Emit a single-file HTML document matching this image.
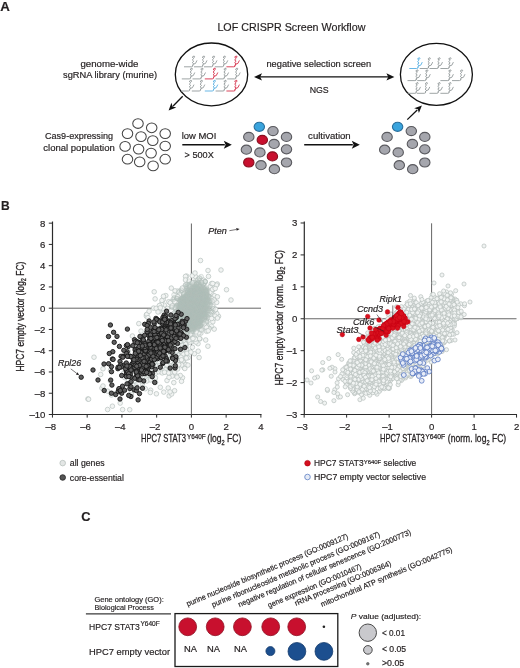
<!DOCTYPE html>
<html><head><meta charset="utf-8"><style>
html,body{margin:0;padding:0;background:#fff;}
svg{display:block;}
text{font-family:"Liberation Sans", Arial, sans-serif;fill:#231f20;stroke:#231f20;stroke-width:0.18px;}
</style></head><body>
<svg width="520" height="668" viewBox="0 0 520 668">
<rect width="520" height="668" fill="#fff"/>
<text x="0.3" y="10.9" font-size="12.4" font-weight="bold" fill="#000" textLength="9.6" lengthAdjust="spacingAndGlyphs" >A</text>
<text x="217.4" y="30.7" font-size="10.8" textLength="148" lengthAdjust="spacingAndGlyphs" >LOF CRISPR Screen Workflow</text>
<text x="109.4" y="66.5" font-size="9.3" text-anchor="middle" textLength="58" lengthAdjust="spacingAndGlyphs" >genome-wide</text>
<text x="110" y="78" font-size="9.3" text-anchor="middle" textLength="94" lengthAdjust="spacingAndGlyphs" >sgRNA library (murine)</text>
<text x="79" y="139.2" font-size="9.3" text-anchor="middle" textLength="68" lengthAdjust="spacingAndGlyphs" >Cas9-expressing</text>
<text x="79" y="150.5" font-size="9.3" text-anchor="middle" textLength="71.5" lengthAdjust="spacingAndGlyphs" >clonal population</text>
<text x="199" y="138.8" font-size="9.3" text-anchor="middle" textLength="34.7" lengthAdjust="spacingAndGlyphs" >low MOI</text>
<text x="199.2" y="157.7" font-size="9.3" text-anchor="middle" textLength="29.2" lengthAdjust="spacingAndGlyphs" >&gt; 500X</text>
<text x="329.4" y="138.8" font-size="9.3" text-anchor="middle" textLength="42.6" lengthAdjust="spacingAndGlyphs" >cultivation</text>
<text x="318.8" y="67" font-size="9.3" text-anchor="middle" textLength="104.7" lengthAdjust="spacingAndGlyphs" >negative selection screen</text>
<text x="319.2" y="92.8" font-size="9.3" text-anchor="middle" textLength="19.1" lengthAdjust="spacingAndGlyphs" >NGS</text>
<ellipse cx="211.5" cy="74.4" rx="36.2" ry="31.4" fill="none" stroke="#111" stroke-width="1.3"/>
<ellipse cx="436.4" cy="74.4" rx="36.0" ry="31.0" fill="none" stroke="#111" stroke-width="1.3"/>
<line x1="182.70" y1="96.20" x2="173.15" y2="105.96" stroke="#111" stroke-width="1.3"/>
<path d="M168.60,110.60 L171.42,102.86 L172.59,106.53 L176.28,107.62 Z" fill="#111"/>
<line x1="407.30" y1="119.60" x2="417.24" y2="109.93" stroke="#111" stroke-width="1.3"/>
<path d="M421.90,105.40 L418.89,113.07 L417.81,109.37 L414.15,108.19 Z" fill="#111"/>
<line x1="182.30" y1="144.80" x2="224.80" y2="144.80" stroke="#111" stroke-width="1.45"/>
<path d="M231.80,144.80 L223.80,148.80 L225.60,144.80 L223.80,140.80 Z" fill="#111"/>
<line x1="304.20" y1="144.80" x2="352.80" y2="144.80" stroke="#111" stroke-width="1.45"/>
<path d="M359.80,144.80 L351.80,148.80 L353.60,144.80 L351.80,140.80 Z" fill="#111"/>
<line x1="260" y1="76.9" x2="388" y2="76.9" stroke="#111" stroke-width="1.3"/>
<path d="M394.40,76.90 L386.40,80.50 L388.20,76.90 L386.40,73.30 Z" fill="#111"/>
<path d="M254.00,76.90 L262.00,73.30 L260.20,76.90 L262.00,80.50 Z" fill="#111"/>
<ellipse cx="138.0" cy="123.5" rx="5.25" ry="4.85" fill="#fff" stroke="#454545" stroke-width="1.05"/>
<ellipse cx="151.7" cy="127.8" rx="5.25" ry="4.85" fill="#fff" stroke="#454545" stroke-width="1.05"/>
<ellipse cx="127.5" cy="133.6" rx="5.25" ry="4.85" fill="#fff" stroke="#454545" stroke-width="1.05"/>
<ellipse cx="141.0" cy="136.6" rx="5.25" ry="4.85" fill="#fff" stroke="#454545" stroke-width="1.05"/>
<ellipse cx="152.8" cy="140.6" rx="5.25" ry="4.85" fill="#fff" stroke="#454545" stroke-width="1.05"/>
<ellipse cx="165.2" cy="133.6" rx="5.25" ry="4.85" fill="#fff" stroke="#454545" stroke-width="1.05"/>
<ellipse cx="125.1" cy="146.4" rx="5.25" ry="4.85" fill="#fff" stroke="#454545" stroke-width="1.05"/>
<ellipse cx="138.6" cy="149.1" rx="5.25" ry="4.85" fill="#fff" stroke="#454545" stroke-width="1.05"/>
<ellipse cx="151.1" cy="153.1" rx="5.25" ry="4.85" fill="#fff" stroke="#454545" stroke-width="1.05"/>
<ellipse cx="165.2" cy="146.0" rx="5.25" ry="4.85" fill="#fff" stroke="#454545" stroke-width="1.05"/>
<ellipse cx="127.5" cy="159.2" rx="5.25" ry="4.85" fill="#fff" stroke="#454545" stroke-width="1.05"/>
<ellipse cx="139.7" cy="161.9" rx="5.25" ry="4.85" fill="#fff" stroke="#454545" stroke-width="1.05"/>
<ellipse cx="153.1" cy="165.9" rx="5.25" ry="4.85" fill="#fff" stroke="#454545" stroke-width="1.05"/>
<ellipse cx="165.2" cy="159.2" rx="5.25" ry="4.85" fill="#fff" stroke="#454545" stroke-width="1.05"/>
<ellipse cx="259.3" cy="126.8" rx="5.2" ry="4.55" fill="#3aa4dd" stroke="#2a6f9c" stroke-width="1.1"/>
<ellipse cx="273.0" cy="131.1" rx="5.2" ry="4.55" fill="#a5a6ad" stroke="#59595e" stroke-width="1.1"/>
<ellipse cx="248.8" cy="136.9" rx="5.2" ry="4.55" fill="#a5a6ad" stroke="#59595e" stroke-width="1.1"/>
<ellipse cx="262.3" cy="139.9" rx="5.2" ry="4.55" fill="#c8102e" stroke="#8a0f1f" stroke-width="1.1"/>
<ellipse cx="274.1" cy="143.9" rx="5.2" ry="4.55" fill="#a5a6ad" stroke="#59595e" stroke-width="1.1"/>
<ellipse cx="286.5" cy="136.9" rx="5.2" ry="4.55" fill="#a5a6ad" stroke="#59595e" stroke-width="1.1"/>
<ellipse cx="246.4" cy="149.7" rx="5.2" ry="4.55" fill="#a5a6ad" stroke="#59595e" stroke-width="1.1"/>
<ellipse cx="259.9" cy="152.4" rx="5.2" ry="4.55" fill="#a5a6ad" stroke="#59595e" stroke-width="1.1"/>
<ellipse cx="272.4" cy="156.4" rx="5.2" ry="4.55" fill="#c8102e" stroke="#8a0f1f" stroke-width="1.1"/>
<ellipse cx="286.5" cy="149.3" rx="5.2" ry="4.55" fill="#a5a6ad" stroke="#59595e" stroke-width="1.1"/>
<ellipse cx="248.8" cy="162.5" rx="5.2" ry="4.55" fill="#c8102e" stroke="#8a0f1f" stroke-width="1.1"/>
<ellipse cx="261.0" cy="165.2" rx="5.2" ry="4.55" fill="#a5a6ad" stroke="#59595e" stroke-width="1.1"/>
<ellipse cx="274.4" cy="169.2" rx="5.2" ry="4.55" fill="#a5a6ad" stroke="#59595e" stroke-width="1.1"/>
<ellipse cx="286.5" cy="162.5" rx="5.2" ry="4.55" fill="#a5a6ad" stroke="#59595e" stroke-width="1.1"/>
<ellipse cx="397.6" cy="126.8" rx="5.2" ry="4.55" fill="#3aa4dd" stroke="#2a6f9c" stroke-width="1.1"/>
<ellipse cx="411.3" cy="131.1" rx="5.2" ry="4.55" fill="#a5a6ad" stroke="#59595e" stroke-width="1.1"/>
<ellipse cx="387.1" cy="136.9" rx="5.2" ry="4.55" fill="#a5a6ad" stroke="#59595e" stroke-width="1.1"/>
<ellipse cx="412.4" cy="143.9" rx="5.2" ry="4.55" fill="#a5a6ad" stroke="#59595e" stroke-width="1.1"/>
<ellipse cx="424.8" cy="136.9" rx="5.2" ry="4.55" fill="#a5a6ad" stroke="#59595e" stroke-width="1.1"/>
<ellipse cx="384.7" cy="149.7" rx="5.2" ry="4.55" fill="#a5a6ad" stroke="#59595e" stroke-width="1.1"/>
<ellipse cx="398.2" cy="152.4" rx="5.2" ry="4.55" fill="#a5a6ad" stroke="#59595e" stroke-width="1.1"/>
<ellipse cx="424.8" cy="149.3" rx="5.2" ry="4.55" fill="#a5a6ad" stroke="#59595e" stroke-width="1.1"/>
<ellipse cx="399.3" cy="165.2" rx="5.2" ry="4.55" fill="#a5a6ad" stroke="#59595e" stroke-width="1.1"/>
<ellipse cx="412.7" cy="169.2" rx="5.2" ry="4.55" fill="#a5a6ad" stroke="#59595e" stroke-width="1.1"/>
<ellipse cx="424.8" cy="162.5" rx="5.2" ry="4.55" fill="#a5a6ad" stroke="#59595e" stroke-width="1.1"/>
<g stroke="#8d9395" fill="none" stroke-width="0.85"><path d="M184.0,66.8 H191.4 Q193.0,66.8 193.0,65.2 L192.25,65.30 L193.75,63.95 L192.25,62.60 L193.75,61.25 L192.25,59.90 L193.75,58.55 L192.25,57.20 L193.00,57.10 q0.2,-1.6 1.4,-0.9 q0.6,0.6 -0.4,1.6"/><path d="M193.3,64.2 Q195.8,64.6 197.0,60.4"/></g>
<g stroke="#8d9395" fill="none" stroke-width="0.85"><path d="M194.0,66.8 H201.4 Q203.0,66.8 203.0,65.2 L202.25,65.30 L203.75,63.95 L202.25,62.60 L203.75,61.25 L202.25,59.90 L203.75,58.55 L202.25,57.20 L203.00,57.10 q0.2,-1.6 1.4,-0.9 q0.6,0.6 -0.4,1.6"/><path d="M203.3,64.2 Q205.8,64.6 207.0,60.4"/></g>
<g stroke="#8d9395" fill="none" stroke-width="0.85"><path d="M204.0,66.8 H211.4 Q213.0,66.8 213.0,65.2 L212.25,65.30 L213.75,63.95 L212.25,62.60 L213.75,61.25 L212.25,59.90 L213.75,58.55 L212.25,57.20 L213.00,57.10 q0.2,-1.6 1.4,-0.9 q0.6,0.6 -0.4,1.6"/><path d="M213.3,64.2 Q215.8,64.6 217.0,60.4"/></g>
<g stroke="#8d9395" fill="none" stroke-width="0.85"><path d="M214.8,66.8 H222.2 Q223.8,66.8 223.8,65.2 L223.05,65.30 L224.55,63.95 L223.05,62.60 L224.55,61.25 L223.05,59.90 L224.55,58.55 L223.05,57.20 L223.80,57.10 q0.2,-1.6 1.4,-0.9 q0.6,0.6 -0.4,1.6"/><path d="M224.1,64.2 Q226.6,64.6 227.8,60.4"/></g>
<g stroke="#d2233f" fill="none" stroke-width="0.85"><path d="M226.4,66.8 H233.8 Q235.4,66.8 235.4,65.2 L234.65,65.30 L236.15,63.95 L234.65,62.60 L236.15,61.25 L234.65,59.90 L236.15,58.55 L234.65,57.20 L235.40,57.10 q0.2,-1.6 1.4,-0.9 q0.6,0.6 -0.4,1.6"/><path d="M235.7,64.2 Q238.2,64.6 239.4,60.4"/></g>
<g stroke="#8d9395" fill="none" stroke-width="0.85"><path d="M181.8,78.9 H189.2 Q190.8,78.9 190.8,77.3 L190.05,77.40 L191.55,76.05 L190.05,74.70 L191.55,73.35 L190.05,72.00 L191.55,70.65 L190.05,69.30 L190.80,69.20 q0.2,-1.6 1.4,-0.9 q0.6,0.6 -0.4,1.6"/><path d="M191.1,76.3 Q193.6,76.7 194.8,72.5"/></g>
<g stroke="#8d9395" fill="none" stroke-width="0.85"><path d="M192.5,78.9 H199.9 Q201.5,78.9 201.5,77.3 L200.75,77.40 L202.25,76.05 L200.75,74.70 L202.25,73.35 L200.75,72.00 L202.25,70.65 L200.75,69.30 L201.50,69.20 q0.2,-1.6 1.4,-0.9 q0.6,0.6 -0.4,1.6"/><path d="M201.8,76.3 Q204.3,76.7 205.5,72.5"/></g>
<g stroke="#d2233f" fill="none" stroke-width="0.85"><path d="M204.8,78.9 H212.2 Q213.8,78.9 213.8,77.3 L213.05,77.40 L214.55,76.05 L213.05,74.70 L214.55,73.35 L213.05,72.00 L214.55,70.65 L213.05,69.30 L213.80,69.20 q0.2,-1.6 1.4,-0.9 q0.6,0.6 -0.4,1.6"/><path d="M214.1,76.3 Q216.6,76.7 217.8,72.5"/></g>
<g stroke="#8d9395" fill="none" stroke-width="0.85"><path d="M215.6,78.9 H223.0 Q224.6,78.9 224.6,77.3 L223.85,77.40 L225.35,76.05 L223.85,74.70 L225.35,73.35 L223.85,72.00 L225.35,70.65 L223.85,69.30 L224.60,69.20 q0.2,-1.6 1.4,-0.9 q0.6,0.6 -0.4,1.6"/><path d="M224.9,76.3 Q227.4,76.7 228.6,72.5"/></g>
<g stroke="#8d9395" fill="none" stroke-width="0.85"><path d="M227.2,78.9 H234.6 Q236.2,78.9 236.2,77.3 L235.45,77.40 L236.95,76.05 L235.45,74.70 L236.95,73.35 L235.45,72.00 L236.95,70.65 L235.45,69.30 L236.20,69.20 q0.2,-1.6 1.4,-0.9 q0.6,0.6 -0.4,1.6"/><path d="M236.5,76.3 Q239.0,76.7 240.2,72.5"/></g>
<g stroke="#8d9395" fill="none" stroke-width="0.85"><path d="M181.0,91.0 H188.4 Q190.0,91.0 190.0,89.4 L189.25,89.50 L190.75,88.15 L189.25,86.80 L190.75,85.45 L189.25,84.10 L190.75,82.75 L189.25,81.40 L190.00,81.30 q0.2,-1.6 1.4,-0.9 q0.6,0.6 -0.4,1.6"/><path d="M190.3,88.4 Q192.8,88.8 194.0,84.6"/></g>
<g stroke="#8d9395" fill="none" stroke-width="0.85"><path d="M191.8,91.0 H199.2 Q200.8,91.0 200.8,89.4 L200.05,89.50 L201.55,88.15 L200.05,86.80 L201.55,85.45 L200.05,84.10 L201.55,82.75 L200.05,81.40 L200.80,81.30 q0.2,-1.6 1.4,-0.9 q0.6,0.6 -0.4,1.6"/><path d="M201.1,88.4 Q203.6,88.8 204.8,84.6"/></g>
<g stroke="#4eaae0" fill="none" stroke-width="0.85"><path d="M204.8,91.0 H212.2 Q213.8,91.0 213.8,89.4 L213.05,89.50 L214.55,88.15 L213.05,86.80 L214.55,85.45 L213.05,84.10 L214.55,82.75 L213.05,81.40 L213.80,81.30 q0.2,-1.6 1.4,-0.9 q0.6,0.6 -0.4,1.6"/><path d="M214.1,88.4 Q216.6,88.8 217.8,84.6"/></g>
<g stroke="#8d9395" fill="none" stroke-width="0.85"><path d="M215.6,91.0 H223.0 Q224.6,91.0 224.6,89.4 L223.85,89.50 L225.35,88.15 L223.85,86.80 L225.35,85.45 L223.85,84.10 L225.35,82.75 L223.85,81.40 L224.60,81.30 q0.2,-1.6 1.4,-0.9 q0.6,0.6 -0.4,1.6"/><path d="M224.9,88.4 Q227.4,88.8 228.6,84.6"/></g>
<g stroke="#d2233f" fill="none" stroke-width="0.85"><path d="M226.4,91.0 H233.8 Q235.4,91.0 235.4,89.4 L234.65,89.50 L236.15,88.15 L234.65,86.80 L236.15,85.45 L234.65,84.10 L236.15,82.75 L234.65,81.40 L235.40,81.30 q0.2,-1.6 1.4,-0.9 q0.6,0.6 -0.4,1.6"/><path d="M235.7,88.4 Q238.2,88.8 239.4,84.6"/></g>
<g stroke="#4eaae0" fill="none" stroke-width="0.85"><path d="M409.3,68.5 H416.7 Q418.3,68.5 418.3,66.9 L417.55,67.00 L419.05,65.65 L417.55,64.30 L419.05,62.95 L417.55,61.60 L419.05,60.25 L417.55,58.90 L418.30,58.80 q0.2,-1.6 1.4,-0.9 q0.6,0.6 -0.4,1.6"/><path d="M418.6,65.9 Q421.1,66.3 422.3,62.1"/></g>
<g stroke="#8d9395" fill="none" stroke-width="0.85"><path d="M419.7,68.5 H427.1 Q428.7,68.5 428.7,66.9 L427.95,67.00 L429.45,65.65 L427.95,64.30 L429.45,62.95 L427.95,61.60 L429.45,60.25 L427.95,58.90 L428.70,58.80 q0.2,-1.6 1.4,-0.9 q0.6,0.6 -0.4,1.6"/><path d="M429.0,65.9 Q431.5,66.3 432.7,62.1"/></g>
<g stroke="#8d9395" fill="none" stroke-width="0.85"><path d="M429.5,68.5 H436.9 Q438.5,68.5 438.5,66.9 L437.75,67.00 L439.25,65.65 L437.75,64.30 L439.25,62.95 L437.75,61.60 L439.25,60.25 L437.75,58.90 L438.50,58.80 q0.2,-1.6 1.4,-0.9 q0.6,0.6 -0.4,1.6"/><path d="M438.8,65.9 Q441.3,66.3 442.5,62.1"/></g>
<g stroke="#8d9395" fill="none" stroke-width="0.85"><path d="M440.4,68.5 H447.8 Q449.4,68.5 449.4,66.9 L448.65,67.00 L450.15,65.65 L448.65,64.30 L450.15,62.95 L448.65,61.60 L450.15,60.25 L448.65,58.90 L449.40,58.80 q0.2,-1.6 1.4,-0.9 q0.6,0.6 -0.4,1.6"/><path d="M449.7,65.9 Q452.2,66.3 453.4,62.1"/></g>
<g stroke="#8d9395" fill="none" stroke-width="0.85"><path d="M407.5,80.6 H414.9 Q416.5,80.6 416.5,79.0 L415.75,79.10 L417.25,77.75 L415.75,76.40 L417.25,75.05 L415.75,73.70 L417.25,72.35 L415.75,71.00 L416.50,70.90 q0.2,-1.6 1.4,-0.9 q0.6,0.6 -0.4,1.6"/><path d="M416.8,78.0 Q419.3,78.4 420.5,74.2"/></g>
<g stroke="#8d9395" fill="none" stroke-width="0.85"><path d="M417.3,80.6 H424.7 Q426.3,80.6 426.3,79.0 L425.55,79.10 L427.05,77.75 L425.55,76.40 L427.05,75.05 L425.55,73.70 L427.05,72.35 L425.55,71.00 L426.30,70.90 q0.2,-1.6 1.4,-0.9 q0.6,0.6 -0.4,1.6"/><path d="M426.6,78.0 Q429.1,78.4 430.3,74.2"/></g>
<g stroke="#8d9395" fill="none" stroke-width="0.85"><path d="M440.4,80.6 H447.8 Q449.4,80.6 449.4,79.0 L448.65,79.10 L450.15,77.75 L448.65,76.40 L450.15,75.05 L448.65,73.70 L450.15,72.35 L448.65,71.00 L449.40,70.90 q0.2,-1.6 1.4,-0.9 q0.6,0.6 -0.4,1.6"/><path d="M449.7,78.0 Q452.2,78.4 453.4,74.2"/></g>
<g stroke="#8d9395" fill="none" stroke-width="0.85"><path d="M452.0,80.6 H459.4 Q461.0,80.6 461.0,79.0 L460.25,79.10 L461.75,77.75 L460.25,76.40 L461.75,75.05 L460.25,73.70 L461.75,72.35 L460.25,71.00 L461.00,70.90 q0.2,-1.6 1.4,-0.9 q0.6,0.6 -0.4,1.6"/><path d="M461.3,78.0 Q463.8,78.4 465.0,74.2"/></g>
<g stroke="#8d9395" fill="none" stroke-width="0.85"><path d="M407.5,93.3 H414.9 Q416.5,93.3 416.5,91.7 L415.75,91.80 L417.25,90.45 L415.75,89.10 L417.25,87.75 L415.75,86.40 L417.25,85.05 L415.75,83.70 L416.50,83.60 q0.2,-1.6 1.4,-0.9 q0.6,0.6 -0.4,1.6"/><path d="M416.8,90.7 Q419.3,91.1 420.5,86.9"/></g>
<g stroke="#8d9395" fill="none" stroke-width="0.85"><path d="M416.8,93.3 H424.2 Q425.8,93.3 425.8,91.7 L425.05,91.80 L426.55,90.45 L425.05,89.10 L426.55,87.75 L425.05,86.40 L426.55,85.05 L425.05,83.70 L425.80,83.60 q0.2,-1.6 1.4,-0.9 q0.6,0.6 -0.4,1.6"/><path d="M426.1,90.7 Q428.6,91.1 429.8,86.9"/></g>
<g stroke="#8d9395" fill="none" stroke-width="0.85"><path d="M429.5,93.3 H436.9 Q438.5,93.3 438.5,91.7 L437.75,91.80 L439.25,90.45 L437.75,89.10 L439.25,87.75 L437.75,86.40 L439.25,85.05 L437.75,83.70 L438.50,83.60 q0.2,-1.6 1.4,-0.9 q0.6,0.6 -0.4,1.6"/><path d="M438.8,90.7 Q441.3,91.1 442.5,86.9"/></g>
<g stroke="#8d9395" fill="none" stroke-width="0.85"><path d="M440.4,93.3 H447.8 Q449.4,93.3 449.4,91.7 L448.65,91.80 L450.15,90.45 L448.65,89.10 L450.15,87.75 L448.65,86.40 L450.15,85.05 L448.65,83.70 L449.40,83.60 q0.2,-1.6 1.4,-0.9 q0.6,0.6 -0.4,1.6"/><path d="M449.7,90.7 Q452.2,91.1 453.4,86.9"/></g>
<line x1="52.5" y1="221.5" x2="52.5" y2="415.1" stroke="#2b2b2b" stroke-width="1.2"/>
<line x1="51.9" y1="414.5" x2="261.5" y2="414.5" stroke="#2b2b2b" stroke-width="1.2"/>
<line x1="48.8" y1="414.50" x2="52.5" y2="414.50" stroke="#2b2b2b" stroke-width="1"/>
<text x="45.4" y="417.9" font-size="9.6" text-anchor="end" >&#8211;10</text>
<line x1="48.8" y1="393.24" x2="52.5" y2="393.24" stroke="#2b2b2b" stroke-width="1"/>
<text x="45.4" y="396.64" font-size="9.6" text-anchor="end" >&#8211;8</text>
<line x1="48.8" y1="371.98" x2="52.5" y2="371.98" stroke="#2b2b2b" stroke-width="1"/>
<text x="45.4" y="375.38" font-size="9.6" text-anchor="end" >&#8211;6</text>
<line x1="48.8" y1="350.72" x2="52.5" y2="350.72" stroke="#2b2b2b" stroke-width="1"/>
<text x="45.4" y="354.11999999999995" font-size="9.6" text-anchor="end" >&#8211;4</text>
<line x1="48.8" y1="329.46" x2="52.5" y2="329.46" stroke="#2b2b2b" stroke-width="1"/>
<text x="45.4" y="332.85999999999996" font-size="9.6" text-anchor="end" >&#8211;2</text>
<line x1="48.8" y1="308.20" x2="52.5" y2="308.20" stroke="#2b2b2b" stroke-width="1"/>
<text x="45.4" y="311.59999999999997" font-size="9.6" text-anchor="end" >0</text>
<line x1="48.8" y1="286.94" x2="52.5" y2="286.94" stroke="#2b2b2b" stroke-width="1"/>
<text x="45.4" y="290.34" font-size="9.6" text-anchor="end" >2</text>
<line x1="48.8" y1="265.68" x2="52.5" y2="265.68" stroke="#2b2b2b" stroke-width="1"/>
<text x="45.4" y="269.08" font-size="9.6" text-anchor="end" >4</text>
<line x1="48.8" y1="244.42" x2="52.5" y2="244.42" stroke="#2b2b2b" stroke-width="1"/>
<text x="45.4" y="247.82" font-size="9.6" text-anchor="end" >6</text>
<line x1="48.8" y1="223.16" x2="52.5" y2="223.16" stroke="#2b2b2b" stroke-width="1"/>
<text x="45.4" y="226.55999999999997" font-size="9.6" text-anchor="end" >8</text>
<line x1="52.44" y1="414.5" x2="52.44" y2="417.6" stroke="#2b2b2b" stroke-width="1"/>
<text x="50.839999999999996" y="429.6" font-size="9.6" text-anchor="middle" >&#8211;8</text>
<line x1="87.18" y1="414.5" x2="87.18" y2="417.6" stroke="#2b2b2b" stroke-width="1"/>
<text x="85.58000000000001" y="429.6" font-size="9.6" text-anchor="middle" >&#8211;6</text>
<line x1="121.92" y1="414.5" x2="121.92" y2="417.6" stroke="#2b2b2b" stroke-width="1"/>
<text x="120.32000000000001" y="429.6" font-size="9.6" text-anchor="middle" >&#8211;4</text>
<line x1="156.66" y1="414.5" x2="156.66" y2="417.6" stroke="#2b2b2b" stroke-width="1"/>
<text x="155.06" y="429.6" font-size="9.6" text-anchor="middle" >&#8211;2</text>
<line x1="191.40" y1="414.5" x2="191.40" y2="417.6" stroke="#2b2b2b" stroke-width="1"/>
<text x="191.4" y="429.6" font-size="9.6" text-anchor="middle" >0</text>
<line x1="226.14" y1="414.5" x2="226.14" y2="417.6" stroke="#2b2b2b" stroke-width="1"/>
<text x="226.14000000000001" y="429.6" font-size="9.6" text-anchor="middle" >2</text>
<line x1="260.88" y1="414.5" x2="260.88" y2="417.6" stroke="#2b2b2b" stroke-width="1"/>
<text x="260.88" y="429.6" font-size="9.6" text-anchor="middle" >4</text>
<line x1="191.40" y1="223.5" x2="191.40" y2="414.5" stroke="#555" stroke-width="0.9"/>
<line x1="52.5" y1="308.20" x2="261" y2="308.20" stroke="#555" stroke-width="0.9"/>
<line x1="304.3" y1="221.5" x2="304.3" y2="415.1" stroke="#2b2b2b" stroke-width="1.2"/>
<line x1="303.7" y1="414.5" x2="517" y2="414.5" stroke="#2b2b2b" stroke-width="1.2"/>
<line x1="300.6" y1="414.51" x2="304.3" y2="414.51" stroke="#2b2b2b" stroke-width="1"/>
<text x="297.4" y="417.90999999999997" font-size="9.6" text-anchor="end" >&#8211;3</text>
<line x1="300.6" y1="382.59" x2="304.3" y2="382.59" stroke="#2b2b2b" stroke-width="1"/>
<text x="297.4" y="385.99" font-size="9.6" text-anchor="end" >&#8211;2</text>
<line x1="300.6" y1="350.67" x2="304.3" y2="350.67" stroke="#2b2b2b" stroke-width="1"/>
<text x="297.4" y="354.07" font-size="9.6" text-anchor="end" >&#8211;1</text>
<line x1="300.6" y1="318.75" x2="304.3" y2="318.75" stroke="#2b2b2b" stroke-width="1"/>
<text x="297.4" y="322.15" font-size="9.6" text-anchor="end" >0</text>
<line x1="300.6" y1="286.83" x2="304.3" y2="286.83" stroke="#2b2b2b" stroke-width="1"/>
<text x="297.4" y="290.22999999999996" font-size="9.6" text-anchor="end" >1</text>
<line x1="300.6" y1="254.91" x2="304.3" y2="254.91" stroke="#2b2b2b" stroke-width="1"/>
<text x="297.4" y="258.31" font-size="9.6" text-anchor="end" >2</text>
<line x1="300.6" y1="222.99" x2="304.3" y2="222.99" stroke="#2b2b2b" stroke-width="1"/>
<text x="297.4" y="226.39000000000001" font-size="9.6" text-anchor="end" >3</text>
<line x1="304.16" y1="414.5" x2="304.16" y2="417.6" stroke="#2b2b2b" stroke-width="1"/>
<text x="302.56" y="429.6" font-size="9.6" text-anchor="middle" >&#8211;3</text>
<line x1="346.64" y1="414.5" x2="346.64" y2="417.6" stroke="#2b2b2b" stroke-width="1"/>
<text x="345.04" y="429.6" font-size="9.6" text-anchor="middle" >&#8211;2</text>
<line x1="389.12" y1="414.5" x2="389.12" y2="417.6" stroke="#2b2b2b" stroke-width="1"/>
<text x="387.52" y="429.6" font-size="9.6" text-anchor="middle" >&#8211;1</text>
<line x1="431.60" y1="414.5" x2="431.60" y2="417.6" stroke="#2b2b2b" stroke-width="1"/>
<text x="431.6" y="429.6" font-size="9.6" text-anchor="middle" >0</text>
<line x1="474.08" y1="414.5" x2="474.08" y2="417.6" stroke="#2b2b2b" stroke-width="1"/>
<text x="474.08000000000004" y="429.6" font-size="9.6" text-anchor="middle" >1</text>
<line x1="516.56" y1="414.5" x2="516.56" y2="417.6" stroke="#2b2b2b" stroke-width="1"/>
<text x="516.5600000000001" y="429.6" font-size="9.6" text-anchor="middle" >2</text>
<line x1="431.60" y1="223.3" x2="431.60" y2="414.5" stroke="#555" stroke-width="0.9"/>
<line x1="304.3" y1="318.75" x2="516.5" y2="318.75" stroke="#555" stroke-width="0.9"/>
<g fill="#f2f4f3" stroke="#b7c1be" stroke-width="0.7">
<circle cx="192.8" cy="315.6" r="2.3"/><circle cx="184.3" cy="304.9" r="2.3"/><circle cx="185.0" cy="301.5" r="2.3"/><circle cx="201.8" cy="322.0" r="2.3"/><circle cx="188.8" cy="302.8" r="2.3"/><circle cx="188.8" cy="323.8" r="2.3"/><circle cx="180.4" cy="310.8" r="2.3"/><circle cx="196.7" cy="317.2" r="2.3"/><circle cx="198.0" cy="289.9" r="2.3"/><circle cx="195.4" cy="276.5" r="2.3"/><circle cx="204.6" cy="283.0" r="2.3"/><circle cx="204.1" cy="294.9" r="2.3"/><circle cx="186.8" cy="315.6" r="2.3"/><circle cx="208.0" cy="270.5" r="2.3"/><circle cx="191.5" cy="313.8" r="2.3"/><circle cx="199.6" cy="286.8" r="2.3"/><circle cx="191.5" cy="293.9" r="2.3"/><circle cx="172.8" cy="326.9" r="2.3"/><circle cx="198.5" cy="318.1" r="2.3"/><circle cx="194.3" cy="304.0" r="2.3"/><circle cx="189.6" cy="316.1" r="2.3"/><circle cx="201.9" cy="294.6" r="2.3"/><circle cx="163.3" cy="327.9" r="2.3"/><circle cx="183.3" cy="328.5" r="2.3"/><circle cx="214.4" cy="314.1" r="2.3"/><circle cx="171.9" cy="320.1" r="2.3"/><circle cx="194.7" cy="318.2" r="2.3"/><circle cx="198.0" cy="314.5" r="2.3"/><circle cx="196.8" cy="316.4" r="2.3"/><circle cx="170.6" cy="333.7" r="2.3"/><circle cx="183.9" cy="314.9" r="2.3"/><circle cx="177.9" cy="309.9" r="2.3"/><circle cx="193.5" cy="303.6" r="2.3"/><circle cx="192.4" cy="334.5" r="2.3"/><circle cx="194.7" cy="288.4" r="2.3"/><circle cx="165.7" cy="314.1" r="2.3"/><circle cx="193.3" cy="306.0" r="2.3"/><circle cx="184.9" cy="337.9" r="2.3"/><circle cx="189.6" cy="306.8" r="2.3"/><circle cx="206.4" cy="317.9" r="2.3"/><circle cx="191.1" cy="305.5" r="2.3"/><circle cx="185.7" cy="319.1" r="2.3"/><circle cx="181.5" cy="305.0" r="2.3"/><circle cx="186.0" cy="311.5" r="2.3"/><circle cx="185.4" cy="336.3" r="2.3"/><circle cx="196.4" cy="317.1" r="2.3"/><circle cx="202.8" cy="314.0" r="2.3"/><circle cx="195.4" cy="317.0" r="2.3"/><circle cx="205.0" cy="294.9" r="2.3"/><circle cx="186.6" cy="276.1" r="2.3"/><circle cx="184.5" cy="304.4" r="2.3"/><circle cx="209.3" cy="328.4" r="2.3"/><circle cx="191.8" cy="297.3" r="2.3"/><circle cx="192.7" cy="319.9" r="2.3"/><circle cx="189.7" cy="310.1" r="2.3"/><circle cx="188.4" cy="328.1" r="2.3"/><circle cx="198.7" cy="296.9" r="2.3"/><circle cx="179.9" cy="309.1" r="2.3"/><circle cx="179.7" cy="313.7" r="2.3"/><circle cx="182.9" cy="330.7" r="2.3"/><circle cx="183.7" cy="312.4" r="2.3"/><circle cx="172.6" cy="301.6" r="2.3"/><circle cx="203.7" cy="297.6" r="2.3"/><circle cx="217.3" cy="284.0" r="2.3"/><circle cx="212.9" cy="289.7" r="2.3"/><circle cx="204.9" cy="304.4" r="2.3"/><circle cx="174.6" cy="308.1" r="2.3"/><circle cx="191.9" cy="341.7" r="2.3"/><circle cx="188.1" cy="311.5" r="2.3"/><circle cx="182.4" cy="306.3" r="2.3"/><circle cx="174.9" cy="328.9" r="2.3"/><circle cx="183.1" cy="309.0" r="2.3"/><circle cx="183.9" cy="297.2" r="2.3"/><circle cx="177.1" cy="333.5" r="2.3"/><circle cx="181.3" cy="329.7" r="2.3"/><circle cx="193.3" cy="301.1" r="2.3"/><circle cx="195.2" cy="305.0" r="2.3"/><circle cx="190.7" cy="306.4" r="2.3"/><circle cx="195.1" cy="287.5" r="2.3"/><circle cx="168.7" cy="337.3" r="2.3"/><circle cx="202.7" cy="298.7" r="2.3"/><circle cx="163.7" cy="329.2" r="2.3"/><circle cx="186.1" cy="307.3" r="2.3"/><circle cx="212.9" cy="289.3" r="2.3"/><circle cx="190.9" cy="314.0" r="2.3"/><circle cx="201.1" cy="304.2" r="2.3"/><circle cx="193.6" cy="304.5" r="2.3"/><circle cx="188.9" cy="289.7" r="2.3"/><circle cx="173.1" cy="333.0" r="2.3"/><circle cx="187.0" cy="318.5" r="2.3"/><circle cx="189.3" cy="304.2" r="2.3"/><circle cx="181.5" cy="322.6" r="2.3"/><circle cx="191.6" cy="311.7" r="2.3"/><circle cx="185.5" cy="336.6" r="2.3"/><circle cx="181.3" cy="317.2" r="2.3"/><circle cx="211.4" cy="296.6" r="2.3"/><circle cx="179.9" cy="328.9" r="2.3"/><circle cx="192.3" cy="326.8" r="2.3"/><circle cx="190.9" cy="332.3" r="2.3"/><circle cx="208.2" cy="314.5" r="2.3"/><circle cx="209.4" cy="298.3" r="2.3"/><circle cx="193.6" cy="326.6" r="2.3"/><circle cx="186.6" cy="352.2" r="2.3"/><circle cx="184.8" cy="286.7" r="2.3"/><circle cx="173.1" cy="321.9" r="2.3"/><circle cx="197.9" cy="318.2" r="2.3"/><circle cx="185.5" cy="276.4" r="2.3"/><circle cx="188.0" cy="318.4" r="2.3"/><circle cx="192.6" cy="310.2" r="2.3"/><circle cx="183.9" cy="292.2" r="2.3"/><circle cx="156.0" cy="347.0" r="2.3"/><circle cx="187.3" cy="333.9" r="2.3"/><circle cx="192.3" cy="302.9" r="2.3"/><circle cx="148.0" cy="375.3" r="2.3"/><circle cx="140.1" cy="337.6" r="2.3"/><circle cx="128.2" cy="351.1" r="2.3"/><circle cx="165.1" cy="311.8" r="2.3"/><circle cx="172.1" cy="336.1" r="2.3"/><circle cx="171.2" cy="317.1" r="2.3"/><circle cx="174.7" cy="326.4" r="2.3"/><circle cx="148.5" cy="359.2" r="2.3"/><circle cx="174.1" cy="331.3" r="2.3"/><circle cx="153.5" cy="372.5" r="2.3"/><circle cx="155.4" cy="373.4" r="2.3"/><circle cx="87.9" cy="399.0" r="2.3"/><circle cx="188.8" cy="312.8" r="2.3"/><circle cx="124.0" cy="372.8" r="2.3"/><circle cx="142.0" cy="337.8" r="2.3"/><circle cx="167.8" cy="366.3" r="2.3"/><circle cx="196.3" cy="317.0" r="2.3"/><circle cx="160.3" cy="335.4" r="2.3"/><circle cx="126.1" cy="367.0" r="2.3"/><circle cx="155.8" cy="351.3" r="2.3"/><circle cx="137.2" cy="342.3" r="2.3"/><circle cx="155.4" cy="339.8" r="2.3"/><circle cx="131.4" cy="394.0" r="2.3"/><circle cx="159.8" cy="358.4" r="2.3"/><circle cx="191.0" cy="290.2" r="2.3"/><circle cx="163.5" cy="326.1" r="2.3"/><circle cx="218.5" cy="316.3" r="2.3"/><circle cx="185.5" cy="285.0" r="2.3"/><circle cx="157.8" cy="329.4" r="2.3"/><circle cx="100.7" cy="374.4" r="2.3"/><circle cx="152.4" cy="355.0" r="2.3"/><circle cx="184.0" cy="320.0" r="2.3"/><circle cx="186.3" cy="334.5" r="2.3"/><circle cx="94.0" cy="357.2" r="2.3"/><circle cx="147.4" cy="356.1" r="2.3"/><circle cx="132.4" cy="336.0" r="2.3"/><circle cx="157.8" cy="354.7" r="2.3"/><circle cx="147.1" cy="349.5" r="2.3"/><circle cx="145.3" cy="388.7" r="2.3"/><circle cx="139.0" cy="369.2" r="2.3"/><circle cx="134.1" cy="346.6" r="2.3"/><circle cx="190.2" cy="332.9" r="2.3"/><circle cx="125.3" cy="354.0" r="2.3"/><circle cx="164.6" cy="327.6" r="2.3"/><circle cx="131.3" cy="390.7" r="2.3"/><circle cx="188.7" cy="319.2" r="2.3"/><circle cx="158.1" cy="350.6" r="2.3"/><circle cx="150.5" cy="350.3" r="2.3"/><circle cx="190.5" cy="318.1" r="2.3"/><circle cx="112.4" cy="406.2" r="2.3"/><circle cx="114.0" cy="393.8" r="2.3"/><circle cx="172.6" cy="346.9" r="2.3"/><circle cx="142.4" cy="384.0" r="2.3"/><circle cx="140.2" cy="361.1" r="2.3"/><circle cx="190.2" cy="289.5" r="2.3"/><circle cx="158.7" cy="371.8" r="2.3"/><circle cx="151.4" cy="348.2" r="2.3"/><circle cx="154.2" cy="358.6" r="2.3"/><circle cx="188.4" cy="329.3" r="2.3"/><circle cx="148.3" cy="334.2" r="2.3"/><circle cx="159.8" cy="350.0" r="2.3"/><circle cx="103.0" cy="368.8" r="2.3"/><circle cx="148.8" cy="366.9" r="2.3"/><circle cx="146.0" cy="346.1" r="2.3"/><circle cx="111.4" cy="395.0" r="2.3"/><circle cx="172.2" cy="341.7" r="2.3"/><circle cx="154.2" cy="333.4" r="2.3"/><circle cx="199.7" cy="300.6" r="2.3"/><circle cx="101.9" cy="388.1" r="2.3"/><circle cx="124.6" cy="377.5" r="2.3"/><circle cx="136.4" cy="386.1" r="2.3"/><circle cx="133.0" cy="369.7" r="2.3"/><circle cx="146.3" cy="352.6" r="2.3"/><circle cx="134.3" cy="346.8" r="2.3"/><circle cx="165.7" cy="351.7" r="2.3"/><circle cx="155.6" cy="344.7" r="2.3"/><circle cx="165.8" cy="368.1" r="2.3"/><circle cx="103.0" cy="386.0" r="2.3"/><circle cx="146.0" cy="376.0" r="2.3"/><circle cx="169.7" cy="365.8" r="2.3"/><circle cx="165.8" cy="334.3" r="2.3"/><circle cx="155.5" cy="321.6" r="2.3"/><circle cx="122.6" cy="409.6" r="2.3"/><circle cx="147.4" cy="374.7" r="2.3"/><circle cx="155.5" cy="359.1" r="2.3"/><circle cx="170.5" cy="351.2" r="2.3"/><circle cx="175.4" cy="315.3" r="2.3"/><circle cx="159.8" cy="355.9" r="2.3"/><circle cx="133.9" cy="381.4" r="2.3"/><circle cx="154.3" cy="333.4" r="2.3"/><circle cx="163.5" cy="350.9" r="2.3"/><circle cx="151.3" cy="339.6" r="2.3"/><circle cx="156.7" cy="362.4" r="2.3"/><circle cx="204.5" cy="317.1" r="2.3"/><circle cx="174.7" cy="361.1" r="2.3"/><circle cx="153.6" cy="308.1" r="2.3"/><circle cx="129.5" cy="377.9" r="2.3"/><circle cx="167.8" cy="326.1" r="2.3"/><circle cx="134.8" cy="366.5" r="2.3"/><circle cx="107.6" cy="391.1" r="2.3"/><circle cx="157.6" cy="340.7" r="2.3"/><circle cx="146.4" cy="314.8" r="2.3"/><circle cx="155.3" cy="365.4" r="2.3"/><circle cx="165.7" cy="365.0" r="2.3"/><circle cx="186.5" cy="331.9" r="2.3"/><circle cx="151.1" cy="375.8" r="2.3"/><circle cx="88.6" cy="399.2" r="2.3"/><circle cx="148.3" cy="334.9" r="2.3"/><circle cx="165.0" cy="353.6" r="2.3"/><circle cx="191.7" cy="334.1" r="2.3"/><circle cx="144.9" cy="362.4" r="2.3"/><circle cx="168.8" cy="301.7" r="2.3"/><circle cx="207.9" cy="346.2" r="2.3"/><circle cx="110.4" cy="380.8" r="2.3"/><circle cx="184.8" cy="335.0" r="2.3"/><circle cx="110.5" cy="370.2" r="2.3"/><circle cx="120.2" cy="403.1" r="2.3"/><circle cx="145.8" cy="360.0" r="2.3"/><circle cx="150.4" cy="380.0" r="2.3"/><circle cx="141.0" cy="331.1" r="2.3"/><circle cx="157.2" cy="325.5" r="2.3"/><circle cx="189.9" cy="316.0" r="2.3"/><circle cx="157.5" cy="359.6" r="2.3"/><circle cx="129.7" cy="409.7" r="2.3"/><circle cx="128.3" cy="380.7" r="2.3"/><circle cx="175.2" cy="323.9" r="2.3"/><circle cx="173.4" cy="326.9" r="2.3"/><circle cx="164.2" cy="336.8" r="2.3"/><circle cx="153.4" cy="369.0" r="2.3"/><circle cx="155.9" cy="344.9" r="2.3"/><circle cx="144.5" cy="356.4" r="2.3"/><circle cx="128.8" cy="345.9" r="2.3"/><circle cx="138.8" cy="323.6" r="2.3"/><circle cx="152.3" cy="350.2" r="2.3"/><circle cx="152.1" cy="363.2" r="2.3"/><circle cx="152.7" cy="348.3" r="2.3"/><circle cx="142.6" cy="370.0" r="2.3"/><circle cx="107.6" cy="409.5" r="2.3"/><circle cx="134.6" cy="367.1" r="2.3"/><circle cx="158.9" cy="361.6" r="2.3"/><circle cx="188.5" cy="296.9" r="2.3"/><circle cx="140.5" cy="361.9" r="2.3"/><circle cx="196.7" cy="295.6" r="2.3"/><circle cx="189.1" cy="312.3" r="2.3"/><circle cx="134.4" cy="380.9" r="2.3"/><circle cx="140.6" cy="378.9" r="2.3"/><circle cx="156.2" cy="348.1" r="2.3"/><circle cx="200.9" cy="307.4" r="2.3"/><circle cx="157.3" cy="337.3" r="2.3"/><circle cx="167.9" cy="331.0" r="2.3"/><circle cx="146.7" cy="381.0" r="2.3"/><circle cx="157.7" cy="369.0" r="2.3"/><circle cx="176.8" cy="334.1" r="2.3"/><circle cx="183.9" cy="320.1" r="2.3"/><circle cx="172.4" cy="368.4" r="2.3"/><circle cx="194.7" cy="310.7" r="2.3"/><circle cx="191.4" cy="305.5" r="2.3"/><circle cx="188.1" cy="300.9" r="2.3"/><circle cx="191.0" cy="303.7" r="2.3"/><circle cx="183.7" cy="305.8" r="2.3"/><circle cx="193.9" cy="312.4" r="2.3"/><circle cx="191.2" cy="305.7" r="2.3"/><circle cx="177.4" cy="309.8" r="2.3"/><circle cx="193.5" cy="315.5" r="2.3"/><circle cx="195.6" cy="313.9" r="2.3"/><circle cx="195.5" cy="300.0" r="2.3"/><circle cx="194.0" cy="318.4" r="2.3"/><circle cx="180.6" cy="306.1" r="2.3"/><circle cx="200.6" cy="319.8" r="2.3"/><circle cx="190.4" cy="322.2" r="2.3"/><circle cx="210.2" cy="293.3" r="2.3"/><circle cx="174.2" cy="298.0" r="2.3"/><circle cx="179.8" cy="308.2" r="2.3"/><circle cx="195.9" cy="290.8" r="2.3"/><circle cx="184.0" cy="323.3" r="2.3"/><circle cx="206.7" cy="318.7" r="2.3"/><circle cx="184.4" cy="328.2" r="2.3"/><circle cx="185.1" cy="301.5" r="2.3"/><circle cx="201.3" cy="302.0" r="2.3"/><circle cx="192.7" cy="314.3" r="2.3"/><circle cx="182.3" cy="318.4" r="2.3"/><circle cx="200.3" cy="311.0" r="2.3"/><circle cx="199.5" cy="320.0" r="2.3"/><circle cx="189.3" cy="312.8" r="2.3"/><circle cx="183.9" cy="309.8" r="2.3"/><circle cx="207.7" cy="291.0" r="2.3"/><circle cx="196.8" cy="309.4" r="2.3"/><circle cx="200.3" cy="286.8" r="2.3"/><circle cx="190.2" cy="298.5" r="2.3"/><circle cx="203.6" cy="280.1" r="2.3"/><circle cx="192.2" cy="321.4" r="2.3"/><circle cx="197.2" cy="301.6" r="2.3"/><circle cx="167.4" cy="308.3" r="2.3"/><circle cx="199.1" cy="309.4" r="2.3"/><circle cx="204.1" cy="323.5" r="2.3"/><circle cx="190.3" cy="324.1" r="2.3"/><circle cx="198.8" cy="315.6" r="2.3"/><circle cx="196.6" cy="302.2" r="2.3"/><circle cx="205.0" cy="327.2" r="2.3"/><circle cx="194.5" cy="306.9" r="2.3"/><circle cx="203.8" cy="316.3" r="2.3"/><circle cx="206.1" cy="313.9" r="2.3"/><circle cx="197.8" cy="296.5" r="2.3"/><circle cx="201.5" cy="309.4" r="2.3"/><circle cx="176.0" cy="316.4" r="2.3"/><circle cx="201.7" cy="299.0" r="2.3"/><circle cx="185.2" cy="295.4" r="2.3"/><circle cx="192.3" cy="323.5" r="2.3"/><circle cx="187.4" cy="313.3" r="2.3"/><circle cx="186.4" cy="320.8" r="2.3"/><circle cx="180.6" cy="319.2" r="2.3"/><circle cx="200.3" cy="299.3" r="2.3"/><circle cx="203.3" cy="302.8" r="2.3"/><circle cx="185.1" cy="308.9" r="2.3"/><circle cx="190.7" cy="308.6" r="2.3"/><circle cx="183.8" cy="318.0" r="2.3"/><circle cx="206.3" cy="308.0" r="2.3"/><circle cx="198.0" cy="343.7" r="2.3"/><circle cx="195.4" cy="310.6" r="2.3"/><circle cx="184.6" cy="327.4" r="2.3"/><circle cx="200.3" cy="297.4" r="2.3"/><circle cx="184.8" cy="311.5" r="2.3"/><circle cx="191.3" cy="283.6" r="2.3"/><circle cx="184.2" cy="314.4" r="2.3"/><circle cx="196.5" cy="308.0" r="2.3"/><circle cx="187.9" cy="315.4" r="2.3"/><circle cx="184.0" cy="311.9" r="2.3"/><circle cx="187.6" cy="300.8" r="2.3"/><circle cx="187.6" cy="322.8" r="2.3"/><circle cx="195.2" cy="298.6" r="2.3"/><circle cx="200.9" cy="308.8" r="2.3"/><circle cx="194.3" cy="285.7" r="2.3"/><circle cx="216.7" cy="313.5" r="2.3"/><circle cx="187.9" cy="320.3" r="2.3"/><circle cx="206.8" cy="325.2" r="2.3"/><circle cx="192.3" cy="304.8" r="2.3"/><circle cx="191.4" cy="325.7" r="2.3"/><circle cx="186.2" cy="315.4" r="2.3"/><circle cx="197.4" cy="338.8" r="2.3"/><circle cx="196.5" cy="318.4" r="2.3"/><circle cx="210.3" cy="286.4" r="2.3"/><circle cx="198.6" cy="308.2" r="2.3"/><circle cx="187.5" cy="316.1" r="2.3"/><circle cx="206.2" cy="289.6" r="2.3"/><circle cx="195.4" cy="298.7" r="2.3"/><circle cx="194.5" cy="300.3" r="2.3"/><circle cx="216.5" cy="285.1" r="2.3"/><circle cx="201.7" cy="316.1" r="2.3"/><circle cx="183.4" cy="333.4" r="2.3"/><circle cx="196.6" cy="283.6" r="2.3"/><circle cx="196.5" cy="292.4" r="2.3"/><circle cx="177.3" cy="302.7" r="2.3"/><circle cx="179.8" cy="307.7" r="2.3"/><circle cx="191.5" cy="312.3" r="2.3"/><circle cx="195.1" cy="304.9" r="2.3"/><circle cx="192.0" cy="300.2" r="2.3"/><circle cx="203.0" cy="288.2" r="2.3"/><circle cx="200.0" cy="338.8" r="2.3"/><circle cx="192.5" cy="327.8" r="2.3"/><circle cx="209.4" cy="305.9" r="2.3"/><circle cx="193.7" cy="308.1" r="2.3"/><circle cx="196.3" cy="305.8" r="2.3"/><circle cx="195.7" cy="303.4" r="2.3"/><circle cx="196.9" cy="294.3" r="2.3"/><circle cx="181.0" cy="336.7" r="2.3"/><circle cx="199.6" cy="308.0" r="2.3"/><circle cx="181.1" cy="313.7" r="2.3"/><circle cx="202.6" cy="309.8" r="2.3"/><circle cx="193.5" cy="312.8" r="2.3"/><circle cx="180.0" cy="325.6" r="2.3"/><circle cx="189.3" cy="308.1" r="2.3"/><circle cx="170.0" cy="320.2" r="2.3"/><circle cx="193.4" cy="298.9" r="2.3"/><circle cx="195.3" cy="319.3" r="2.3"/><circle cx="173.6" cy="320.4" r="2.3"/><circle cx="187.5" cy="317.2" r="2.3"/><circle cx="202.0" cy="302.8" r="2.3"/><circle cx="182.1" cy="290.2" r="2.3"/><circle cx="183.8" cy="299.0" r="2.3"/><circle cx="200.6" cy="302.4" r="2.3"/><circle cx="205.2" cy="318.6" r="2.3"/><circle cx="182.6" cy="301.0" r="2.3"/><circle cx="190.7" cy="296.4" r="2.3"/><circle cx="204.2" cy="295.6" r="2.3"/><circle cx="181.4" cy="293.9" r="2.3"/><circle cx="189.3" cy="317.2" r="2.3"/><circle cx="192.9" cy="313.8" r="2.3"/><circle cx="190.9" cy="316.9" r="2.3"/><circle cx="190.7" cy="325.7" r="2.3"/><circle cx="195.2" cy="315.3" r="2.3"/><circle cx="200.6" cy="290.5" r="2.3"/><circle cx="197.1" cy="306.6" r="2.3"/><circle cx="214.7" cy="298.2" r="2.3"/><circle cx="183.6" cy="305.9" r="2.3"/><circle cx="201.0" cy="287.0" r="2.3"/><circle cx="188.6" cy="305.3" r="2.3"/><circle cx="188.3" cy="307.8" r="2.3"/><circle cx="185.1" cy="313.1" r="2.3"/><circle cx="202.2" cy="312.1" r="2.3"/><circle cx="171.8" cy="336.9" r="2.3"/><circle cx="189.7" cy="300.3" r="2.3"/><circle cx="180.4" cy="314.5" r="2.3"/><circle cx="196.4" cy="302.9" r="2.3"/><circle cx="191.6" cy="293.5" r="2.3"/><circle cx="179.5" cy="295.6" r="2.3"/><circle cx="198.5" cy="289.8" r="2.3"/><circle cx="191.7" cy="310.1" r="2.3"/><circle cx="199.9" cy="285.5" r="2.3"/><circle cx="194.2" cy="320.8" r="2.3"/><circle cx="187.2" cy="304.8" r="2.3"/><circle cx="185.8" cy="314.7" r="2.3"/><circle cx="193.9" cy="291.7" r="2.3"/><circle cx="187.9" cy="327.6" r="2.3"/><circle cx="183.8" cy="321.5" r="2.3"/><circle cx="184.0" cy="318.3" r="2.3"/><circle cx="215.1" cy="316.1" r="2.3"/><circle cx="185.7" cy="316.6" r="2.3"/><circle cx="197.1" cy="309.1" r="2.3"/><circle cx="183.4" cy="322.1" r="2.3"/><circle cx="201.2" cy="286.6" r="2.3"/><circle cx="194.8" cy="309.6" r="2.3"/><circle cx="189.4" cy="326.3" r="2.3"/><circle cx="180.6" cy="315.0" r="2.3"/><circle cx="206.3" cy="327.2" r="2.3"/><circle cx="191.8" cy="319.4" r="2.3"/><circle cx="207.7" cy="317.4" r="2.3"/><circle cx="198.2" cy="297.2" r="2.3"/><circle cx="197.5" cy="317.3" r="2.3"/><circle cx="198.9" cy="304.7" r="2.3"/><circle cx="196.5" cy="306.0" r="2.3"/><circle cx="185.4" cy="303.2" r="2.3"/><circle cx="201.3" cy="311.9" r="2.3"/><circle cx="197.3" cy="296.3" r="2.3"/><circle cx="181.7" cy="313.3" r="2.3"/><circle cx="184.4" cy="307.4" r="2.3"/><circle cx="206.6" cy="331.3" r="2.3"/><circle cx="181.2" cy="333.0" r="2.3"/><circle cx="190.9" cy="318.5" r="2.3"/><circle cx="206.0" cy="315.9" r="2.3"/><circle cx="209.8" cy="296.6" r="2.3"/><circle cx="205.7" cy="313.5" r="2.3"/><circle cx="187.5" cy="308.9" r="2.3"/><circle cx="198.5" cy="315.1" r="2.3"/><circle cx="197.8" cy="311.2" r="2.3"/><circle cx="179.5" cy="294.9" r="2.3"/><circle cx="194.8" cy="322.6" r="2.3"/><circle cx="193.7" cy="311.1" r="2.3"/><circle cx="184.6" cy="320.1" r="2.3"/><circle cx="196.3" cy="299.6" r="2.3"/><circle cx="176.2" cy="318.6" r="2.3"/><circle cx="182.3" cy="321.3" r="2.3"/><circle cx="210.3" cy="300.0" r="2.3"/><circle cx="184.0" cy="303.1" r="2.3"/><circle cx="203.5" cy="308.0" r="2.3"/><circle cx="184.0" cy="322.1" r="2.3"/><circle cx="197.6" cy="316.6" r="2.3"/><circle cx="200.4" cy="302.4" r="2.3"/><circle cx="189.8" cy="306.7" r="2.3"/><circle cx="197.2" cy="303.2" r="2.3"/><circle cx="189.2" cy="307.3" r="2.3"/><circle cx="205.4" cy="307.8" r="2.3"/><circle cx="200.0" cy="314.8" r="2.3"/><circle cx="192.2" cy="325.9" r="2.3"/><circle cx="174.9" cy="333.9" r="2.3"/><circle cx="187.0" cy="317.8" r="2.3"/><circle cx="197.7" cy="337.9" r="2.3"/><circle cx="196.8" cy="281.5" r="2.3"/><circle cx="196.8" cy="320.0" r="2.3"/><circle cx="189.4" cy="317.8" r="2.3"/><circle cx="196.8" cy="317.0" r="2.3"/><circle cx="202.8" cy="311.8" r="2.3"/><circle cx="211.5" cy="283.6" r="2.3"/><circle cx="207.4" cy="299.8" r="2.3"/><circle cx="188.0" cy="303.0" r="2.3"/><circle cx="184.5" cy="310.3" r="2.3"/><circle cx="186.2" cy="292.1" r="2.3"/><circle cx="198.2" cy="310.5" r="2.3"/><circle cx="187.3" cy="321.0" r="2.3"/><circle cx="188.4" cy="321.9" r="2.3"/><circle cx="199.2" cy="309.9" r="2.3"/><circle cx="185.4" cy="320.8" r="2.3"/><circle cx="194.0" cy="305.4" r="2.3"/><circle cx="186.2" cy="306.8" r="2.3"/><circle cx="185.1" cy="320.2" r="2.3"/><circle cx="184.8" cy="311.7" r="2.3"/><circle cx="195.2" cy="314.8" r="2.3"/><circle cx="212.7" cy="311.2" r="2.3"/><circle cx="206.4" cy="320.0" r="2.3"/><circle cx="183.4" cy="318.4" r="2.3"/><circle cx="199.6" cy="305.9" r="2.3"/><circle cx="194.1" cy="309.9" r="2.3"/><circle cx="180.9" cy="298.9" r="2.3"/><circle cx="177.2" cy="298.2" r="2.3"/><circle cx="186.1" cy="310.9" r="2.3"/><circle cx="196.1" cy="299.4" r="2.3"/><circle cx="180.9" cy="307.2" r="2.3"/><circle cx="194.9" cy="283.7" r="2.3"/><circle cx="197.3" cy="280.4" r="2.3"/><circle cx="176.7" cy="324.7" r="2.3"/><circle cx="179.3" cy="312.0" r="2.3"/><circle cx="189.8" cy="311.5" r="2.3"/><circle cx="199.0" cy="310.3" r="2.3"/><circle cx="186.0" cy="331.3" r="2.3"/><circle cx="185.4" cy="307.0" r="2.3"/><circle cx="188.8" cy="315.3" r="2.3"/><circle cx="189.1" cy="319.1" r="2.3"/><circle cx="168.4" cy="323.2" r="2.3"/><circle cx="202.8" cy="308.6" r="2.3"/><circle cx="189.5" cy="301.8" r="2.3"/><circle cx="184.2" cy="300.7" r="2.3"/><circle cx="213.2" cy="319.3" r="2.3"/><circle cx="178.7" cy="319.0" r="2.3"/><circle cx="195.5" cy="296.8" r="2.3"/><circle cx="181.8" cy="318.4" r="2.3"/><circle cx="205.0" cy="303.7" r="2.3"/><circle cx="186.2" cy="318.3" r="2.3"/><circle cx="187.5" cy="289.7" r="2.3"/><circle cx="179.7" cy="292.3" r="2.3"/><circle cx="184.8" cy="315.9" r="2.3"/><circle cx="206.6" cy="321.7" r="2.3"/><circle cx="178.2" cy="319.2" r="2.3"/><circle cx="198.7" cy="323.9" r="2.3"/><circle cx="190.3" cy="296.4" r="2.3"/><circle cx="181.6" cy="301.9" r="2.3"/><circle cx="166.4" cy="318.3" r="2.3"/><circle cx="197.9" cy="294.4" r="2.3"/><circle cx="196.6" cy="306.8" r="2.3"/><circle cx="190.8" cy="311.6" r="2.3"/><circle cx="170.4" cy="315.2" r="2.3"/><circle cx="188.2" cy="306.4" r="2.3"/><circle cx="195.1" cy="311.4" r="2.3"/><circle cx="193.8" cy="295.5" r="2.3"/><circle cx="192.5" cy="320.0" r="2.3"/><circle cx="214.3" cy="308.0" r="2.3"/><circle cx="169.5" cy="332.1" r="2.3"/><circle cx="212.8" cy="321.8" r="2.3"/><circle cx="191.5" cy="319.4" r="2.3"/><circle cx="190.7" cy="304.5" r="2.3"/><circle cx="190.7" cy="304.4" r="2.3"/><circle cx="186.7" cy="316.7" r="2.3"/><circle cx="186.6" cy="299.2" r="2.3"/><circle cx="187.0" cy="305.2" r="2.3"/><circle cx="203.5" cy="310.6" r="2.3"/><circle cx="196.1" cy="315.3" r="2.3"/><circle cx="192.5" cy="313.6" r="2.3"/><circle cx="192.2" cy="306.3" r="2.3"/><circle cx="181.0" cy="314.4" r="2.3"/><circle cx="187.0" cy="325.6" r="2.3"/><circle cx="194.1" cy="298.0" r="2.3"/><circle cx="199.0" cy="301.3" r="2.3"/><circle cx="207.2" cy="304.3" r="2.3"/><circle cx="179.8" cy="291.2" r="2.3"/><circle cx="181.7" cy="292.8" r="2.3"/><circle cx="202.8" cy="312.3" r="2.3"/><circle cx="179.6" cy="312.1" r="2.3"/><circle cx="212.6" cy="306.1" r="2.3"/><circle cx="192.3" cy="312.9" r="2.3"/><circle cx="208.2" cy="330.8" r="2.3"/><circle cx="188.0" cy="325.4" r="2.3"/><circle cx="197.1" cy="315.6" r="2.3"/><circle cx="188.7" cy="297.6" r="2.3"/><circle cx="186.0" cy="306.2" r="2.3"/><circle cx="195.1" cy="308.6" r="2.3"/><circle cx="174.3" cy="334.7" r="2.3"/><circle cx="193.3" cy="306.9" r="2.3"/><circle cx="200.1" cy="318.2" r="2.3"/><circle cx="190.0" cy="300.0" r="2.3"/><circle cx="195.4" cy="285.5" r="2.3"/><circle cx="191.4" cy="315.8" r="2.3"/><circle cx="196.5" cy="295.2" r="2.3"/><circle cx="197.9" cy="311.2" r="2.3"/><circle cx="195.2" cy="300.8" r="2.3"/><circle cx="194.6" cy="282.5" r="2.3"/><circle cx="167.4" cy="320.9" r="2.3"/><circle cx="197.6" cy="305.6" r="2.3"/><circle cx="189.5" cy="301.5" r="2.3"/><circle cx="194.3" cy="308.2" r="2.3"/><circle cx="179.2" cy="301.2" r="2.3"/><circle cx="187.8" cy="304.1" r="2.3"/><circle cx="198.8" cy="303.1" r="2.3"/><circle cx="197.8" cy="320.1" r="2.3"/><circle cx="204.2" cy="306.3" r="2.3"/><circle cx="196.8" cy="327.5" r="2.3"/><circle cx="185.2" cy="325.5" r="2.3"/><circle cx="201.7" cy="309.8" r="2.3"/><circle cx="203.2" cy="293.0" r="2.3"/><circle cx="193.9" cy="301.2" r="2.3"/><circle cx="196.3" cy="284.4" r="2.3"/><circle cx="201.3" cy="312.0" r="2.3"/><circle cx="187.9" cy="320.9" r="2.3"/><circle cx="188.3" cy="303.7" r="2.3"/><circle cx="189.8" cy="313.0" r="2.3"/><circle cx="204.9" cy="322.8" r="2.3"/><circle cx="182.0" cy="303.2" r="2.3"/><circle cx="186.8" cy="293.2" r="2.3"/><circle cx="211.2" cy="299.0" r="2.3"/><circle cx="180.4" cy="306.3" r="2.3"/><circle cx="200.7" cy="321.6" r="2.3"/><circle cx="190.5" cy="302.1" r="2.3"/><circle cx="198.2" cy="305.9" r="2.3"/><circle cx="200.1" cy="321.1" r="2.3"/><circle cx="197.0" cy="328.2" r="2.3"/><circle cx="191.9" cy="328.1" r="2.3"/><circle cx="201.3" cy="289.7" r="2.3"/><circle cx="189.2" cy="311.5" r="2.3"/><circle cx="186.1" cy="318.9" r="2.3"/><circle cx="210.8" cy="302.9" r="2.3"/><circle cx="192.1" cy="318.0" r="2.3"/><circle cx="197.6" cy="324.2" r="2.3"/><circle cx="172.1" cy="304.3" r="2.3"/><circle cx="194.0" cy="299.1" r="2.3"/><circle cx="201.0" cy="297.6" r="2.3"/><circle cx="183.5" cy="321.9" r="2.3"/><circle cx="216.7" cy="302.4" r="2.3"/><circle cx="186.4" cy="299.0" r="2.3"/><circle cx="196.2" cy="313.5" r="2.3"/><circle cx="204.3" cy="303.2" r="2.3"/><circle cx="189.2" cy="299.7" r="2.3"/><circle cx="199.3" cy="314.0" r="2.3"/><circle cx="200.2" cy="302.4" r="2.3"/><circle cx="217.5" cy="318.1" r="2.3"/><circle cx="209.1" cy="305.3" r="2.3"/><circle cx="193.3" cy="307.9" r="2.3"/><circle cx="197.3" cy="321.1" r="2.3"/><circle cx="189.8" cy="325.7" r="2.3"/><circle cx="192.9" cy="299.7" r="2.3"/><circle cx="195.9" cy="317.4" r="2.3"/><circle cx="189.8" cy="327.7" r="2.3"/><circle cx="200.5" cy="327.5" r="2.3"/><circle cx="181.0" cy="305.6" r="2.3"/><circle cx="188.7" cy="289.3" r="2.3"/><circle cx="178.4" cy="325.5" r="2.3"/><circle cx="192.0" cy="326.2" r="2.3"/><circle cx="192.8" cy="333.7" r="2.3"/><circle cx="192.9" cy="307.0" r="2.3"/><circle cx="195.0" cy="310.7" r="2.3"/><circle cx="196.6" cy="302.4" r="2.3"/><circle cx="171.4" cy="322.6" r="2.3"/><circle cx="185.2" cy="308.9" r="2.3"/><circle cx="199.8" cy="314.3" r="2.3"/><circle cx="200.6" cy="311.1" r="2.3"/><circle cx="211.7" cy="293.5" r="2.3"/><circle cx="202.4" cy="303.8" r="2.3"/><circle cx="172.0" cy="301.9" r="2.3"/><circle cx="199.9" cy="300.5" r="2.3"/><circle cx="187.8" cy="329.1" r="2.3"/><circle cx="181.1" cy="307.0" r="2.3"/><circle cx="200.9" cy="333.1" r="2.3"/><circle cx="192.1" cy="308.6" r="2.3"/><circle cx="210.0" cy="292.3" r="2.3"/><circle cx="185.1" cy="344.8" r="2.3"/><circle cx="191.5" cy="326.5" r="2.3"/><circle cx="210.3" cy="301.7" r="2.3"/><circle cx="199.0" cy="293.1" r="2.3"/><circle cx="199.7" cy="315.6" r="2.3"/><circle cx="194.9" cy="315.5" r="2.3"/><circle cx="187.7" cy="295.0" r="2.3"/><circle cx="187.9" cy="307.2" r="2.3"/><circle cx="190.8" cy="288.4" r="2.3"/><circle cx="181.6" cy="296.3" r="2.3"/><circle cx="188.1" cy="286.5" r="2.3"/><circle cx="196.3" cy="312.7" r="2.3"/><circle cx="170.8" cy="328.2" r="2.3"/><circle cx="205.1" cy="304.0" r="2.3"/><circle cx="192.5" cy="305.2" r="2.3"/><circle cx="181.9" cy="328.8" r="2.3"/><circle cx="189.6" cy="290.0" r="2.3"/><circle cx="194.6" cy="314.2" r="2.3"/><circle cx="193.5" cy="288.6" r="2.3"/><circle cx="195.8" cy="317.7" r="2.3"/><circle cx="202.6" cy="303.4" r="2.3"/><circle cx="176.4" cy="309.6" r="2.3"/><circle cx="199.1" cy="306.7" r="2.3"/><circle cx="179.7" cy="294.2" r="2.3"/><circle cx="201.7" cy="308.2" r="2.3"/><circle cx="167.5" cy="320.5" r="2.3"/><circle cx="170.6" cy="337.0" r="2.3"/><circle cx="198.8" cy="325.2" r="2.3"/><circle cx="189.8" cy="321.6" r="2.3"/><circle cx="205.4" cy="297.0" r="2.3"/><circle cx="177.4" cy="291.1" r="2.3"/><circle cx="184.3" cy="346.3" r="2.3"/><circle cx="176.6" cy="328.0" r="2.3"/><circle cx="198.9" cy="332.8" r="2.3"/><circle cx="185.3" cy="328.0" r="2.3"/><circle cx="199.1" cy="293.6" r="2.3"/><circle cx="192.2" cy="275.8" r="2.3"/><circle cx="185.4" cy="306.5" r="2.3"/><circle cx="194.0" cy="306.6" r="2.3"/><circle cx="194.0" cy="337.4" r="2.3"/><circle cx="204.1" cy="312.8" r="2.3"/><circle cx="195.5" cy="298.2" r="2.3"/><circle cx="178.9" cy="315.7" r="2.3"/><circle cx="184.8" cy="300.8" r="2.3"/><circle cx="206.6" cy="316.4" r="2.3"/><circle cx="199.9" cy="300.6" r="2.3"/><circle cx="189.6" cy="293.8" r="2.3"/><circle cx="212.6" cy="299.1" r="2.3"/><circle cx="185.0" cy="339.8" r="2.3"/><circle cx="203.6" cy="302.8" r="2.3"/><circle cx="202.3" cy="307.8" r="2.3"/><circle cx="194.7" cy="313.6" r="2.3"/><circle cx="186.0" cy="314.4" r="2.3"/><circle cx="182.2" cy="297.8" r="2.3"/><circle cx="184.8" cy="298.4" r="2.3"/><circle cx="187.0" cy="303.8" r="2.3"/><circle cx="197.1" cy="311.9" r="2.3"/><circle cx="195.1" cy="288.6" r="2.3"/><circle cx="205.2" cy="300.1" r="2.3"/><circle cx="191.6" cy="333.0" r="2.3"/><circle cx="207.8" cy="310.0" r="2.3"/><circle cx="214.5" cy="295.8" r="2.3"/><circle cx="175.0" cy="290.9" r="2.3"/><circle cx="192.4" cy="347.3" r="2.3"/><circle cx="201.0" cy="296.9" r="2.3"/><circle cx="196.0" cy="306.7" r="2.3"/><circle cx="196.6" cy="288.3" r="2.3"/><circle cx="193.3" cy="315.6" r="2.3"/><circle cx="188.1" cy="324.0" r="2.3"/><circle cx="175.3" cy="335.3" r="2.3"/><circle cx="177.0" cy="305.2" r="2.3"/><circle cx="211.7" cy="298.4" r="2.3"/><circle cx="203.5" cy="299.3" r="2.3"/><circle cx="185.8" cy="304.5" r="2.3"/><circle cx="191.7" cy="302.9" r="2.3"/><circle cx="202.8" cy="305.7" r="2.3"/><circle cx="185.7" cy="314.9" r="2.3"/><circle cx="201.3" cy="298.9" r="2.3"/><circle cx="202.9" cy="311.5" r="2.3"/><circle cx="186.3" cy="344.7" r="2.3"/><circle cx="192.8" cy="308.0" r="2.3"/><circle cx="191.3" cy="295.2" r="2.3"/><circle cx="196.3" cy="295.2" r="2.3"/><circle cx="202.4" cy="306.4" r="2.3"/><circle cx="194.6" cy="303.4" r="2.3"/><circle cx="214.0" cy="300.0" r="2.3"/><circle cx="205.8" cy="321.7" r="2.3"/><circle cx="201.8" cy="324.2" r="2.3"/><circle cx="201.2" cy="308.5" r="2.3"/><circle cx="169.3" cy="337.8" r="2.3"/><circle cx="201.4" cy="329.6" r="2.3"/><circle cx="197.9" cy="316.9" r="2.3"/><circle cx="181.6" cy="322.3" r="2.3"/><circle cx="184.5" cy="310.9" r="2.3"/><circle cx="192.6" cy="298.2" r="2.3"/><circle cx="196.0" cy="307.7" r="2.3"/><circle cx="179.7" cy="309.4" r="2.3"/><circle cx="192.6" cy="338.2" r="2.3"/><circle cx="187.0" cy="316.8" r="2.3"/><circle cx="199.1" cy="309.9" r="2.3"/><circle cx="177.7" cy="307.9" r="2.3"/><circle cx="214.2" cy="329.1" r="2.3"/><circle cx="212.6" cy="289.4" r="2.3"/><circle cx="191.0" cy="313.2" r="2.3"/><circle cx="176.4" cy="321.9" r="2.3"/><circle cx="205.3" cy="316.5" r="2.3"/><circle cx="191.6" cy="305.0" r="2.3"/><circle cx="189.6" cy="308.8" r="2.3"/><circle cx="177.7" cy="325.1" r="2.3"/><circle cx="178.6" cy="315.4" r="2.3"/><circle cx="189.4" cy="317.1" r="2.3"/><circle cx="208.5" cy="276.4" r="2.3"/><circle cx="196.3" cy="293.9" r="2.3"/><circle cx="176.0" cy="324.3" r="2.3"/><circle cx="212.0" cy="301.0" r="2.3"/><circle cx="206.2" cy="316.2" r="2.3"/><circle cx="184.8" cy="309.8" r="2.3"/><circle cx="204.7" cy="312.7" r="2.3"/><circle cx="188.7" cy="320.9" r="2.3"/><circle cx="192.8" cy="309.2" r="2.3"/><circle cx="213.4" cy="308.9" r="2.3"/><circle cx="184.5" cy="304.9" r="2.3"/><circle cx="202.8" cy="305.7" r="2.3"/><circle cx="189.2" cy="316.6" r="2.3"/><circle cx="198.0" cy="300.7" r="2.3"/><circle cx="192.5" cy="283.0" r="2.3"/><circle cx="185.5" cy="317.3" r="2.3"/><circle cx="202.1" cy="318.3" r="2.3"/><circle cx="190.5" cy="317.3" r="2.3"/><circle cx="187.6" cy="338.3" r="2.3"/><circle cx="202.1" cy="307.3" r="2.3"/><circle cx="184.5" cy="311.0" r="2.3"/><circle cx="192.2" cy="309.3" r="2.3"/><circle cx="203.6" cy="283.5" r="2.3"/><circle cx="191.9" cy="303.8" r="2.3"/><circle cx="200.3" cy="286.9" r="2.3"/><circle cx="195.1" cy="308.9" r="2.3"/><circle cx="205.7" cy="297.0" r="2.3"/><circle cx="199.0" cy="292.8" r="2.3"/><circle cx="180.9" cy="322.9" r="2.3"/><circle cx="205.8" cy="306.5" r="2.3"/><circle cx="193.7" cy="303.0" r="2.3"/><circle cx="201.5" cy="315.7" r="2.3"/><circle cx="199.5" cy="278.1" r="2.3"/><circle cx="190.6" cy="292.3" r="2.3"/><circle cx="191.8" cy="295.1" r="2.3"/><circle cx="184.9" cy="309.5" r="2.3"/><circle cx="196.7" cy="312.0" r="2.3"/><circle cx="199.2" cy="300.3" r="2.3"/><circle cx="187.5" cy="330.8" r="2.3"/><circle cx="197.0" cy="300.7" r="2.3"/><circle cx="201.4" cy="298.5" r="2.3"/><circle cx="182.4" cy="316.8" r="2.3"/><circle cx="204.4" cy="310.5" r="2.3"/><circle cx="198.3" cy="303.5" r="2.3"/><circle cx="192.9" cy="293.1" r="2.3"/><circle cx="214.6" cy="310.5" r="2.3"/><circle cx="191.9" cy="302.1" r="2.3"/><circle cx="195.7" cy="301.5" r="2.3"/><circle cx="192.0" cy="317.7" r="2.3"/><circle cx="184.5" cy="335.0" r="2.3"/><circle cx="188.3" cy="327.8" r="2.3"/><circle cx="178.9" cy="311.2" r="2.3"/><circle cx="194.1" cy="307.2" r="2.3"/><circle cx="177.8" cy="298.2" r="2.3"/><circle cx="186.0" cy="318.4" r="2.3"/><circle cx="194.3" cy="302.7" r="2.3"/><circle cx="198.6" cy="307.7" r="2.3"/><circle cx="193.4" cy="290.0" r="2.3"/><circle cx="193.6" cy="313.1" r="2.3"/><circle cx="191.4" cy="302.3" r="2.3"/><circle cx="198.1" cy="298.5" r="2.3"/><circle cx="178.9" cy="319.7" r="2.3"/><circle cx="192.5" cy="330.8" r="2.3"/><circle cx="202.8" cy="306.3" r="2.3"/><circle cx="187.9" cy="284.7" r="2.3"/><circle cx="197.7" cy="291.7" r="2.3"/><circle cx="191.6" cy="303.1" r="2.3"/><circle cx="176.1" cy="302.5" r="2.3"/><circle cx="179.7" cy="309.9" r="2.3"/><circle cx="194.3" cy="299.4" r="2.3"/><circle cx="189.2" cy="289.8" r="2.3"/><circle cx="199.4" cy="296.6" r="2.3"/><circle cx="195.4" cy="318.3" r="2.3"/><circle cx="193.0" cy="293.9" r="2.3"/><circle cx="202.7" cy="299.3" r="2.3"/><circle cx="215.2" cy="288.5" r="2.3"/><circle cx="190.3" cy="300.2" r="2.3"/><circle cx="200.5" cy="316.9" r="2.3"/><circle cx="200.7" cy="317.0" r="2.3"/><circle cx="203.3" cy="315.1" r="2.3"/><circle cx="186.4" cy="323.9" r="2.3"/><circle cx="187.5" cy="327.3" r="2.3"/><circle cx="186.0" cy="306.7" r="2.3"/><circle cx="201.9" cy="308.3" r="2.3"/><circle cx="206.5" cy="295.2" r="2.3"/><circle cx="194.4" cy="314.3" r="2.3"/><circle cx="205.2" cy="281.5" r="2.3"/><circle cx="184.3" cy="314.2" r="2.3"/><circle cx="174.2" cy="301.5" r="2.3"/><circle cx="184.9" cy="314.8" r="2.3"/><circle cx="174.2" cy="313.0" r="2.3"/><circle cx="188.3" cy="316.6" r="2.3"/><circle cx="182.1" cy="315.6" r="2.3"/><circle cx="215.6" cy="309.5" r="2.3"/><circle cx="192.8" cy="296.3" r="2.3"/><circle cx="187.2" cy="301.9" r="2.3"/><circle cx="201.5" cy="329.9" r="2.3"/><circle cx="183.8" cy="294.1" r="2.3"/><circle cx="196.6" cy="327.4" r="2.3"/><circle cx="198.9" cy="323.3" r="2.3"/><circle cx="197.4" cy="297.7" r="2.3"/><circle cx="190.0" cy="286.9" r="2.3"/><circle cx="183.2" cy="318.6" r="2.3"/><circle cx="182.1" cy="337.3" r="2.3"/><circle cx="204.0" cy="304.0" r="2.3"/><circle cx="188.1" cy="332.9" r="2.3"/><circle cx="203.7" cy="295.4" r="2.3"/><circle cx="182.5" cy="324.1" r="2.3"/><circle cx="206.5" cy="303.2" r="2.3"/><circle cx="184.3" cy="306.7" r="2.3"/><circle cx="189.9" cy="301.6" r="2.3"/><circle cx="193.3" cy="313.0" r="2.3"/><circle cx="193.5" cy="325.7" r="2.3"/><circle cx="205.9" cy="291.3" r="2.3"/><circle cx="192.8" cy="321.7" r="2.3"/><circle cx="183.9" cy="319.7" r="2.3"/><circle cx="206.8" cy="300.7" r="2.3"/><circle cx="182.3" cy="288.1" r="2.3"/><circle cx="182.5" cy="319.0" r="2.3"/><circle cx="184.3" cy="300.2" r="2.3"/><circle cx="191.8" cy="288.5" r="2.3"/><circle cx="199.0" cy="305.9" r="2.3"/><circle cx="212.7" cy="283.5" r="2.3"/><circle cx="191.8" cy="290.6" r="2.3"/><circle cx="189.7" cy="317.1" r="2.3"/><circle cx="217.4" cy="296.8" r="2.3"/><circle cx="200.7" cy="299.3" r="2.3"/><circle cx="204.4" cy="316.6" r="2.3"/><circle cx="204.7" cy="307.1" r="2.3"/><circle cx="207.2" cy="304.0" r="2.3"/><circle cx="195.2" cy="298.3" r="2.3"/><circle cx="186.2" cy="333.4" r="2.3"/><circle cx="211.6" cy="318.5" r="2.3"/><circle cx="185.4" cy="310.5" r="2.3"/><circle cx="180.4" cy="313.7" r="2.3"/><circle cx="197.6" cy="327.2" r="2.3"/><circle cx="192.0" cy="299.7" r="2.3"/><circle cx="193.2" cy="311.2" r="2.3"/><circle cx="204.0" cy="299.1" r="2.3"/><circle cx="201.6" cy="282.4" r="2.3"/><circle cx="194.0" cy="303.1" r="2.3"/><circle cx="182.3" cy="308.3" r="2.3"/><circle cx="189.3" cy="315.6" r="2.3"/><circle cx="186.4" cy="296.1" r="2.3"/><circle cx="205.7" cy="340.0" r="2.3"/><circle cx="167.7" cy="354.8" r="2.3"/><circle cx="184.0" cy="331.3" r="2.3"/><circle cx="178.2" cy="354.1" r="2.3"/><circle cx="172.2" cy="376.1" r="2.3"/><circle cx="153.8" cy="363.0" r="2.3"/><circle cx="155.5" cy="377.9" r="2.3"/><circle cx="172.8" cy="341.2" r="2.3"/><circle cx="179.6" cy="325.2" r="2.3"/><circle cx="167.2" cy="371.7" r="2.3"/><circle cx="166.9" cy="353.0" r="2.3"/><circle cx="164.1" cy="372.3" r="2.3"/><circle cx="176.3" cy="351.5" r="2.3"/><circle cx="162.2" cy="372.9" r="2.3"/><circle cx="165.9" cy="366.2" r="2.3"/><circle cx="160.0" cy="359.0" r="2.3"/><circle cx="169.1" cy="359.5" r="2.3"/><circle cx="172.3" cy="358.8" r="2.3"/><circle cx="175.0" cy="356.4" r="2.3"/><circle cx="171.0" cy="353.6" r="2.3"/><circle cx="170.1" cy="372.8" r="2.3"/><circle cx="185.5" cy="344.0" r="2.3"/><circle cx="155.5" cy="382.5" r="2.3"/><circle cx="181.0" cy="351.6" r="2.3"/><circle cx="165.0" cy="369.3" r="2.3"/><circle cx="181.1" cy="352.1" r="2.3"/><circle cx="165.6" cy="337.7" r="2.3"/><circle cx="142.8" cy="381.7" r="2.3"/><circle cx="176.7" cy="343.4" r="2.3"/><circle cx="191.7" cy="328.2" r="2.3"/><circle cx="170.0" cy="328.4" r="2.3"/><circle cx="177.7" cy="343.9" r="2.3"/><circle cx="150.7" cy="390.2" r="2.3"/><circle cx="171.5" cy="353.4" r="2.3"/><circle cx="162.7" cy="366.5" r="2.3"/><circle cx="178.6" cy="326.7" r="2.3"/><circle cx="171.9" cy="357.4" r="2.3"/><circle cx="154.0" cy="353.8" r="2.3"/><circle cx="160.3" cy="387.3" r="2.3"/><circle cx="179.7" cy="335.4" r="2.3"/><circle cx="175.4" cy="366.3" r="2.3"/><circle cx="160.3" cy="348.4" r="2.3"/><circle cx="190.5" cy="334.1" r="2.3"/><circle cx="176.6" cy="350.9" r="2.3"/><circle cx="173.0" cy="342.2" r="2.3"/><circle cx="200.5" cy="260.5" r="2.3"/><circle cx="221.0" cy="270.0" r="2.3"/><circle cx="195.0" cy="273.0" r="2.3"/><circle cx="226.5" cy="289.7" r="2.3"/><circle cx="185.5" cy="280.0" r="2.3"/><circle cx="231.0" cy="300.0" r="2.3"/><circle cx="168.2" cy="388.0" r="2.3"/><circle cx="190.0" cy="340.4" r="2.3"/><circle cx="184.4" cy="356.6" r="2.3"/><circle cx="199.5" cy="338.6" r="2.3"/><circle cx="174.2" cy="363.1" r="2.3"/><circle cx="183.7" cy="362.4" r="2.3"/><circle cx="186.2" cy="357.6" r="2.3"/><circle cx="194.4" cy="353.7" r="2.3"/><circle cx="188.1" cy="357.7" r="2.3"/><circle cx="184.5" cy="346.6" r="2.3"/><circle cx="182.5" cy="377.7" r="2.3"/><circle cx="163.8" cy="392.1" r="2.3"/><circle cx="196.9" cy="323.6" r="2.3"/><circle cx="183.0" cy="361.7" r="2.3"/><circle cx="183.1" cy="354.1" r="2.3"/><circle cx="180.3" cy="375.5" r="2.3"/><circle cx="183.2" cy="340.7" r="2.3"/><circle cx="175.6" cy="356.7" r="2.3"/><circle cx="189.8" cy="342.1" r="2.3"/><circle cx="181.5" cy="381.3" r="2.3"/><circle cx="184.2" cy="367.8" r="2.3"/><circle cx="176.4" cy="356.8" r="2.3"/><circle cx="166.8" cy="364.9" r="2.3"/><circle cx="180.9" cy="357.2" r="2.3"/><circle cx="190.1" cy="329.3" r="2.3"/><circle cx="176.5" cy="376.0" r="2.3"/><circle cx="177.7" cy="368.9" r="2.3"/><circle cx="181.5" cy="359.8" r="2.3"/><circle cx="167.0" cy="380.5" r="2.3"/><circle cx="174.6" cy="390.7" r="2.3"/><circle cx="186.7" cy="339.1" r="2.3"/><circle cx="181.3" cy="343.9" r="2.3"/><circle cx="169.1" cy="395.9" r="2.3"/><circle cx="171.6" cy="394.0" r="2.3"/><circle cx="185.9" cy="347.6" r="2.3"/><circle cx="196.0" cy="342.1" r="2.3"/><circle cx="199.1" cy="357.5" r="2.3"/><circle cx="181.0" cy="350.9" r="2.3"/><circle cx="196.1" cy="331.9" r="2.3"/><circle cx="182.0" cy="364.8" r="2.3"/><circle cx="182.6" cy="332.0" r="2.3"/><circle cx="192.1" cy="339.2" r="2.3"/><circle cx="173.8" cy="382.6" r="2.3"/><circle cx="186.6" cy="349.4" r="2.3"/><circle cx="186.0" cy="364.5" r="2.3"/><circle cx="177.0" cy="377.1" r="2.3"/><circle cx="169.0" cy="377.3" r="2.3"/><circle cx="186.3" cy="358.0" r="2.3"/><circle cx="181.7" cy="365.0" r="2.3"/><circle cx="180.0" cy="342.0" r="2.3"/><circle cx="156.4" cy="393.8" r="2.3"/><circle cx="168.6" cy="372.9" r="2.3"/><circle cx="188.9" cy="340.1" r="2.3"/><circle cx="177.2" cy="361.5" r="2.3"/><circle cx="164.5" cy="372.2" r="2.3"/><circle cx="174.7" cy="372.1" r="2.3"/><circle cx="150.3" cy="392.5" r="2.3"/><circle cx="170.0" cy="391.9" r="2.3"/><circle cx="187.0" cy="353.2" r="2.3"/><circle cx="188.0" cy="365.1" r="2.3"/><circle cx="195.4" cy="339.2" r="2.3"/><circle cx="174.4" cy="366.1" r="2.3"/><circle cx="170.6" cy="361.4" r="2.3"/><circle cx="178.7" cy="364.7" r="2.3"/><circle cx="204.3" cy="323.7" r="2.3"/><circle cx="190.9" cy="352.1" r="2.3"/><circle cx="184.8" cy="368.5" r="2.3"/><circle cx="193.0" cy="338.5" r="2.3"/><circle cx="198.2" cy="351.2" r="2.3"/><circle cx="164.3" cy="305.1" r="2.3"/><circle cx="155.1" cy="298.9" r="2.3"/><circle cx="146.4" cy="316.2" r="2.3"/><circle cx="146.9" cy="314.3" r="2.3"/><circle cx="170.2" cy="302.8" r="2.3"/><circle cx="149.1" cy="311.3" r="2.3"/><circle cx="183.8" cy="299.4" r="2.3"/><circle cx="159.4" cy="311.3" r="2.3"/><circle cx="167.0" cy="317.0" r="2.3"/><circle cx="156.2" cy="308.3" r="2.3"/><circle cx="148.0" cy="317.6" r="2.3"/><circle cx="154.2" cy="291.8" r="2.3"/><circle cx="161.5" cy="304.2" r="2.3"/><circle cx="186.0" cy="303.0" r="2.3"/><circle cx="162.8" cy="308.6" r="2.3"/><circle cx="182.0" cy="304.6" r="2.3"/><circle cx="175.5" cy="308.1" r="2.3"/><circle cx="159.4" cy="305.5" r="2.3"/><circle cx="163.3" cy="299.5" r="2.3"/><circle cx="177.6" cy="296.7" r="2.3"/><circle cx="177.1" cy="310.7" r="2.3"/><circle cx="161.9" cy="300.4" r="2.3"/><circle cx="160.3" cy="307.8" r="2.3"/><circle cx="171.9" cy="306.7" r="2.3"/><circle cx="174.9" cy="301.7" r="2.3"/><circle cx="165.8" cy="295.6" r="2.3"/><circle cx="172.2" cy="305.9" r="2.3"/><circle cx="158.0" cy="312.0" r="2.3"/><circle cx="171.3" cy="288.1" r="2.3"/><circle cx="163.5" cy="296.3" r="2.3"/>
</g>
<g fill="#aebcb8" fill-opacity="0.17" stroke="#b1beba" stroke-opacity="0.6" stroke-width="0.7">
<circle cx="202.7" cy="322.9" r="2.3"/><circle cx="194.7" cy="303.6" r="2.3"/><circle cx="195.3" cy="306.6" r="2.3"/><circle cx="197.5" cy="316.5" r="2.3"/><circle cx="204.8" cy="302.9" r="2.3"/><circle cx="197.3" cy="300.5" r="2.3"/><circle cx="192.5" cy="319.7" r="2.3"/><circle cx="191.8" cy="298.2" r="2.3"/><circle cx="193.8" cy="303.9" r="2.3"/><circle cx="181.3" cy="315.1" r="2.3"/><circle cx="194.3" cy="313.4" r="2.3"/><circle cx="193.2" cy="313.9" r="2.3"/><circle cx="189.9" cy="322.3" r="2.3"/><circle cx="192.7" cy="316.7" r="2.3"/><circle cx="175.6" cy="319.4" r="2.3"/><circle cx="186.6" cy="318.6" r="2.3"/><circle cx="188.0" cy="303.4" r="2.3"/><circle cx="196.9" cy="290.9" r="2.3"/><circle cx="197.7" cy="303.1" r="2.3"/><circle cx="205.7" cy="298.4" r="2.3"/><circle cx="190.2" cy="309.8" r="2.3"/><circle cx="190.6" cy="300.1" r="2.3"/><circle cx="193.4" cy="296.9" r="2.3"/><circle cx="191.5" cy="307.7" r="2.3"/><circle cx="195.9" cy="295.1" r="2.3"/><circle cx="196.5" cy="300.6" r="2.3"/><circle cx="189.5" cy="325.7" r="2.3"/><circle cx="184.5" cy="301.6" r="2.3"/><circle cx="188.0" cy="291.9" r="2.3"/><circle cx="185.7" cy="312.6" r="2.3"/><circle cx="188.8" cy="307.2" r="2.3"/><circle cx="200.0" cy="311.9" r="2.3"/><circle cx="193.0" cy="301.3" r="2.3"/><circle cx="200.2" cy="302.9" r="2.3"/><circle cx="189.7" cy="296.5" r="2.3"/><circle cx="189.4" cy="292.7" r="2.3"/><circle cx="205.3" cy="317.9" r="2.3"/><circle cx="201.3" cy="301.5" r="2.3"/><circle cx="185.4" cy="307.7" r="2.3"/><circle cx="192.2" cy="305.1" r="2.3"/><circle cx="205.7" cy="306.3" r="2.3"/><circle cx="201.3" cy="292.2" r="2.3"/><circle cx="188.1" cy="309.6" r="2.3"/><circle cx="196.9" cy="311.3" r="2.3"/><circle cx="194.3" cy="310.3" r="2.3"/><circle cx="178.7" cy="309.5" r="2.3"/><circle cx="200.1" cy="326.0" r="2.3"/><circle cx="194.8" cy="318.8" r="2.3"/><circle cx="196.7" cy="295.5" r="2.3"/><circle cx="192.0" cy="299.6" r="2.3"/><circle cx="184.6" cy="314.6" r="2.3"/><circle cx="182.3" cy="302.6" r="2.3"/><circle cx="193.6" cy="306.8" r="2.3"/><circle cx="190.9" cy="300.2" r="2.3"/><circle cx="179.1" cy="321.7" r="2.3"/><circle cx="191.6" cy="297.0" r="2.3"/><circle cx="200.1" cy="323.2" r="2.3"/><circle cx="187.3" cy="309.3" r="2.3"/><circle cx="200.0" cy="306.7" r="2.3"/><circle cx="203.8" cy="303.3" r="2.3"/><circle cx="188.0" cy="320.5" r="2.3"/><circle cx="194.5" cy="315.3" r="2.3"/><circle cx="181.2" cy="319.2" r="2.3"/><circle cx="186.3" cy="317.5" r="2.3"/><circle cx="195.8" cy="301.5" r="2.3"/><circle cx="187.7" cy="303.9" r="2.3"/><circle cx="192.8" cy="292.0" r="2.3"/><circle cx="198.4" cy="325.1" r="2.3"/><circle cx="196.9" cy="316.3" r="2.3"/><circle cx="193.9" cy="303.3" r="2.3"/><circle cx="185.5" cy="308.0" r="2.3"/><circle cx="196.5" cy="299.6" r="2.3"/><circle cx="187.7" cy="302.8" r="2.3"/><circle cx="189.7" cy="310.8" r="2.3"/><circle cx="188.9" cy="316.9" r="2.3"/><circle cx="194.3" cy="305.7" r="2.3"/><circle cx="189.4" cy="305.0" r="2.3"/><circle cx="198.1" cy="306.2" r="2.3"/><circle cx="197.5" cy="316.5" r="2.3"/><circle cx="196.2" cy="292.4" r="2.3"/><circle cx="194.9" cy="304.8" r="2.3"/><circle cx="191.2" cy="302.9" r="2.3"/><circle cx="190.8" cy="315.2" r="2.3"/><circle cx="204.0" cy="300.8" r="2.3"/><circle cx="185.8" cy="315.4" r="2.3"/><circle cx="185.5" cy="313.6" r="2.3"/><circle cx="187.4" cy="317.3" r="2.3"/><circle cx="193.2" cy="300.2" r="2.3"/><circle cx="196.2" cy="301.8" r="2.3"/><circle cx="192.1" cy="309.6" r="2.3"/><circle cx="173.9" cy="294.9" r="2.3"/><circle cx="181.5" cy="304.6" r="2.3"/><circle cx="198.0" cy="312.7" r="2.3"/><circle cx="189.4" cy="309.5" r="2.3"/><circle cx="192.4" cy="306.1" r="2.3"/><circle cx="191.1" cy="301.9" r="2.3"/><circle cx="202.4" cy="302.6" r="2.3"/><circle cx="197.9" cy="310.0" r="2.3"/><circle cx="193.8" cy="306.0" r="2.3"/><circle cx="195.7" cy="307.6" r="2.3"/><circle cx="191.0" cy="315.7" r="2.3"/><circle cx="190.5" cy="300.4" r="2.3"/><circle cx="185.1" cy="321.8" r="2.3"/><circle cx="201.7" cy="308.7" r="2.3"/><circle cx="191.7" cy="318.7" r="2.3"/><circle cx="207.1" cy="309.8" r="2.3"/><circle cx="194.2" cy="312.7" r="2.3"/><circle cx="185.2" cy="303.3" r="2.3"/><circle cx="199.4" cy="297.3" r="2.3"/><circle cx="189.8" cy="310.9" r="2.3"/><circle cx="188.5" cy="294.6" r="2.3"/><circle cx="185.5" cy="301.9" r="2.3"/><circle cx="195.8" cy="318.4" r="2.3"/><circle cx="187.6" cy="334.6" r="2.3"/><circle cx="189.7" cy="300.9" r="2.3"/><circle cx="201.2" cy="276.6" r="2.3"/><circle cx="198.5" cy="308.6" r="2.3"/><circle cx="193.7" cy="314.6" r="2.3"/><circle cx="195.5" cy="311.3" r="2.3"/><circle cx="181.5" cy="318.2" r="2.3"/><circle cx="186.3" cy="300.9" r="2.3"/><circle cx="194.1" cy="325.0" r="2.3"/><circle cx="183.2" cy="311.9" r="2.3"/><circle cx="190.6" cy="309.0" r="2.3"/><circle cx="191.2" cy="308.3" r="2.3"/><circle cx="188.5" cy="311.6" r="2.3"/><circle cx="190.9" cy="316.0" r="2.3"/><circle cx="192.9" cy="305.2" r="2.3"/><circle cx="198.6" cy="306.0" r="2.3"/><circle cx="195.1" cy="306.3" r="2.3"/><circle cx="185.5" cy="301.3" r="2.3"/><circle cx="183.4" cy="313.5" r="2.3"/><circle cx="192.5" cy="314.9" r="2.3"/><circle cx="193.0" cy="291.4" r="2.3"/><circle cx="189.7" cy="301.7" r="2.3"/><circle cx="200.8" cy="299.4" r="2.3"/><circle cx="195.5" cy="306.8" r="2.3"/><circle cx="195.7" cy="304.9" r="2.3"/><circle cx="195.0" cy="301.4" r="2.3"/><circle cx="190.7" cy="313.2" r="2.3"/><circle cx="188.0" cy="301.6" r="2.3"/><circle cx="193.8" cy="310.2" r="2.3"/><circle cx="189.1" cy="304.0" r="2.3"/><circle cx="204.5" cy="318.3" r="2.3"/><circle cx="195.4" cy="306.1" r="2.3"/><circle cx="176.8" cy="305.5" r="2.3"/><circle cx="188.1" cy="307.5" r="2.3"/><circle cx="186.3" cy="319.5" r="2.3"/><circle cx="194.0" cy="300.7" r="2.3"/><circle cx="188.8" cy="308.2" r="2.3"/><circle cx="185.1" cy="304.5" r="2.3"/><circle cx="197.6" cy="307.8" r="2.3"/><circle cx="189.6" cy="326.7" r="2.3"/><circle cx="198.2" cy="313.0" r="2.3"/><circle cx="198.3" cy="320.6" r="2.3"/><circle cx="188.1" cy="317.2" r="2.3"/><circle cx="192.6" cy="310.7" r="2.3"/><circle cx="192.6" cy="311.1" r="2.3"/><circle cx="183.4" cy="296.5" r="2.3"/><circle cx="183.5" cy="297.6" r="2.3"/><circle cx="192.3" cy="308.6" r="2.3"/><circle cx="202.2" cy="294.9" r="2.3"/><circle cx="190.0" cy="315.8" r="2.3"/><circle cx="197.2" cy="326.7" r="2.3"/><circle cx="202.5" cy="299.8" r="2.3"/><circle cx="193.3" cy="312.8" r="2.3"/><circle cx="185.2" cy="314.5" r="2.3"/><circle cx="189.9" cy="301.0" r="2.3"/><circle cx="194.6" cy="301.2" r="2.3"/><circle cx="191.7" cy="293.0" r="2.3"/><circle cx="190.1" cy="312.9" r="2.3"/><circle cx="180.6" cy="307.1" r="2.3"/><circle cx="192.1" cy="299.9" r="2.3"/><circle cx="189.1" cy="307.0" r="2.3"/><circle cx="188.9" cy="316.0" r="2.3"/><circle cx="192.5" cy="308.2" r="2.3"/><circle cx="187.4" cy="313.1" r="2.3"/><circle cx="191.2" cy="318.8" r="2.3"/><circle cx="192.2" cy="309.4" r="2.3"/><circle cx="196.4" cy="314.8" r="2.3"/><circle cx="191.3" cy="317.1" r="2.3"/><circle cx="190.1" cy="315.9" r="2.3"/><circle cx="188.0" cy="318.9" r="2.3"/><circle cx="207.2" cy="292.9" r="2.3"/><circle cx="185.6" cy="306.3" r="2.3"/><circle cx="188.2" cy="304.3" r="2.3"/><circle cx="188.0" cy="327.4" r="2.3"/><circle cx="201.0" cy="295.6" r="2.3"/><circle cx="204.6" cy="308.8" r="2.3"/><circle cx="183.6" cy="293.8" r="2.3"/><circle cx="190.3" cy="307.8" r="2.3"/><circle cx="182.0" cy="299.6" r="2.3"/><circle cx="200.4" cy="315.5" r="2.3"/><circle cx="205.7" cy="294.0" r="2.3"/><circle cx="207.6" cy="308.3" r="2.3"/><circle cx="189.9" cy="311.4" r="2.3"/><circle cx="191.6" cy="318.8" r="2.3"/><circle cx="198.5" cy="304.4" r="2.3"/><circle cx="184.3" cy="299.5" r="2.3"/><circle cx="183.5" cy="324.9" r="2.3"/><circle cx="196.5" cy="303.5" r="2.3"/><circle cx="190.3" cy="291.4" r="2.3"/><circle cx="191.3" cy="302.5" r="2.3"/><circle cx="198.5" cy="311.1" r="2.3"/><circle cx="196.9" cy="305.0" r="2.3"/><circle cx="184.3" cy="310.8" r="2.3"/><circle cx="186.4" cy="307.9" r="2.3"/><circle cx="191.3" cy="318.3" r="2.3"/><circle cx="184.9" cy="305.1" r="2.3"/><circle cx="187.8" cy="307.3" r="2.3"/><circle cx="189.4" cy="313.9" r="2.3"/><circle cx="200.5" cy="303.0" r="2.3"/><circle cx="186.7" cy="313.0" r="2.3"/><circle cx="186.8" cy="317.5" r="2.3"/><circle cx="194.3" cy="305.6" r="2.3"/><circle cx="192.6" cy="300.4" r="2.3"/><circle cx="201.6" cy="310.0" r="2.3"/><circle cx="185.8" cy="320.5" r="2.3"/><circle cx="186.6" cy="321.9" r="2.3"/><circle cx="196.1" cy="313.3" r="2.3"/><circle cx="205.0" cy="316.0" r="2.3"/><circle cx="184.9" cy="307.4" r="2.3"/><circle cx="185.6" cy="318.5" r="2.3"/><circle cx="176.8" cy="298.6" r="2.3"/><circle cx="193.6" cy="318.6" r="2.3"/><circle cx="195.2" cy="317.2" r="2.3"/><circle cx="186.3" cy="322.6" r="2.3"/><circle cx="185.1" cy="314.5" r="2.3"/><circle cx="199.7" cy="307.3" r="2.3"/><circle cx="183.7" cy="308.4" r="2.3"/><circle cx="190.2" cy="310.7" r="2.3"/><circle cx="197.8" cy="301.8" r="2.3"/><circle cx="185.1" cy="301.0" r="2.3"/><circle cx="206.3" cy="302.3" r="2.3"/><circle cx="199.0" cy="295.3" r="2.3"/><circle cx="194.0" cy="314.8" r="2.3"/><circle cx="195.0" cy="296.6" r="2.3"/><circle cx="196.5" cy="311.0" r="2.3"/><circle cx="188.2" cy="299.8" r="2.3"/><circle cx="195.2" cy="319.2" r="2.3"/><circle cx="187.8" cy="309.9" r="2.3"/><circle cx="191.7" cy="311.8" r="2.3"/><circle cx="182.6" cy="312.5" r="2.3"/><circle cx="191.2" cy="308.7" r="2.3"/><circle cx="197.6" cy="298.8" r="2.3"/><circle cx="190.1" cy="307.4" r="2.3"/><circle cx="183.2" cy="308.3" r="2.3"/><circle cx="195.1" cy="308.5" r="2.3"/><circle cx="197.5" cy="312.9" r="2.3"/><circle cx="188.2" cy="294.2" r="2.3"/><circle cx="194.2" cy="311.1" r="2.3"/><circle cx="188.6" cy="327.9" r="2.3"/><circle cx="200.1" cy="302.2" r="2.3"/><circle cx="187.1" cy="297.3" r="2.3"/><circle cx="185.2" cy="331.5" r="2.3"/><circle cx="193.2" cy="315.5" r="2.3"/><circle cx="187.8" cy="324.4" r="2.3"/><circle cx="182.5" cy="316.3" r="2.3"/><circle cx="205.3" cy="299.1" r="2.3"/><circle cx="190.2" cy="322.0" r="2.3"/><circle cx="192.6" cy="310.3" r="2.3"/><circle cx="203.5" cy="305.4" r="2.3"/><circle cx="193.0" cy="314.9" r="2.3"/><circle cx="197.1" cy="313.6" r="2.3"/><circle cx="194.9" cy="314.1" r="2.3"/><circle cx="199.4" cy="299.0" r="2.3"/><circle cx="182.0" cy="325.9" r="2.3"/><circle cx="197.9" cy="308.9" r="2.3"/><circle cx="192.7" cy="317.7" r="2.3"/><circle cx="200.9" cy="295.0" r="2.3"/><circle cx="192.0" cy="295.8" r="2.3"/><circle cx="188.9" cy="312.1" r="2.3"/><circle cx="207.3" cy="322.1" r="2.3"/><circle cx="193.8" cy="316.4" r="2.3"/><circle cx="192.0" cy="298.8" r="2.3"/><circle cx="193.2" cy="297.5" r="2.3"/><circle cx="192.6" cy="297.0" r="2.3"/><circle cx="187.6" cy="303.9" r="2.3"/><circle cx="189.8" cy="292.6" r="2.3"/><circle cx="191.3" cy="312.1" r="2.3"/><circle cx="194.8" cy="319.3" r="2.3"/><circle cx="197.4" cy="306.5" r="2.3"/><circle cx="210.3" cy="300.6" r="2.3"/><circle cx="187.1" cy="317.9" r="2.3"/><circle cx="198.7" cy="298.7" r="2.3"/><circle cx="194.7" cy="290.0" r="2.3"/><circle cx="190.3" cy="314.7" r="2.3"/><circle cx="199.5" cy="305.9" r="2.3"/><circle cx="197.7" cy="299.6" r="2.3"/><circle cx="189.5" cy="301.8" r="2.3"/><circle cx="185.3" cy="309.8" r="2.3"/><circle cx="182.6" cy="323.3" r="2.3"/><circle cx="179.4" cy="322.9" r="2.3"/><circle cx="183.7" cy="310.6" r="2.3"/><circle cx="198.1" cy="296.7" r="2.3"/><circle cx="183.0" cy="311.1" r="2.3"/><circle cx="183.9" cy="316.5" r="2.3"/><circle cx="194.2" cy="310.0" r="2.3"/><circle cx="180.4" cy="309.2" r="2.3"/><circle cx="190.0" cy="323.4" r="2.3"/><circle cx="188.2" cy="302.0" r="2.3"/><circle cx="190.8" cy="290.2" r="2.3"/><circle cx="188.7" cy="312.0" r="2.3"/><circle cx="193.5" cy="297.0" r="2.3"/><circle cx="185.2" cy="320.9" r="2.3"/><circle cx="202.1" cy="305.9" r="2.3"/><circle cx="191.1" cy="312.1" r="2.3"/><circle cx="185.9" cy="299.2" r="2.3"/><circle cx="193.9" cy="296.7" r="2.3"/><circle cx="195.3" cy="306.9" r="2.3"/><circle cx="191.8" cy="313.3" r="2.3"/><circle cx="186.1" cy="307.7" r="2.3"/><circle cx="197.1" cy="288.1" r="2.3"/><circle cx="192.2" cy="298.2" r="2.3"/><circle cx="186.5" cy="302.8" r="2.3"/><circle cx="195.8" cy="298.1" r="2.3"/><circle cx="188.4" cy="307.5" r="2.3"/><circle cx="189.5" cy="311.9" r="2.3"/><circle cx="196.3" cy="299.2" r="2.3"/><circle cx="182.2" cy="322.9" r="2.3"/><circle cx="196.2" cy="321.3" r="2.3"/><circle cx="182.7" cy="319.2" r="2.3"/><circle cx="186.1" cy="325.8" r="2.3"/><circle cx="192.1" cy="305.3" r="2.3"/><circle cx="190.7" cy="313.4" r="2.3"/><circle cx="200.3" cy="309.3" r="2.3"/><circle cx="189.2" cy="299.4" r="2.3"/><circle cx="193.7" cy="316.5" r="2.3"/><circle cx="182.7" cy="315.1" r="2.3"/><circle cx="191.4" cy="318.5" r="2.3"/><circle cx="179.4" cy="320.6" r="2.3"/><circle cx="190.2" cy="309.3" r="2.3"/><circle cx="194.0" cy="292.5" r="2.3"/><circle cx="185.9" cy="316.8" r="2.3"/><circle cx="199.9" cy="303.6" r="2.3"/><circle cx="194.6" cy="318.8" r="2.3"/><circle cx="194.9" cy="301.0" r="2.3"/><circle cx="185.2" cy="315.5" r="2.3"/><circle cx="199.8" cy="303.3" r="2.3"/><circle cx="180.6" cy="319.0" r="2.3"/><circle cx="193.4" cy="282.1" r="2.3"/><circle cx="195.3" cy="298.9" r="2.3"/><circle cx="189.5" cy="313.0" r="2.3"/><circle cx="195.8" cy="302.2" r="2.3"/><circle cx="195.6" cy="299.5" r="2.3"/><circle cx="209.8" cy="308.4" r="2.3"/><circle cx="185.0" cy="313.2" r="2.3"/><circle cx="193.5" cy="298.3" r="2.3"/><circle cx="194.1" cy="292.0" r="2.3"/><circle cx="200.0" cy="303.5" r="2.3"/><circle cx="189.6" cy="302.5" r="2.3"/><circle cx="190.6" cy="293.7" r="2.3"/><circle cx="191.5" cy="306.9" r="2.3"/><circle cx="185.0" cy="316.5" r="2.3"/><circle cx="190.2" cy="317.8" r="2.3"/><circle cx="181.3" cy="303.5" r="2.3"/><circle cx="201.2" cy="298.4" r="2.3"/><circle cx="188.8" cy="320.6" r="2.3"/><circle cx="187.6" cy="313.7" r="2.3"/><circle cx="190.1" cy="303.3" r="2.3"/><circle cx="191.0" cy="317.3" r="2.3"/><circle cx="191.5" cy="305.2" r="2.3"/><circle cx="192.4" cy="313.6" r="2.3"/><circle cx="205.0" cy="304.6" r="2.3"/><circle cx="191.7" cy="310.3" r="2.3"/><circle cx="193.1" cy="323.2" r="2.3"/><circle cx="195.8" cy="308.4" r="2.3"/><circle cx="192.6" cy="297.2" r="2.3"/><circle cx="207.2" cy="291.0" r="2.3"/><circle cx="202.9" cy="293.0" r="2.3"/><circle cx="189.9" cy="298.6" r="2.3"/><circle cx="194.7" cy="306.9" r="2.3"/><circle cx="200.3" cy="317.3" r="2.3"/><circle cx="196.2" cy="313.1" r="2.3"/><circle cx="198.6" cy="304.4" r="2.3"/><circle cx="189.4" cy="308.3" r="2.3"/><circle cx="192.5" cy="307.0" r="2.3"/><circle cx="194.1" cy="310.6" r="2.3"/><circle cx="190.1" cy="301.9" r="2.3"/><circle cx="180.4" cy="310.7" r="2.3"/><circle cx="203.4" cy="306.1" r="2.3"/><circle cx="198.1" cy="282.8" r="2.3"/><circle cx="180.9" cy="310.3" r="2.3"/><circle cx="168.9" cy="324.8" r="2.3"/><circle cx="196.2" cy="324.0" r="2.3"/><circle cx="188.1" cy="315.5" r="2.3"/><circle cx="186.2" cy="309.1" r="2.3"/><circle cx="183.4" cy="312.5" r="2.3"/><circle cx="199.0" cy="307.8" r="2.3"/><circle cx="194.3" cy="297.5" r="2.3"/><circle cx="184.4" cy="306.4" r="2.3"/><circle cx="190.4" cy="318.9" r="2.3"/><circle cx="197.5" cy="294.7" r="2.3"/><circle cx="191.5" cy="299.8" r="2.3"/><circle cx="188.3" cy="307.1" r="2.3"/><circle cx="185.2" cy="314.8" r="2.3"/><circle cx="188.8" cy="316.5" r="2.3"/><circle cx="186.5" cy="314.2" r="2.3"/><circle cx="187.8" cy="301.0" r="2.3"/><circle cx="195.7" cy="315.1" r="2.3"/><circle cx="192.3" cy="329.4" r="2.3"/><circle cx="190.4" cy="309.7" r="2.3"/><circle cx="191.0" cy="311.3" r="2.3"/><circle cx="192.7" cy="322.9" r="2.3"/><circle cx="191.6" cy="299.2" r="2.3"/><circle cx="189.5" cy="320.6" r="2.3"/><circle cx="200.0" cy="308.6" r="2.3"/><circle cx="192.3" cy="304.0" r="2.3"/><circle cx="183.1" cy="299.6" r="2.3"/><circle cx="182.7" cy="312.8" r="2.3"/><circle cx="190.3" cy="301.4" r="2.3"/><circle cx="189.6" cy="314.2" r="2.3"/><circle cx="183.0" cy="304.4" r="2.3"/><circle cx="184.5" cy="303.9" r="2.3"/><circle cx="193.5" cy="311.5" r="2.3"/><circle cx="204.0" cy="312.4" r="2.3"/><circle cx="194.0" cy="313.9" r="2.3"/><circle cx="190.9" cy="308.8" r="2.3"/><circle cx="195.3" cy="318.9" r="2.3"/><circle cx="202.9" cy="299.0" r="2.3"/><circle cx="196.1" cy="314.6" r="2.3"/><circle cx="183.9" cy="309.3" r="2.3"/><circle cx="206.8" cy="301.9" r="2.3"/><circle cx="183.7" cy="307.0" r="2.3"/><circle cx="189.3" cy="310.2" r="2.3"/><circle cx="186.1" cy="286.8" r="2.3"/><circle cx="199.6" cy="294.6" r="2.3"/><circle cx="191.3" cy="307.0" r="2.3"/><circle cx="194.9" cy="311.8" r="2.3"/><circle cx="198.1" cy="289.0" r="2.3"/><circle cx="188.5" cy="298.0" r="2.3"/><circle cx="193.7" cy="303.0" r="2.3"/><circle cx="185.3" cy="302.4" r="2.3"/><circle cx="205.5" cy="308.3" r="2.3"/><circle cx="186.7" cy="295.0" r="2.3"/><circle cx="194.9" cy="311.7" r="2.3"/><circle cx="184.6" cy="309.5" r="2.3"/><circle cx="184.6" cy="314.9" r="2.3"/><circle cx="193.0" cy="296.7" r="2.3"/><circle cx="196.9" cy="308.7" r="2.3"/><circle cx="190.2" cy="313.4" r="2.3"/><circle cx="189.7" cy="316.3" r="2.3"/><circle cx="181.5" cy="312.7" r="2.3"/><circle cx="202.3" cy="296.0" r="2.3"/><circle cx="195.7" cy="295.2" r="2.3"/><circle cx="190.1" cy="306.1" r="2.3"/><circle cx="201.9" cy="307.2" r="2.3"/><circle cx="206.3" cy="287.9" r="2.3"/><circle cx="184.6" cy="328.1" r="2.3"/><circle cx="196.6" cy="309.5" r="2.3"/><circle cx="179.5" cy="321.3" r="2.3"/><circle cx="191.2" cy="308.3" r="2.3"/><circle cx="191.4" cy="313.2" r="2.3"/><circle cx="187.8" cy="312.8" r="2.3"/><circle cx="188.6" cy="306.9" r="2.3"/><circle cx="194.0" cy="301.9" r="2.3"/><circle cx="186.4" cy="304.1" r="2.3"/><circle cx="186.3" cy="321.4" r="2.3"/><circle cx="203.5" cy="298.4" r="2.3"/><circle cx="198.0" cy="302.6" r="2.3"/><circle cx="194.0" cy="308.4" r="2.3"/><circle cx="188.7" cy="308.2" r="2.3"/><circle cx="203.8" cy="312.9" r="2.3"/><circle cx="200.7" cy="288.6" r="2.3"/><circle cx="185.1" cy="309.4" r="2.3"/><circle cx="209.4" cy="300.9" r="2.3"/><circle cx="205.4" cy="309.4" r="2.3"/><circle cx="191.1" cy="312.8" r="2.3"/><circle cx="194.4" cy="313.6" r="2.3"/><circle cx="190.8" cy="319.3" r="2.3"/><circle cx="193.0" cy="309.7" r="2.3"/><circle cx="192.4" cy="321.6" r="2.3"/><circle cx="192.4" cy="297.8" r="2.3"/><circle cx="187.9" cy="309.5" r="2.3"/><circle cx="188.5" cy="302.6" r="2.3"/><circle cx="195.8" cy="306.7" r="2.3"/><circle cx="189.1" cy="316.7" r="2.3"/><circle cx="184.8" cy="325.9" r="2.3"/><circle cx="187.0" cy="338.1" r="2.3"/><circle cx="188.0" cy="311.2" r="2.3"/><circle cx="201.5" cy="283.0" r="2.3"/><circle cx="202.7" cy="313.9" r="2.3"/><circle cx="208.0" cy="300.2" r="2.3"/><circle cx="197.4" cy="307.4" r="2.3"/><circle cx="202.1" cy="286.2" r="2.3"/><circle cx="197.5" cy="306.5" r="2.3"/><circle cx="185.8" cy="306.2" r="2.3"/><circle cx="193.1" cy="317.8" r="2.3"/><circle cx="196.1" cy="315.5" r="2.3"/><circle cx="188.5" cy="317.5" r="2.3"/><circle cx="189.5" cy="293.1" r="2.3"/><circle cx="191.8" cy="321.4" r="2.3"/><circle cx="189.7" cy="307.9" r="2.3"/><circle cx="192.5" cy="308.3" r="2.3"/><circle cx="189.8" cy="303.5" r="2.3"/><circle cx="186.2" cy="327.4" r="2.3"/><circle cx="187.3" cy="299.8" r="2.3"/><circle cx="199.1" cy="303.3" r="2.3"/><circle cx="188.6" cy="314.1" r="2.3"/><circle cx="190.6" cy="307.8" r="2.3"/><circle cx="203.7" cy="301.3" r="2.3"/><circle cx="205.1" cy="316.8" r="2.3"/><circle cx="194.4" cy="301.1" r="2.3"/><circle cx="188.0" cy="315.1" r="2.3"/><circle cx="192.0" cy="293.8" r="2.3"/><circle cx="194.1" cy="309.6" r="2.3"/><circle cx="198.5" cy="309.4" r="2.3"/><circle cx="190.8" cy="317.4" r="2.3"/><circle cx="191.0" cy="307.7" r="2.3"/><circle cx="195.7" cy="314.9" r="2.3"/><circle cx="194.8" cy="309.5" r="2.3"/><circle cx="185.7" cy="302.0" r="2.3"/><circle cx="200.3" cy="301.0" r="2.3"/><circle cx="199.9" cy="315.5" r="2.3"/><circle cx="197.2" cy="310.4" r="2.3"/><circle cx="193.5" cy="321.8" r="2.3"/><circle cx="193.6" cy="302.3" r="2.3"/><circle cx="186.5" cy="306.9" r="2.3"/><circle cx="196.6" cy="314.4" r="2.3"/><circle cx="205.2" cy="308.2" r="2.3"/><circle cx="192.4" cy="305.0" r="2.3"/><circle cx="189.4" cy="304.3" r="2.3"/><circle cx="191.2" cy="311.7" r="2.3"/><circle cx="190.1" cy="323.8" r="2.3"/><circle cx="189.4" cy="312.2" r="2.3"/><circle cx="196.9" cy="295.5" r="2.3"/><circle cx="200.8" cy="302.7" r="2.3"/><circle cx="201.9" cy="311.5" r="2.3"/><circle cx="194.6" cy="316.3" r="2.3"/><circle cx="192.9" cy="310.5" r="2.3"/><circle cx="195.4" cy="315.8" r="2.3"/><circle cx="197.7" cy="302.9" r="2.3"/><circle cx="182.9" cy="330.6" r="2.3"/><circle cx="189.5" cy="304.2" r="2.3"/><circle cx="204.2" cy="298.0" r="2.3"/><circle cx="194.0" cy="309.2" r="2.3"/><circle cx="200.1" cy="329.7" r="2.3"/><circle cx="201.5" cy="302.6" r="2.3"/><circle cx="192.6" cy="314.3" r="2.3"/><circle cx="190.7" cy="312.1" r="2.3"/><circle cx="190.4" cy="323.3" r="2.3"/><circle cx="198.3" cy="313.8" r="2.3"/><circle cx="192.0" cy="316.9" r="2.3"/><circle cx="201.2" cy="314.8" r="2.3"/><circle cx="190.2" cy="312.3" r="2.3"/><circle cx="193.6" cy="299.8" r="2.3"/><circle cx="196.8" cy="299.1" r="2.3"/><circle cx="180.1" cy="305.7" r="2.3"/><circle cx="196.1" cy="309.6" r="2.3"/><circle cx="186.6" cy="307.3" r="2.3"/><circle cx="184.2" cy="317.5" r="2.3"/><circle cx="190.7" cy="294.9" r="2.3"/><circle cx="198.1" cy="310.1" r="2.3"/><circle cx="189.6" cy="318.7" r="2.3"/><circle cx="193.0" cy="296.1" r="2.3"/><circle cx="194.6" cy="299.8" r="2.3"/><circle cx="199.3" cy="292.8" r="2.3"/><circle cx="189.4" cy="313.3" r="2.3"/><circle cx="185.6" cy="309.9" r="2.3"/><circle cx="194.0" cy="293.9" r="2.3"/><circle cx="194.2" cy="320.4" r="2.3"/><circle cx="200.8" cy="306.7" r="2.3"/><circle cx="202.1" cy="308.6" r="2.3"/><circle cx="188.3" cy="311.2" r="2.3"/><circle cx="185.4" cy="313.2" r="2.3"/><circle cx="187.6" cy="296.6" r="2.3"/><circle cx="191.3" cy="310.1" r="2.3"/><circle cx="190.5" cy="306.4" r="2.3"/><circle cx="185.1" cy="319.6" r="2.3"/><circle cx="202.0" cy="304.5" r="2.3"/><circle cx="189.4" cy="321.1" r="2.3"/><circle cx="195.2" cy="291.5" r="2.3"/><circle cx="190.5" cy="313.4" r="2.3"/><circle cx="179.4" cy="318.5" r="2.3"/><circle cx="186.6" cy="312.5" r="2.3"/><circle cx="187.5" cy="319.4" r="2.3"/><circle cx="185.3" cy="315.5" r="2.3"/><circle cx="191.2" cy="293.2" r="2.3"/><circle cx="188.9" cy="300.4" r="2.3"/><circle cx="195.8" cy="321.5" r="2.3"/><circle cx="185.8" cy="308.1" r="2.3"/><circle cx="189.1" cy="305.4" r="2.3"/><circle cx="189.2" cy="321.4" r="2.3"/><circle cx="188.6" cy="311.4" r="2.3"/><circle cx="195.2" cy="288.7" r="2.3"/><circle cx="198.5" cy="299.1" r="2.3"/><circle cx="187.7" cy="307.0" r="2.3"/><circle cx="202.6" cy="308.1" r="2.3"/><circle cx="190.7" cy="297.6" r="2.3"/><circle cx="189.4" cy="304.4" r="2.3"/><circle cx="197.0" cy="305.5" r="2.3"/><circle cx="176.5" cy="319.1" r="2.3"/><circle cx="192.8" cy="307.9" r="2.3"/><circle cx="191.7" cy="306.8" r="2.3"/><circle cx="199.3" cy="307.3" r="2.3"/><circle cx="193.4" cy="303.7" r="2.3"/><circle cx="193.1" cy="308.2" r="2.3"/><circle cx="198.7" cy="308.8" r="2.3"/><circle cx="193.5" cy="308.3" r="2.3"/><circle cx="187.1" cy="305.3" r="2.3"/><circle cx="189.5" cy="298.4" r="2.3"/><circle cx="187.8" cy="308.1" r="2.3"/><circle cx="197.5" cy="299.3" r="2.3"/><circle cx="180.8" cy="308.6" r="2.3"/><circle cx="186.8" cy="322.8" r="2.3"/><circle cx="198.8" cy="309.5" r="2.3"/><circle cx="188.9" cy="307.3" r="2.3"/><circle cx="178.8" cy="324.7" r="2.3"/><circle cx="197.6" cy="309.0" r="2.3"/><circle cx="195.7" cy="298.4" r="2.3"/><circle cx="204.6" cy="316.8" r="2.3"/><circle cx="195.3" cy="300.1" r="2.3"/><circle cx="190.7" cy="313.9" r="2.3"/><circle cx="199.0" cy="298.4" r="2.3"/><circle cx="194.6" cy="309.9" r="2.3"/><circle cx="194.2" cy="320.1" r="2.3"/><circle cx="192.8" cy="312.3" r="2.3"/><circle cx="195.6" cy="298.1" r="2.3"/><circle cx="189.5" cy="309.0" r="2.3"/><circle cx="187.5" cy="307.0" r="2.3"/><circle cx="199.2" cy="326.2" r="2.3"/><circle cx="196.1" cy="305.5" r="2.3"/><circle cx="200.4" cy="308.8" r="2.3"/><circle cx="191.4" cy="312.0" r="2.3"/><circle cx="194.0" cy="306.3" r="2.3"/><circle cx="199.8" cy="300.8" r="2.3"/><circle cx="198.0" cy="303.0" r="2.3"/><circle cx="198.2" cy="311.6" r="2.3"/><circle cx="198.3" cy="310.1" r="2.3"/><circle cx="199.1" cy="301.3" r="2.3"/><circle cx="194.4" cy="306.5" r="2.3"/><circle cx="197.5" cy="310.7" r="2.3"/><circle cx="201.3" cy="291.1" r="2.3"/><circle cx="204.5" cy="297.7" r="2.3"/><circle cx="193.7" cy="288.6" r="2.3"/><circle cx="207.5" cy="297.1" r="2.3"/><circle cx="197.6" cy="297.0" r="2.3"/><circle cx="184.3" cy="299.3" r="2.3"/><circle cx="197.4" cy="306.5" r="2.3"/><circle cx="198.4" cy="308.5" r="2.3"/><circle cx="193.8" cy="304.9" r="2.3"/><circle cx="195.8" cy="305.4" r="2.3"/><circle cx="187.9" cy="325.4" r="2.3"/><circle cx="188.4" cy="308.3" r="2.3"/><circle cx="203.3" cy="304.7" r="2.3"/><circle cx="191.3" cy="296.3" r="2.3"/><circle cx="190.5" cy="306.2" r="2.3"/><circle cx="172.4" cy="319.7" r="2.3"/><circle cx="195.2" cy="312.7" r="2.3"/><circle cx="192.8" cy="296.8" r="2.3"/><circle cx="200.1" cy="315.4" r="2.3"/><circle cx="186.9" cy="296.4" r="2.3"/><circle cx="197.7" cy="319.9" r="2.3"/><circle cx="181.3" cy="300.1" r="2.3"/><circle cx="186.3" cy="320.2" r="2.3"/><circle cx="188.3" cy="317.7" r="2.3"/><circle cx="191.3" cy="303.7" r="2.3"/><circle cx="195.4" cy="324.1" r="2.3"/><circle cx="194.7" cy="287.3" r="2.3"/><circle cx="184.2" cy="322.7" r="2.3"/><circle cx="197.3" cy="296.2" r="2.3"/><circle cx="192.3" cy="306.8" r="2.3"/><circle cx="192.4" cy="303.1" r="2.3"/><circle cx="196.0" cy="304.8" r="2.3"/><circle cx="193.7" cy="300.3" r="2.3"/><circle cx="200.3" cy="309.7" r="2.3"/><circle cx="190.6" cy="311.0" r="2.3"/><circle cx="192.9" cy="313.6" r="2.3"/><circle cx="191.5" cy="318.6" r="2.3"/><circle cx="193.8" cy="326.7" r="2.3"/><circle cx="190.3" cy="306.7" r="2.3"/><circle cx="192.3" cy="316.9" r="2.3"/><circle cx="184.6" cy="303.9" r="2.3"/><circle cx="200.8" cy="292.8" r="2.3"/><circle cx="194.3" cy="316.5" r="2.3"/><circle cx="202.8" cy="299.1" r="2.3"/><circle cx="196.5" cy="304.2" r="2.3"/><circle cx="186.6" cy="309.8" r="2.3"/><circle cx="182.9" cy="298.2" r="2.3"/><circle cx="185.6" cy="296.0" r="2.3"/><circle cx="191.3" cy="311.9" r="2.3"/><circle cx="191.3" cy="316.8" r="2.3"/><circle cx="196.7" cy="303.2" r="2.3"/><circle cx="197.3" cy="306.0" r="2.3"/><circle cx="185.9" cy="308.5" r="2.3"/><circle cx="192.8" cy="308.1" r="2.3"/><circle cx="198.6" cy="307.3" r="2.3"/><circle cx="184.5" cy="322.1" r="2.3"/><circle cx="181.1" cy="299.9" r="2.3"/><circle cx="190.5" cy="305.9" r="2.3"/><circle cx="201.6" cy="289.8" r="2.3"/><circle cx="186.3" cy="311.5" r="2.3"/><circle cx="188.4" cy="302.6" r="2.3"/><circle cx="181.3" cy="311.2" r="2.3"/><circle cx="204.5" cy="309.6" r="2.3"/><circle cx="194.9" cy="309.5" r="2.3"/><circle cx="186.4" cy="304.1" r="2.3"/><circle cx="194.9" cy="308.6" r="2.3"/><circle cx="198.0" cy="299.9" r="2.3"/><circle cx="194.2" cy="321.2" r="2.3"/><circle cx="192.6" cy="292.0" r="2.3"/><circle cx="204.1" cy="296.3" r="2.3"/><circle cx="194.3" cy="314.9" r="2.3"/><circle cx="189.0" cy="297.7" r="2.3"/><circle cx="192.8" cy="308.9" r="2.3"/><circle cx="196.3" cy="300.9" r="2.3"/><circle cx="191.5" cy="314.1" r="2.3"/><circle cx="184.3" cy="294.2" r="2.3"/><circle cx="194.3" cy="306.1" r="2.3"/><circle cx="191.0" cy="304.8" r="2.3"/><circle cx="198.9" cy="303.6" r="2.3"/><circle cx="193.4" cy="307.8" r="2.3"/><circle cx="192.4" cy="298.1" r="2.3"/><circle cx="186.3" cy="307.2" r="2.3"/><circle cx="195.0" cy="296.3" r="2.3"/><circle cx="189.4" cy="318.9" r="2.3"/><circle cx="186.7" cy="320.4" r="2.3"/><circle cx="185.8" cy="302.2" r="2.3"/><circle cx="202.6" cy="306.2" r="2.3"/><circle cx="195.5" cy="312.5" r="2.3"/><circle cx="190.0" cy="314.1" r="2.3"/><circle cx="193.9" cy="306.5" r="2.3"/><circle cx="192.7" cy="314.9" r="2.3"/><circle cx="191.6" cy="312.6" r="2.3"/><circle cx="193.7" cy="300.7" r="2.3"/><circle cx="201.4" cy="302.0" r="2.3"/><circle cx="198.6" cy="289.2" r="2.3"/><circle cx="182.3" cy="328.0" r="2.3"/><circle cx="196.4" cy="298.1" r="2.3"/><circle cx="187.1" cy="318.9" r="2.3"/><circle cx="190.9" cy="313.6" r="2.3"/><circle cx="211.5" cy="311.8" r="2.3"/><circle cx="189.2" cy="307.4" r="2.3"/><circle cx="196.3" cy="304.6" r="2.3"/><circle cx="195.4" cy="313.3" r="2.3"/><circle cx="184.0" cy="306.0" r="2.3"/><circle cx="188.9" cy="311.9" r="2.3"/><circle cx="185.2" cy="302.2" r="2.3"/><circle cx="190.4" cy="301.4" r="2.3"/><circle cx="184.5" cy="304.4" r="2.3"/><circle cx="193.0" cy="308.7" r="2.3"/><circle cx="192.9" cy="296.8" r="2.3"/><circle cx="200.6" cy="302.6" r="2.3"/><circle cx="199.4" cy="285.2" r="2.3"/><circle cx="195.9" cy="292.6" r="2.3"/><circle cx="186.0" cy="314.0" r="2.3"/><circle cx="187.3" cy="307.3" r="2.3"/><circle cx="190.9" cy="327.0" r="2.3"/><circle cx="181.1" cy="314.8" r="2.3"/><circle cx="202.4" cy="300.8" r="2.3"/><circle cx="191.7" cy="305.7" r="2.3"/><circle cx="184.3" cy="308.1" r="2.3"/><circle cx="189.9" cy="314.8" r="2.3"/><circle cx="187.1" cy="310.7" r="2.3"/><circle cx="186.8" cy="310.9" r="2.3"/><circle cx="195.5" cy="318.9" r="2.3"/><circle cx="192.2" cy="317.1" r="2.3"/><circle cx="175.1" cy="307.5" r="2.3"/><circle cx="188.1" cy="314.7" r="2.3"/><circle cx="190.6" cy="308.2" r="2.3"/><circle cx="194.3" cy="294.7" r="2.3"/><circle cx="198.1" cy="316.9" r="2.3"/><circle cx="189.6" cy="300.5" r="2.3"/><circle cx="182.5" cy="318.7" r="2.3"/><circle cx="185.6" cy="326.2" r="2.3"/><circle cx="201.1" cy="302.5" r="2.3"/><circle cx="178.6" cy="319.5" r="2.3"/><circle cx="185.5" cy="321.0" r="2.3"/><circle cx="185.2" cy="320.1" r="2.3"/><circle cx="200.8" cy="295.4" r="2.3"/><circle cx="201.0" cy="320.8" r="2.3"/><circle cx="190.4" cy="324.6" r="2.3"/><circle cx="190.4" cy="304.8" r="2.3"/><circle cx="188.9" cy="303.6" r="2.3"/><circle cx="179.2" cy="299.9" r="2.3"/><circle cx="191.7" cy="309.5" r="2.3"/><circle cx="187.8" cy="332.1" r="2.3"/><circle cx="197.3" cy="305.1" r="2.3"/><circle cx="193.4" cy="296.0" r="2.3"/><circle cx="207.1" cy="294.9" r="2.3"/><circle cx="183.8" cy="310.5" r="2.3"/><circle cx="198.0" cy="309.6" r="2.3"/><circle cx="192.9" cy="313.2" r="2.3"/><circle cx="191.9" cy="299.1" r="2.3"/><circle cx="197.3" cy="310.9" r="2.3"/><circle cx="189.1" cy="298.3" r="2.3"/><circle cx="183.3" cy="315.9" r="2.3"/><circle cx="190.1" cy="317.9" r="2.3"/><circle cx="199.2" cy="319.6" r="2.3"/><circle cx="194.4" cy="315.7" r="2.3"/><circle cx="191.8" cy="298.4" r="2.3"/><circle cx="198.9" cy="317.1" r="2.3"/><circle cx="200.6" cy="325.3" r="2.3"/><circle cx="192.6" cy="311.2" r="2.3"/><circle cx="189.1" cy="316.8" r="2.3"/><circle cx="186.8" cy="305.1" r="2.3"/><circle cx="183.0" cy="314.2" r="2.3"/><circle cx="182.8" cy="309.3" r="2.3"/><circle cx="182.9" cy="315.3" r="2.3"/><circle cx="180.7" cy="311.8" r="2.3"/><circle cx="200.6" cy="306.8" r="2.3"/><circle cx="195.7" cy="301.1" r="2.3"/><circle cx="181.2" cy="298.7" r="2.3"/><circle cx="193.8" cy="311.7" r="2.3"/><circle cx="199.6" cy="299.6" r="2.3"/><circle cx="189.6" cy="298.8" r="2.3"/><circle cx="188.7" cy="306.5" r="2.3"/><circle cx="175.8" cy="324.5" r="2.3"/><circle cx="195.5" cy="316.7" r="2.3"/><circle cx="189.7" cy="286.9" r="2.3"/><circle cx="187.8" cy="311.8" r="2.3"/><circle cx="197.5" cy="313.9" r="2.3"/><circle cx="187.8" cy="302.4" r="2.3"/><circle cx="203.2" cy="284.7" r="2.3"/><circle cx="197.5" cy="300.6" r="2.3"/><circle cx="183.9" cy="306.9" r="2.3"/><circle cx="192.6" cy="325.5" r="2.3"/><circle cx="182.9" cy="312.7" r="2.3"/><circle cx="190.9" cy="303.2" r="2.3"/><circle cx="187.6" cy="301.9" r="2.3"/><circle cx="192.3" cy="312.3" r="2.3"/><circle cx="188.4" cy="310.1" r="2.3"/><circle cx="189.1" cy="319.7" r="2.3"/><circle cx="198.5" cy="282.7" r="2.3"/><circle cx="198.1" cy="309.7" r="2.3"/><circle cx="192.1" cy="304.8" r="2.3"/><circle cx="198.5" cy="303.7" r="2.3"/><circle cx="190.7" cy="302.7" r="2.3"/><circle cx="198.2" cy="302.8" r="2.3"/><circle cx="185.0" cy="299.6" r="2.3"/><circle cx="186.4" cy="311.9" r="2.3"/><circle cx="193.4" cy="311.9" r="2.3"/><circle cx="194.2" cy="320.8" r="2.3"/><circle cx="193.6" cy="302.6" r="2.3"/><circle cx="206.4" cy="300.5" r="2.3"/><circle cx="198.8" cy="315.0" r="2.3"/><circle cx="182.1" cy="300.6" r="2.3"/><circle cx="187.7" cy="321.6" r="2.3"/><circle cx="192.3" cy="309.3" r="2.3"/><circle cx="193.2" cy="314.8" r="2.3"/><circle cx="204.1" cy="296.6" r="2.3"/><circle cx="191.7" cy="302.3" r="2.3"/><circle cx="191.6" cy="325.1" r="2.3"/><circle cx="183.3" cy="300.9" r="2.3"/><circle cx="195.0" cy="310.6" r="2.3"/><circle cx="185.8" cy="304.5" r="2.3"/><circle cx="188.2" cy="298.3" r="2.3"/><circle cx="196.3" cy="311.7" r="2.3"/><circle cx="184.8" cy="315.3" r="2.3"/><circle cx="194.8" cy="311.3" r="2.3"/><circle cx="193.4" cy="303.2" r="2.3"/><circle cx="186.2" cy="327.0" r="2.3"/><circle cx="187.0" cy="314.7" r="2.3"/><circle cx="182.7" cy="304.5" r="2.3"/><circle cx="199.3" cy="310.5" r="2.3"/><circle cx="191.9" cy="329.0" r="2.3"/><circle cx="190.4" cy="314.1" r="2.3"/><circle cx="193.7" cy="302.4" r="2.3"/><circle cx="186.0" cy="311.6" r="2.3"/><circle cx="183.7" cy="313.9" r="2.3"/><circle cx="193.0" cy="290.2" r="2.3"/><circle cx="190.6" cy="290.4" r="2.3"/><circle cx="187.4" cy="317.4" r="2.3"/><circle cx="198.2" cy="312.5" r="2.3"/><circle cx="185.3" cy="317.8" r="2.3"/><circle cx="190.0" cy="320.4" r="2.3"/><circle cx="195.0" cy="309.0" r="2.3"/><circle cx="193.1" cy="293.8" r="2.3"/><circle cx="196.3" cy="308.4" r="2.3"/><circle cx="193.1" cy="304.5" r="2.3"/><circle cx="197.0" cy="319.6" r="2.3"/><circle cx="196.9" cy="317.5" r="2.3"/><circle cx="192.2" cy="303.8" r="2.3"/><circle cx="189.7" cy="310.1" r="2.3"/><circle cx="203.5" cy="307.3" r="2.3"/><circle cx="187.8" cy="304.1" r="2.3"/><circle cx="201.1" cy="316.4" r="2.3"/><circle cx="199.1" cy="311.5" r="2.3"/><circle cx="191.3" cy="303.1" r="2.3"/><circle cx="194.1" cy="301.7" r="2.3"/><circle cx="179.6" cy="321.4" r="2.3"/><circle cx="181.1" cy="320.0" r="2.3"/><circle cx="198.0" cy="307.8" r="2.3"/><circle cx="191.9" cy="314.1" r="2.3"/><circle cx="200.3" cy="294.4" r="2.3"/><circle cx="210.5" cy="304.8" r="2.3"/><circle cx="194.3" cy="306.6" r="2.3"/><circle cx="193.8" cy="296.9" r="2.3"/><circle cx="202.5" cy="298.9" r="2.3"/><circle cx="196.6" cy="307.0" r="2.3"/><circle cx="192.1" cy="300.9" r="2.3"/><circle cx="182.6" cy="317.1" r="2.3"/><circle cx="201.1" cy="293.2" r="2.3"/><circle cx="194.0" cy="297.1" r="2.3"/><circle cx="184.7" cy="314.1" r="2.3"/><circle cx="185.6" cy="314.1" r="2.3"/><circle cx="194.7" cy="324.0" r="2.3"/><circle cx="192.9" cy="303.4" r="2.3"/><circle cx="196.5" cy="301.2" r="2.3"/><circle cx="180.4" cy="314.8" r="2.3"/><circle cx="181.9" cy="313.0" r="2.3"/><circle cx="185.5" cy="296.5" r="2.3"/><circle cx="185.5" cy="326.5" r="2.3"/><circle cx="187.9" cy="308.6" r="2.3"/><circle cx="177.0" cy="312.6" r="2.3"/><circle cx="204.8" cy="313.2" r="2.3"/><circle cx="193.9" cy="304.7" r="2.3"/><circle cx="185.6" cy="312.0" r="2.3"/><circle cx="197.8" cy="310.4" r="2.3"/><circle cx="193.9" cy="310.5" r="2.3"/><circle cx="195.5" cy="305.7" r="2.3"/><circle cx="200.5" cy="311.7" r="2.3"/><circle cx="188.6" cy="313.8" r="2.3"/><circle cx="205.0" cy="288.3" r="2.3"/><circle cx="184.7" cy="312.5" r="2.3"/><circle cx="193.1" cy="288.0" r="2.3"/><circle cx="183.3" cy="313.7" r="2.3"/><circle cx="195.3" cy="304.5" r="2.3"/><circle cx="188.1" cy="318.6" r="2.3"/><circle cx="189.8" cy="305.9" r="2.3"/><circle cx="192.8" cy="324.6" r="2.3"/><circle cx="185.0" cy="304.0" r="2.3"/><circle cx="198.5" cy="302.4" r="2.3"/><circle cx="200.0" cy="303.7" r="2.3"/><circle cx="192.9" cy="311.8" r="2.3"/><circle cx="193.0" cy="314.8" r="2.3"/><circle cx="193.7" cy="299.8" r="2.3"/><circle cx="177.6" cy="325.7" r="2.3"/><circle cx="200.1" cy="306.3" r="2.3"/><circle cx="188.5" cy="304.8" r="2.3"/><circle cx="200.1" cy="297.7" r="2.3"/><circle cx="196.8" cy="320.0" r="2.3"/><circle cx="198.2" cy="310.8" r="2.3"/><circle cx="197.0" cy="299.4" r="2.3"/><circle cx="195.8" cy="302.5" r="2.3"/><circle cx="195.9" cy="316.9" r="2.3"/><circle cx="203.1" cy="302.2" r="2.3"/><circle cx="188.4" cy="301.6" r="2.3"/><circle cx="184.9" cy="303.2" r="2.3"/><circle cx="194.1" cy="308.7" r="2.3"/><circle cx="196.2" cy="307.5" r="2.3"/><circle cx="193.6" cy="305.3" r="2.3"/><circle cx="197.8" cy="295.5" r="2.3"/><circle cx="192.9" cy="299.6" r="2.3"/><circle cx="193.9" cy="307.6" r="2.3"/><circle cx="189.5" cy="290.1" r="2.3"/><circle cx="196.2" cy="306.4" r="2.3"/><circle cx="196.2" cy="313.1" r="2.3"/><circle cx="190.7" cy="320.5" r="2.3"/><circle cx="186.8" cy="305.5" r="2.3"/><circle cx="193.2" cy="298.7" r="2.3"/><circle cx="192.8" cy="310.8" r="2.3"/><circle cx="191.6" cy="307.7" r="2.3"/><circle cx="191.5" cy="314.0" r="2.3"/><circle cx="193.2" cy="311.3" r="2.3"/><circle cx="188.6" cy="300.9" r="2.3"/><circle cx="193.1" cy="313.2" r="2.3"/><circle cx="190.9" cy="305.2" r="2.3"/><circle cx="180.3" cy="326.2" r="2.3"/><circle cx="194.7" cy="306.7" r="2.3"/><circle cx="197.2" cy="298.2" r="2.3"/><circle cx="191.5" cy="325.8" r="2.3"/><circle cx="193.6" cy="314.8" r="2.3"/><circle cx="197.5" cy="311.1" r="2.3"/><circle cx="190.7" cy="305.7" r="2.3"/><circle cx="197.2" cy="310.9" r="2.3"/><circle cx="195.1" cy="312.4" r="2.3"/><circle cx="206.2" cy="293.0" r="2.3"/><circle cx="191.8" cy="331.4" r="2.3"/><circle cx="188.9" cy="303.3" r="2.3"/><circle cx="186.0" cy="308.2" r="2.3"/><circle cx="187.0" cy="313.1" r="2.3"/><circle cx="196.8" cy="319.4" r="2.3"/><circle cx="201.2" cy="290.9" r="2.3"/><circle cx="187.0" cy="298.8" r="2.3"/><circle cx="193.4" cy="302.1" r="2.3"/><circle cx="180.4" cy="313.6" r="2.3"/><circle cx="200.1" cy="321.7" r="2.3"/><circle cx="193.5" cy="314.4" r="2.3"/><circle cx="186.0" cy="305.2" r="2.3"/><circle cx="192.8" cy="313.5" r="2.3"/><circle cx="204.3" cy="320.1" r="2.3"/><circle cx="192.3" cy="315.3" r="2.3"/><circle cx="179.5" cy="318.6" r="2.3"/><circle cx="194.4" cy="297.2" r="2.3"/><circle cx="198.7" cy="303.8" r="2.3"/><circle cx="203.4" cy="309.1" r="2.3"/><circle cx="191.5" cy="323.0" r="2.3"/><circle cx="197.3" cy="306.0" r="2.3"/><circle cx="183.7" cy="312.7" r="2.3"/><circle cx="195.2" cy="312.6" r="2.3"/><circle cx="200.6" cy="313.4" r="2.3"/><circle cx="183.6" cy="316.7" r="2.3"/><circle cx="187.4" cy="307.2" r="2.3"/><circle cx="185.6" cy="311.1" r="2.3"/><circle cx="191.5" cy="316.9" r="2.3"/><circle cx="188.3" cy="316.1" r="2.3"/><circle cx="207.5" cy="299.3" r="2.3"/><circle cx="200.8" cy="309.6" r="2.3"/><circle cx="194.8" cy="313.3" r="2.3"/><circle cx="188.0" cy="324.7" r="2.3"/><circle cx="179.3" cy="316.9" r="2.3"/><circle cx="188.1" cy="315.1" r="2.3"/><circle cx="193.0" cy="306.9" r="2.3"/><circle cx="200.6" cy="314.7" r="2.3"/><circle cx="199.2" cy="291.9" r="2.3"/><circle cx="201.5" cy="304.4" r="2.3"/><circle cx="196.5" cy="305.3" r="2.3"/><circle cx="197.6" cy="306.0" r="2.3"/><circle cx="186.7" cy="316.0" r="2.3"/><circle cx="184.4" cy="305.2" r="2.3"/><circle cx="196.2" cy="312.6" r="2.3"/><circle cx="200.7" cy="305.7" r="2.3"/><circle cx="189.4" cy="285.8" r="2.3"/><circle cx="194.6" cy="294.8" r="2.3"/><circle cx="192.0" cy="308.0" r="2.3"/><circle cx="196.8" cy="309.0" r="2.3"/><circle cx="187.1" cy="301.1" r="2.3"/><circle cx="208.7" cy="301.9" r="2.3"/><circle cx="199.7" cy="287.1" r="2.3"/><circle cx="190.1" cy="321.8" r="2.3"/><circle cx="195.4" cy="300.8" r="2.3"/><circle cx="196.3" cy="318.2" r="2.3"/><circle cx="199.9" cy="301.9" r="2.3"/><circle cx="197.8" cy="312.7" r="2.3"/><circle cx="185.7" cy="319.4" r="2.3"/><circle cx="199.8" cy="296.3" r="2.3"/><circle cx="190.2" cy="325.0" r="2.3"/><circle cx="205.2" cy="315.4" r="2.3"/><circle cx="201.2" cy="301.0" r="2.3"/><circle cx="194.8" cy="303.1" r="2.3"/><circle cx="200.7" cy="312.2" r="2.3"/><circle cx="192.8" cy="298.6" r="2.3"/><circle cx="200.8" cy="295.2" r="2.3"/><circle cx="196.5" cy="305.0" r="2.3"/><circle cx="194.2" cy="297.8" r="2.3"/><circle cx="187.9" cy="316.7" r="2.3"/><circle cx="193.3" cy="314.6" r="2.3"/><circle cx="185.0" cy="301.4" r="2.3"/><circle cx="190.0" cy="317.0" r="2.3"/><circle cx="177.8" cy="312.1" r="2.3"/><circle cx="186.3" cy="288.8" r="2.3"/><circle cx="201.4" cy="302.7" r="2.3"/><circle cx="190.3" cy="312.9" r="2.3"/><circle cx="196.3" cy="310.8" r="2.3"/><circle cx="195.8" cy="306.3" r="2.3"/><circle cx="179.8" cy="304.3" r="2.3"/><circle cx="201.5" cy="307.7" r="2.3"/><circle cx="193.1" cy="304.2" r="2.3"/><circle cx="191.9" cy="301.6" r="2.3"/><circle cx="187.1" cy="317.2" r="2.3"/><circle cx="178.6" cy="292.1" r="2.3"/><circle cx="183.5" cy="298.6" r="2.3"/><circle cx="203.3" cy="293.9" r="2.3"/><circle cx="179.3" cy="309.9" r="2.3"/><circle cx="192.1" cy="316.5" r="2.3"/><circle cx="199.3" cy="302.8" r="2.3"/><circle cx="191.4" cy="291.1" r="2.3"/><circle cx="191.3" cy="293.0" r="2.3"/><circle cx="182.0" cy="312.7" r="2.3"/><circle cx="191.2" cy="295.8" r="2.3"/><circle cx="189.9" cy="308.9" r="2.3"/><circle cx="185.5" cy="313.9" r="2.3"/><circle cx="194.2" cy="295.6" r="2.3"/><circle cx="187.1" cy="306.2" r="2.3"/><circle cx="201.7" cy="314.4" r="2.3"/><circle cx="194.8" cy="303.0" r="2.3"/><circle cx="184.1" cy="318.2" r="2.3"/><circle cx="189.3" cy="298.0" r="2.3"/><circle cx="194.0" cy="312.5" r="2.3"/><circle cx="193.2" cy="306.6" r="2.3"/><circle cx="192.9" cy="320.9" r="2.3"/><circle cx="197.3" cy="295.6" r="2.3"/><circle cx="196.1" cy="310.3" r="2.3"/><circle cx="189.6" cy="304.4" r="2.3"/><circle cx="184.1" cy="299.7" r="2.3"/><circle cx="189.2" cy="306.1" r="2.3"/><circle cx="185.1" cy="309.5" r="2.3"/><circle cx="188.5" cy="301.7" r="2.3"/><circle cx="200.1" cy="299.9" r="2.3"/><circle cx="196.5" cy="304.6" r="2.3"/><circle cx="196.9" cy="298.1" r="2.3"/><circle cx="195.6" cy="291.8" r="2.3"/><circle cx="197.4" cy="304.5" r="2.3"/><circle cx="190.8" cy="308.7" r="2.3"/><circle cx="190.6" cy="315.3" r="2.3"/><circle cx="194.8" cy="313.9" r="2.3"/><circle cx="191.0" cy="306.3" r="2.3"/><circle cx="188.9" cy="309.4" r="2.3"/><circle cx="197.3" cy="313.4" r="2.3"/><circle cx="187.3" cy="314.1" r="2.3"/><circle cx="196.6" cy="296.2" r="2.3"/><circle cx="199.0" cy="308.9" r="2.3"/><circle cx="192.6" cy="303.7" r="2.3"/><circle cx="187.2" cy="312.8" r="2.3"/><circle cx="202.5" cy="309.9" r="2.3"/><circle cx="190.7" cy="321.9" r="2.3"/><circle cx="186.0" cy="307.7" r="2.3"/><circle cx="190.8" cy="312.5" r="2.3"/><circle cx="188.7" cy="308.2" r="2.3"/><circle cx="191.4" cy="307.0" r="2.3"/><circle cx="199.3" cy="313.4" r="2.3"/><circle cx="181.9" cy="306.9" r="2.3"/><circle cx="186.9" cy="295.5" r="2.3"/><circle cx="198.3" cy="301.8" r="2.3"/><circle cx="187.7" cy="309.6" r="2.3"/><circle cx="187.2" cy="308.1" r="2.3"/><circle cx="189.5" cy="292.0" r="2.3"/><circle cx="203.3" cy="303.2" r="2.3"/><circle cx="204.0" cy="298.6" r="2.3"/><circle cx="186.8" cy="318.6" r="2.3"/><circle cx="189.1" cy="305.7" r="2.3"/><circle cx="196.2" cy="308.7" r="2.3"/><circle cx="197.9" cy="309.8" r="2.3"/><circle cx="190.2" cy="318.5" r="2.3"/><circle cx="190.9" cy="310.2" r="2.3"/><circle cx="185.0" cy="308.0" r="2.3"/><circle cx="192.1" cy="311.4" r="2.3"/><circle cx="207.4" cy="304.7" r="2.3"/><circle cx="190.9" cy="297.0" r="2.3"/><circle cx="180.6" cy="305.5" r="2.3"/><circle cx="186.6" cy="297.1" r="2.3"/><circle cx="195.0" cy="298.7" r="2.3"/><circle cx="197.5" cy="312.7" r="2.3"/><circle cx="196.2" cy="317.1" r="2.3"/><circle cx="187.7" cy="311.5" r="2.3"/><circle cx="185.8" cy="316.0" r="2.3"/><circle cx="203.1" cy="305.5" r="2.3"/><circle cx="190.9" cy="314.8" r="2.3"/><circle cx="194.7" cy="315.9" r="2.3"/><circle cx="196.6" cy="295.3" r="2.3"/><circle cx="197.2" cy="297.4" r="2.3"/><circle cx="202.3" cy="304.6" r="2.3"/><circle cx="186.0" cy="310.1" r="2.3"/><circle cx="185.7" cy="304.5" r="2.3"/><circle cx="195.3" cy="309.0" r="2.3"/><circle cx="180.7" cy="305.4" r="2.3"/><circle cx="196.4" cy="305.6" r="2.3"/><circle cx="197.8" cy="312.6" r="2.3"/><circle cx="199.8" cy="297.4" r="2.3"/><circle cx="195.7" cy="302.1" r="2.3"/><circle cx="194.8" cy="312.5" r="2.3"/><circle cx="195.4" cy="302.8" r="2.3"/><circle cx="188.5" cy="294.0" r="2.3"/><circle cx="190.1" cy="312.1" r="2.3"/><circle cx="193.3" cy="291.4" r="2.3"/><circle cx="201.0" cy="311.0" r="2.3"/><circle cx="193.2" cy="318.3" r="2.3"/><circle cx="198.1" cy="291.6" r="2.3"/><circle cx="192.9" cy="312.4" r="2.3"/><circle cx="189.6" cy="310.5" r="2.3"/><circle cx="194.5" cy="326.0" r="2.3"/><circle cx="187.2" cy="304.3" r="2.3"/><circle cx="182.1" cy="324.0" r="2.3"/><circle cx="198.9" cy="322.1" r="2.3"/><circle cx="197.3" cy="299.8" r="2.3"/><circle cx="196.5" cy="305.5" r="2.3"/><circle cx="202.2" cy="314.5" r="2.3"/><circle cx="190.3" cy="312.5" r="2.3"/><circle cx="186.9" cy="316.6" r="2.3"/><circle cx="206.2" cy="309.2" r="2.3"/><circle cx="192.5" cy="299.1" r="2.3"/><circle cx="186.3" cy="305.4" r="2.3"/><circle cx="205.6" cy="291.3" r="2.3"/><circle cx="192.1" cy="299.3" r="2.3"/><circle cx="188.2" cy="301.9" r="2.3"/><circle cx="197.0" cy="298.4" r="2.3"/><circle cx="188.1" cy="329.9" r="2.3"/><circle cx="181.3" cy="310.5" r="2.3"/><circle cx="185.8" cy="304.5" r="2.3"/><circle cx="188.4" cy="313.6" r="2.3"/><circle cx="191.7" cy="307.5" r="2.3"/><circle cx="185.9" cy="298.9" r="2.3"/><circle cx="182.6" cy="309.3" r="2.3"/><circle cx="194.8" cy="296.4" r="2.3"/><circle cx="196.3" cy="301.8" r="2.3"/><circle cx="190.2" cy="316.7" r="2.3"/><circle cx="191.8" cy="309.1" r="2.3"/><circle cx="179.0" cy="310.7" r="2.3"/><circle cx="185.9" cy="308.5" r="2.3"/><circle cx="196.7" cy="296.6" r="2.3"/><circle cx="197.0" cy="305.3" r="2.3"/><circle cx="175.5" cy="311.7" r="2.3"/><circle cx="203.6" cy="311.1" r="2.3"/><circle cx="197.5" cy="318.2" r="2.3"/><circle cx="184.0" cy="305.0" r="2.3"/><circle cx="200.3" cy="299.1" r="2.3"/><circle cx="184.9" cy="314.1" r="2.3"/><circle cx="194.8" cy="305.6" r="2.3"/><circle cx="196.5" cy="291.3" r="2.3"/><circle cx="199.0" cy="326.4" r="2.3"/><circle cx="203.0" cy="310.5" r="2.3"/><circle cx="189.7" cy="301.0" r="2.3"/><circle cx="205.5" cy="290.0" r="2.3"/><circle cx="206.8" cy="309.3" r="2.3"/><circle cx="192.3" cy="310.7" r="2.3"/><circle cx="207.1" cy="295.0" r="2.3"/><circle cx="192.7" cy="303.8" r="2.3"/><circle cx="205.3" cy="290.2" r="2.3"/><circle cx="185.5" cy="314.6" r="2.3"/><circle cx="194.3" cy="309.1" r="2.3"/><circle cx="189.6" cy="316.0" r="2.3"/><circle cx="185.0" cy="321.8" r="2.3"/><circle cx="191.9" cy="301.0" r="2.3"/><circle cx="196.7" cy="283.5" r="2.3"/><circle cx="190.4" cy="316.8" r="2.3"/><circle cx="197.2" cy="301.0" r="2.3"/><circle cx="197.8" cy="289.2" r="2.3"/><circle cx="194.5" cy="313.5" r="2.3"/><circle cx="200.2" cy="302.7" r="2.3"/><circle cx="183.5" cy="322.7" r="2.3"/><circle cx="181.1" cy="310.4" r="2.3"/><circle cx="202.7" cy="291.7" r="2.3"/><circle cx="193.4" cy="308.2" r="2.3"/><circle cx="192.8" cy="301.7" r="2.3"/><circle cx="199.2" cy="318.3" r="2.3"/><circle cx="183.9" cy="301.8" r="2.3"/><circle cx="191.3" cy="319.9" r="2.3"/><circle cx="191.0" cy="313.8" r="2.3"/><circle cx="184.7" cy="327.9" r="2.3"/><circle cx="180.2" cy="307.8" r="2.3"/><circle cx="190.6" cy="300.8" r="2.3"/><circle cx="194.4" cy="308.0" r="2.3"/><circle cx="204.7" cy="304.8" r="2.3"/><circle cx="193.6" cy="297.1" r="2.3"/><circle cx="184.5" cy="306.7" r="2.3"/><circle cx="194.0" cy="313.8" r="2.3"/><circle cx="204.1" cy="309.2" r="2.3"/><circle cx="193.7" cy="308.8" r="2.3"/><circle cx="186.4" cy="295.3" r="2.3"/><circle cx="192.8" cy="301.2" r="2.3"/><circle cx="198.3" cy="305.2" r="2.3"/><circle cx="194.4" cy="284.1" r="2.3"/><circle cx="206.3" cy="294.5" r="2.3"/><circle cx="191.5" cy="301.4" r="2.3"/><circle cx="201.3" cy="299.8" r="2.3"/><circle cx="195.1" cy="304.3" r="2.3"/><circle cx="206.1" cy="292.3" r="2.3"/><circle cx="194.1" cy="312.1" r="2.3"/><circle cx="187.0" cy="317.8" r="2.3"/><circle cx="197.0" cy="307.6" r="2.3"/><circle cx="189.5" cy="310.6" r="2.3"/><circle cx="189.4" cy="306.7" r="2.3"/><circle cx="195.1" cy="315.8" r="2.3"/><circle cx="202.9" cy="311.7" r="2.3"/><circle cx="196.5" cy="293.5" r="2.3"/><circle cx="184.1" cy="321.5" r="2.3"/><circle cx="205.8" cy="296.6" r="2.3"/><circle cx="183.8" cy="309.6" r="2.3"/><circle cx="183.9" cy="311.9" r="2.3"/><circle cx="196.2" cy="295.4" r="2.3"/><circle cx="187.9" cy="300.8" r="2.3"/><circle cx="188.0" cy="302.0" r="2.3"/><circle cx="192.1" cy="307.9" r="2.3"/><circle cx="187.2" cy="313.0" r="2.3"/><circle cx="189.6" cy="292.9" r="2.3"/><circle cx="201.9" cy="308.8" r="2.3"/><circle cx="185.8" cy="313.5" r="2.3"/><circle cx="182.6" cy="313.1" r="2.3"/><circle cx="186.7" cy="315.5" r="2.3"/><circle cx="193.2" cy="315.6" r="2.3"/><circle cx="195.2" cy="305.8" r="2.3"/><circle cx="195.7" cy="298.0" r="2.3"/><circle cx="211.6" cy="326.2" r="2.3"/><circle cx="190.4" cy="313.8" r="2.3"/><circle cx="201.9" cy="301.0" r="2.3"/><circle cx="193.7" cy="291.2" r="2.3"/><circle cx="184.4" cy="307.9" r="2.3"/><circle cx="193.2" cy="323.4" r="2.3"/><circle cx="191.3" cy="301.3" r="2.3"/><circle cx="189.1" cy="292.8" r="2.3"/><circle cx="194.4" cy="312.8" r="2.3"/><circle cx="192.7" cy="311.2" r="2.3"/><circle cx="196.4" cy="303.4" r="2.3"/><circle cx="197.6" cy="294.6" r="2.3"/><circle cx="194.7" cy="323.4" r="2.3"/><circle cx="192.1" cy="302.7" r="2.3"/><circle cx="197.6" cy="323.6" r="2.3"/><circle cx="195.2" cy="293.4" r="2.3"/><circle cx="198.4" cy="312.3" r="2.3"/><circle cx="198.9" cy="301.6" r="2.3"/><circle cx="206.8" cy="310.2" r="2.3"/><circle cx="190.1" cy="311.0" r="2.3"/><circle cx="199.5" cy="306.9" r="2.3"/><circle cx="183.9" cy="311.0" r="2.3"/><circle cx="184.1" cy="306.4" r="2.3"/><circle cx="187.8" cy="298.0" r="2.3"/><circle cx="193.2" cy="294.4" r="2.3"/><circle cx="198.8" cy="300.1" r="2.3"/><circle cx="188.3" cy="313.9" r="2.3"/><circle cx="200.8" cy="299.5" r="2.3"/><circle cx="188.6" cy="285.4" r="2.3"/><circle cx="193.6" cy="315.4" r="2.3"/><circle cx="187.8" cy="315.6" r="2.3"/><circle cx="194.0" cy="295.3" r="2.3"/><circle cx="186.1" cy="310.7" r="2.3"/><circle cx="187.0" cy="298.2" r="2.3"/><circle cx="201.2" cy="299.2" r="2.3"/><circle cx="184.3" cy="308.9" r="2.3"/><circle cx="193.0" cy="296.8" r="2.3"/><circle cx="183.9" cy="309.7" r="2.3"/><circle cx="180.9" cy="301.2" r="2.3"/><circle cx="199.2" cy="297.5" r="2.3"/><circle cx="182.8" cy="312.8" r="2.3"/><circle cx="199.6" cy="302.5" r="2.3"/><circle cx="190.7" cy="302.9" r="2.3"/><circle cx="191.7" cy="312.5" r="2.3"/><circle cx="193.0" cy="319.0" r="2.3"/><circle cx="193.8" cy="302.2" r="2.3"/><circle cx="185.0" cy="303.9" r="2.3"/><circle cx="201.3" cy="301.2" r="2.3"/><circle cx="203.6" cy="295.9" r="2.3"/><circle cx="190.6" cy="309.7" r="2.3"/><circle cx="193.2" cy="313.3" r="2.3"/><circle cx="185.9" cy="317.2" r="2.3"/><circle cx="191.8" cy="305.0" r="2.3"/><circle cx="191.1" cy="326.1" r="2.3"/><circle cx="193.8" cy="298.7" r="2.3"/><circle cx="195.0" cy="301.4" r="2.3"/><circle cx="204.6" cy="314.6" r="2.3"/><circle cx="204.6" cy="293.9" r="2.3"/><circle cx="186.9" cy="309.8" r="2.3"/><circle cx="190.2" cy="305.1" r="2.3"/><circle cx="197.9" cy="310.3" r="2.3"/><circle cx="205.1" cy="297.2" r="2.3"/><circle cx="202.2" cy="307.7" r="2.3"/><circle cx="197.9" cy="314.0" r="2.3"/><circle cx="196.5" cy="315.0" r="2.3"/><circle cx="187.6" cy="306.2" r="2.3"/><circle cx="194.1" cy="315.1" r="2.3"/><circle cx="173.8" cy="321.4" r="2.3"/><circle cx="199.1" cy="308.3" r="2.3"/><circle cx="195.5" cy="296.2" r="2.3"/><circle cx="193.0" cy="329.3" r="2.3"/><circle cx="203.5" cy="303.1" r="2.3"/><circle cx="192.7" cy="319.7" r="2.3"/><circle cx="192.4" cy="311.5" r="2.3"/><circle cx="192.6" cy="298.9" r="2.3"/><circle cx="190.7" cy="314.4" r="2.3"/><circle cx="184.1" cy="323.1" r="2.3"/><circle cx="198.9" cy="286.0" r="2.3"/><circle cx="193.6" cy="311.0" r="2.3"/><circle cx="187.6" cy="306.4" r="2.3"/><circle cx="183.5" cy="319.2" r="2.3"/><circle cx="188.3" cy="313.3" r="2.3"/><circle cx="204.6" cy="300.4" r="2.3"/><circle cx="196.4" cy="283.9" r="2.3"/><circle cx="188.9" cy="310.7" r="2.3"/><circle cx="189.3" cy="314.0" r="2.3"/><circle cx="206.2" cy="308.6" r="2.3"/><circle cx="192.3" cy="305.5" r="2.3"/><circle cx="192.0" cy="296.6" r="2.3"/><circle cx="193.4" cy="314.7" r="2.3"/><circle cx="188.5" cy="306.2" r="2.3"/><circle cx="180.5" cy="309.9" r="2.3"/><circle cx="192.2" cy="304.2" r="2.3"/><circle cx="196.3" cy="300.7" r="2.3"/><circle cx="190.3" cy="300.2" r="2.3"/><circle cx="190.3" cy="325.2" r="2.3"/><circle cx="188.6" cy="318.4" r="2.3"/><circle cx="193.5" cy="318.0" r="2.3"/><circle cx="201.5" cy="323.7" r="2.3"/><circle cx="194.7" cy="306.5" r="2.3"/><circle cx="173.0" cy="299.6" r="2.3"/><circle cx="197.5" cy="295.8" r="2.3"/><circle cx="187.0" cy="312.1" r="2.3"/><circle cx="195.7" cy="320.7" r="2.3"/><circle cx="201.9" cy="307.5" r="2.3"/><circle cx="189.0" cy="324.2" r="2.3"/><circle cx="204.1" cy="302.7" r="2.3"/><circle cx="190.9" cy="305.7" r="2.3"/><circle cx="189.1" cy="307.8" r="2.3"/><circle cx="193.1" cy="319.1" r="2.3"/><circle cx="191.5" cy="319.9" r="2.3"/><circle cx="194.4" cy="300.7" r="2.3"/><circle cx="187.2" cy="314.7" r="2.3"/><circle cx="181.0" cy="332.9" r="2.3"/><circle cx="201.0" cy="305.5" r="2.3"/><circle cx="189.7" cy="314.5" r="2.3"/><circle cx="195.7" cy="306.9" r="2.3"/><circle cx="193.9" cy="317.0" r="2.3"/><circle cx="196.0" cy="306.3" r="2.3"/><circle cx="193.8" cy="317.1" r="2.3"/><circle cx="198.3" cy="279.1" r="2.3"/><circle cx="193.9" cy="300.7" r="2.3"/><circle cx="197.0" cy="311.6" r="2.3"/><circle cx="189.6" cy="313.1" r="2.3"/><circle cx="202.3" cy="312.1" r="2.3"/><circle cx="196.3" cy="303.3" r="2.3"/><circle cx="189.0" cy="322.4" r="2.3"/><circle cx="201.7" cy="291.0" r="2.3"/><circle cx="193.2" cy="304.4" r="2.3"/><circle cx="191.5" cy="318.2" r="2.3"/><circle cx="198.4" cy="307.7" r="2.3"/><circle cx="191.6" cy="312.0" r="2.3"/><circle cx="192.9" cy="311.2" r="2.3"/><circle cx="191.1" cy="304.0" r="2.3"/><circle cx="187.1" cy="306.1" r="2.3"/><circle cx="204.2" cy="299.9" r="2.3"/><circle cx="193.2" cy="305.9" r="2.3"/><circle cx="193.1" cy="306.9" r="2.3"/><circle cx="192.8" cy="308.3" r="2.3"/><circle cx="200.5" cy="303.1" r="2.3"/><circle cx="200.7" cy="304.3" r="2.3"/><circle cx="193.2" cy="288.9" r="2.3"/><circle cx="188.2" cy="316.3" r="2.3"/><circle cx="196.9" cy="303.0" r="2.3"/><circle cx="196.6" cy="299.1" r="2.3"/><circle cx="197.7" cy="287.7" r="2.3"/><circle cx="197.8" cy="303.5" r="2.3"/><circle cx="184.7" cy="313.7" r="2.3"/><circle cx="183.6" cy="320.7" r="2.3"/><circle cx="186.3" cy="284.7" r="2.3"/><circle cx="186.6" cy="321.2" r="2.3"/><circle cx="190.6" cy="300.7" r="2.3"/><circle cx="203.9" cy="301.5" r="2.3"/><circle cx="202.8" cy="311.3" r="2.3"/><circle cx="180.0" cy="301.0" r="2.3"/><circle cx="187.5" cy="314.5" r="2.3"/><circle cx="202.1" cy="309.4" r="2.3"/><circle cx="199.9" cy="308.3" r="2.3"/><circle cx="188.3" cy="306.3" r="2.3"/><circle cx="187.4" cy="311.1" r="2.3"/><circle cx="193.6" cy="320.9" r="2.3"/><circle cx="195.7" cy="309.9" r="2.3"/><circle cx="189.0" cy="312.3" r="2.3"/><circle cx="188.1" cy="315.3" r="2.3"/><circle cx="185.0" cy="311.2" r="2.3"/><circle cx="194.5" cy="309.8" r="2.3"/><circle cx="192.9" cy="300.2" r="2.3"/><circle cx="198.4" cy="305.0" r="2.3"/><circle cx="197.5" cy="302.7" r="2.3"/><circle cx="189.2" cy="322.1" r="2.3"/><circle cx="198.8" cy="294.3" r="2.3"/><circle cx="187.3" cy="316.5" r="2.3"/><circle cx="192.1" cy="319.1" r="2.3"/><circle cx="189.6" cy="311.2" r="2.3"/><circle cx="192.9" cy="303.0" r="2.3"/><circle cx="195.2" cy="309.8" r="2.3"/><circle cx="189.4" cy="311.1" r="2.3"/><circle cx="194.5" cy="309.5" r="2.3"/><circle cx="193.9" cy="292.2" r="2.3"/><circle cx="194.2" cy="300.7" r="2.3"/><circle cx="192.0" cy="305.2" r="2.3"/><circle cx="199.3" cy="302.0" r="2.3"/><circle cx="182.4" cy="306.9" r="2.3"/><circle cx="186.2" cy="305.7" r="2.3"/><circle cx="184.0" cy="322.0" r="2.3"/><circle cx="194.4" cy="304.9" r="2.3"/><circle cx="192.9" cy="306.3" r="2.3"/><circle cx="188.4" cy="322.2" r="2.3"/><circle cx="195.9" cy="318.0" r="2.3"/><circle cx="205.4" cy="303.5" r="2.3"/><circle cx="195.5" cy="316.3" r="2.3"/><circle cx="200.1" cy="302.5" r="2.3"/><circle cx="188.1" cy="310.6" r="2.3"/><circle cx="187.8" cy="329.4" r="2.3"/><circle cx="194.5" cy="306.5" r="2.3"/><circle cx="195.7" cy="318.7" r="2.3"/><circle cx="197.3" cy="316.0" r="2.3"/><circle cx="180.5" cy="318.3" r="2.3"/><circle cx="189.0" cy="301.9" r="2.3"/><circle cx="200.3" cy="312.3" r="2.3"/><circle cx="184.4" cy="311.6" r="2.3"/><circle cx="199.3" cy="308.0" r="2.3"/><circle cx="193.9" cy="303.4" r="2.3"/><circle cx="181.3" cy="306.8" r="2.3"/><circle cx="191.7" cy="315.8" r="2.3"/><circle cx="185.1" cy="311.0" r="2.3"/><circle cx="191.9" cy="300.2" r="2.3"/><circle cx="192.1" cy="310.6" r="2.3"/><circle cx="202.1" cy="313.3" r="2.3"/><circle cx="184.0" cy="318.0" r="2.3"/><circle cx="204.4" cy="306.4" r="2.3"/><circle cx="201.4" cy="308.5" r="2.3"/><circle cx="183.9" cy="320.9" r="2.3"/><circle cx="193.9" cy="306.1" r="2.3"/><circle cx="190.1" cy="298.5" r="2.3"/><circle cx="198.7" cy="306.6" r="2.3"/><circle cx="192.9" cy="303.9" r="2.3"/><circle cx="186.5" cy="301.1" r="2.3"/><circle cx="174.2" cy="315.9" r="2.3"/><circle cx="198.0" cy="303.8" r="2.3"/><circle cx="200.8" cy="297.4" r="2.3"/><circle cx="183.4" cy="317.2" r="2.3"/><circle cx="185.6" cy="307.5" r="2.3"/><circle cx="191.3" cy="312.8" r="2.3"/><circle cx="199.4" cy="313.2" r="2.3"/><circle cx="198.4" cy="315.3" r="2.3"/><circle cx="183.6" cy="311.1" r="2.3"/><circle cx="194.4" cy="311.6" r="2.3"/><circle cx="205.1" cy="298.6" r="2.3"/><circle cx="194.4" cy="309.6" r="2.3"/><circle cx="196.1" cy="300.6" r="2.3"/><circle cx="189.7" cy="310.1" r="2.3"/><circle cx="180.4" cy="304.2" r="2.3"/><circle cx="181.5" cy="317.6" r="2.3"/><circle cx="194.8" cy="287.0" r="2.3"/><circle cx="198.5" cy="302.1" r="2.3"/><circle cx="197.3" cy="300.9" r="2.3"/><circle cx="208.3" cy="304.8" r="2.3"/><circle cx="201.6" cy="317.3" r="2.3"/><circle cx="199.8" cy="300.8" r="2.3"/><circle cx="199.1" cy="301.2" r="2.3"/><circle cx="181.2" cy="310.5" r="2.3"/><circle cx="190.0" cy="295.7" r="2.3"/><circle cx="193.7" cy="293.4" r="2.3"/><circle cx="187.8" cy="296.6" r="2.3"/><circle cx="195.2" cy="310.2" r="2.3"/><circle cx="194.0" cy="295.5" r="2.3"/><circle cx="191.2" cy="307.7" r="2.3"/><circle cx="199.5" cy="303.9" r="2.3"/><circle cx="193.4" cy="317.0" r="2.3"/><circle cx="204.4" cy="310.8" r="2.3"/><circle cx="184.2" cy="322.4" r="2.3"/><circle cx="199.6" cy="309.7" r="2.3"/><circle cx="197.5" cy="302.0" r="2.3"/><circle cx="188.4" cy="306.9" r="2.3"/><circle cx="184.5" cy="302.6" r="2.3"/><circle cx="183.2" cy="298.9" r="2.3"/><circle cx="193.0" cy="331.4" r="2.3"/><circle cx="189.9" cy="319.5" r="2.3"/><circle cx="196.2" cy="319.7" r="2.3"/><circle cx="194.1" cy="319.0" r="2.3"/><circle cx="198.1" cy="301.1" r="2.3"/><circle cx="187.8" cy="300.8" r="2.3"/><circle cx="198.9" cy="299.1" r="2.3"/><circle cx="181.2" cy="314.2" r="2.3"/><circle cx="194.7" cy="326.6" r="2.3"/><circle cx="191.2" cy="303.7" r="2.3"/><circle cx="198.3" cy="309.6" r="2.3"/><circle cx="187.6" cy="302.2" r="2.3"/><circle cx="179.7" cy="306.4" r="2.3"/><circle cx="198.5" cy="311.8" r="2.3"/><circle cx="195.8" cy="312.4" r="2.3"/><circle cx="194.9" cy="313.9" r="2.3"/><circle cx="187.3" cy="307.4" r="2.3"/><circle cx="192.9" cy="305.9" r="2.3"/><circle cx="197.2" cy="322.6" r="2.3"/><circle cx="186.8" cy="310.0" r="2.3"/><circle cx="194.0" cy="301.2" r="2.3"/><circle cx="189.5" cy="320.9" r="2.3"/><circle cx="188.4" cy="305.8" r="2.3"/><circle cx="191.0" cy="316.3" r="2.3"/><circle cx="193.3" cy="307.8" r="2.3"/><circle cx="185.7" cy="322.3" r="2.3"/><circle cx="193.6" cy="325.5" r="2.3"/><circle cx="197.3" cy="310.4" r="2.3"/><circle cx="188.3" cy="305.1" r="2.3"/><circle cx="188.3" cy="303.6" r="2.3"/><circle cx="190.8" cy="312.5" r="2.3"/><circle cx="195.2" cy="314.8" r="2.3"/><circle cx="205.1" cy="281.5" r="2.3"/><circle cx="199.7" cy="292.7" r="2.3"/><circle cx="196.1" cy="300.6" r="2.3"/><circle cx="178.2" cy="316.1" r="2.3"/><circle cx="191.4" cy="309.5" r="2.3"/><circle cx="202.7" cy="293.0" r="2.3"/><circle cx="189.5" cy="307.2" r="2.3"/><circle cx="213.0" cy="308.9" r="2.3"/><circle cx="183.8" cy="300.5" r="2.3"/><circle cx="193.7" cy="299.1" r="2.3"/><circle cx="193.4" cy="304.5" r="2.3"/><circle cx="199.2" cy="300.1" r="2.3"/><circle cx="186.6" cy="300.7" r="2.3"/><circle cx="193.2" cy="300.0" r="2.3"/><circle cx="192.3" cy="316.5" r="2.3"/><circle cx="193.8" cy="305.1" r="2.3"/><circle cx="203.2" cy="314.4" r="2.3"/><circle cx="197.3" cy="303.7" r="2.3"/><circle cx="184.6" cy="312.2" r="2.3"/><circle cx="192.8" cy="310.0" r="2.3"/><circle cx="197.3" cy="305.2" r="2.3"/><circle cx="195.2" cy="319.5" r="2.3"/><circle cx="194.2" cy="306.8" r="2.3"/><circle cx="178.1" cy="326.0" r="2.3"/><circle cx="196.7" cy="311.9" r="2.3"/><circle cx="195.7" cy="310.8" r="2.3"/><circle cx="196.1" cy="311.2" r="2.3"/><circle cx="186.8" cy="318.7" r="2.3"/><circle cx="191.5" cy="309.6" r="2.3"/><circle cx="193.8" cy="304.4" r="2.3"/><circle cx="200.6" cy="299.8" r="2.3"/><circle cx="196.1" cy="326.7" r="2.3"/><circle cx="182.6" cy="317.0" r="2.3"/><circle cx="183.2" cy="319.6" r="2.3"/><circle cx="203.0" cy="311.7" r="2.3"/><circle cx="201.0" cy="300.5" r="2.3"/><circle cx="190.7" cy="310.1" r="2.3"/><circle cx="197.9" cy="301.3" r="2.3"/><circle cx="200.0" cy="306.3" r="2.3"/><circle cx="180.5" cy="315.6" r="2.3"/><circle cx="192.5" cy="302.9" r="2.3"/><circle cx="190.4" cy="295.2" r="2.3"/><circle cx="191.0" cy="308.3" r="2.3"/><circle cx="195.2" cy="292.4" r="2.3"/><circle cx="183.9" cy="309.8" r="2.3"/><circle cx="204.6" cy="303.5" r="2.3"/><circle cx="178.8" cy="315.8" r="2.3"/><circle cx="199.3" cy="297.1" r="2.3"/><circle cx="195.2" cy="297.0" r="2.3"/><circle cx="197.2" cy="305.3" r="2.3"/><circle cx="189.0" cy="281.0" r="2.3"/><circle cx="202.5" cy="299.6" r="2.3"/><circle cx="183.5" cy="302.8" r="2.3"/><circle cx="194.7" cy="313.9" r="2.3"/><circle cx="191.5" cy="305.1" r="2.3"/><circle cx="197.8" cy="314.5" r="2.3"/><circle cx="195.0" cy="310.5" r="2.3"/><circle cx="190.5" cy="306.7" r="2.3"/><circle cx="197.1" cy="300.6" r="2.3"/><circle cx="192.2" cy="304.8" r="2.3"/><circle cx="192.0" cy="317.2" r="2.3"/><circle cx="180.6" cy="312.1" r="2.3"/><circle cx="187.2" cy="311.5" r="2.3"/><circle cx="190.5" cy="299.0" r="2.3"/><circle cx="192.9" cy="320.4" r="2.3"/><circle cx="188.6" cy="299.2" r="2.3"/><circle cx="189.9" cy="307.1" r="2.3"/><circle cx="178.5" cy="319.2" r="2.3"/><circle cx="197.4" cy="291.5" r="2.3"/><circle cx="193.2" cy="308.4" r="2.3"/><circle cx="201.5" cy="319.2" r="2.3"/><circle cx="190.6" cy="303.8" r="2.3"/><circle cx="200.0" cy="293.2" r="2.3"/><circle cx="188.1" cy="314.9" r="2.3"/><circle cx="188.6" cy="318.4" r="2.3"/><circle cx="189.1" cy="322.0" r="2.3"/><circle cx="192.6" cy="297.4" r="2.3"/><circle cx="188.1" cy="290.7" r="2.3"/><circle cx="196.4" cy="312.3" r="2.3"/><circle cx="185.4" cy="324.9" r="2.3"/><circle cx="187.1" cy="303.4" r="2.3"/><circle cx="191.2" cy="317.5" r="2.3"/><circle cx="198.4" cy="304.4" r="2.3"/><circle cx="180.1" cy="308.7" r="2.3"/><circle cx="190.7" cy="314.8" r="2.3"/><circle cx="191.5" cy="303.7" r="2.3"/><circle cx="195.0" cy="326.7" r="2.3"/><circle cx="179.7" cy="321.3" r="2.3"/><circle cx="199.9" cy="304.3" r="2.3"/><circle cx="192.7" cy="295.9" r="2.3"/><circle cx="209.2" cy="296.4" r="2.3"/><circle cx="191.4" cy="318.3" r="2.3"/><circle cx="189.4" cy="309.0" r="2.3"/><circle cx="197.3" cy="305.9" r="2.3"/><circle cx="201.9" cy="304.5" r="2.3"/><circle cx="189.3" cy="301.7" r="2.3"/><circle cx="187.2" cy="319.0" r="2.3"/><circle cx="188.2" cy="311.9" r="2.3"/><circle cx="203.4" cy="289.6" r="2.3"/><circle cx="203.3" cy="298.7" r="2.3"/><circle cx="187.5" cy="290.3" r="2.3"/><circle cx="193.8" cy="311.6" r="2.3"/><circle cx="185.3" cy="306.2" r="2.3"/><circle cx="181.2" cy="312.5" r="2.3"/><circle cx="189.7" cy="302.2" r="2.3"/><circle cx="198.6" cy="306.6" r="2.3"/><circle cx="197.9" cy="303.7" r="2.3"/><circle cx="180.5" cy="310.2" r="2.3"/><circle cx="194.4" cy="297.0" r="2.3"/><circle cx="196.3" cy="303.5" r="2.3"/><circle cx="203.3" cy="292.8" r="2.3"/><circle cx="189.0" cy="314.1" r="2.3"/><circle cx="197.4" cy="296.0" r="2.3"/><circle cx="197.5" cy="304.6" r="2.3"/><circle cx="196.9" cy="308.9" r="2.3"/><circle cx="202.1" cy="307.5" r="2.3"/><circle cx="194.8" cy="285.6" r="2.3"/><circle cx="182.3" cy="308.9" r="2.3"/><circle cx="183.1" cy="311.7" r="2.3"/><circle cx="187.0" cy="306.8" r="2.3"/><circle cx="195.0" cy="304.5" r="2.3"/><circle cx="190.7" cy="306.2" r="2.3"/><circle cx="185.0" cy="326.8" r="2.3"/><circle cx="201.1" cy="301.6" r="2.3"/><circle cx="196.5" cy="317.9" r="2.3"/><circle cx="181.0" cy="321.5" r="2.3"/><circle cx="195.2" cy="319.8" r="2.3"/><circle cx="193.9" cy="308.6" r="2.3"/><circle cx="199.7" cy="280.5" r="2.3"/><circle cx="176.3" cy="319.6" r="2.3"/><circle cx="196.0" cy="304.0" r="2.3"/><circle cx="199.6" cy="316.7" r="2.3"/><circle cx="198.9" cy="292.7" r="2.3"/><circle cx="182.1" cy="312.5" r="2.3"/><circle cx="203.2" cy="311.9" r="2.3"/><circle cx="190.9" cy="320.7" r="2.3"/><circle cx="200.9" cy="284.9" r="2.3"/><circle cx="189.4" cy="310.7" r="2.3"/><circle cx="210.0" cy="314.3" r="2.3"/><circle cx="187.8" cy="304.0" r="2.3"/><circle cx="189.9" cy="309.4" r="2.3"/><circle cx="193.1" cy="305.1" r="2.3"/><circle cx="191.1" cy="315.3" r="2.3"/><circle cx="195.9" cy="297.2" r="2.3"/><circle cx="188.2" cy="311.1" r="2.3"/><circle cx="192.9" cy="319.8" r="2.3"/><circle cx="197.7" cy="300.1" r="2.3"/><circle cx="194.3" cy="328.8" r="2.3"/><circle cx="197.7" cy="309.5" r="2.3"/><circle cx="186.7" cy="298.9" r="2.3"/><circle cx="191.9" cy="313.4" r="2.3"/><circle cx="190.6" cy="312.4" r="2.3"/><circle cx="188.5" cy="309.7" r="2.3"/><circle cx="195.5" cy="314.0" r="2.3"/><circle cx="197.3" cy="309.3" r="2.3"/><circle cx="194.3" cy="290.8" r="2.3"/><circle cx="197.3" cy="324.5" r="2.3"/><circle cx="191.0" cy="310.0" r="2.3"/><circle cx="199.0" cy="297.8" r="2.3"/><circle cx="181.5" cy="311.5" r="2.3"/><circle cx="193.3" cy="314.0" r="2.3"/><circle cx="184.6" cy="309.3" r="2.3"/><circle cx="182.2" cy="309.4" r="2.3"/><circle cx="188.1" cy="321.3" r="2.3"/><circle cx="204.1" cy="300.9" r="2.3"/><circle cx="184.8" cy="316.6" r="2.3"/><circle cx="179.2" cy="325.0" r="2.3"/><circle cx="198.0" cy="313.4" r="2.3"/><circle cx="206.0" cy="290.5" r="2.3"/><circle cx="192.6" cy="307.4" r="2.3"/><circle cx="198.1" cy="299.4" r="2.3"/><circle cx="190.9" cy="296.2" r="2.3"/><circle cx="187.2" cy="301.3" r="2.3"/><circle cx="179.6" cy="318.7" r="2.3"/><circle cx="193.4" cy="300.7" r="2.3"/><circle cx="196.9" cy="309.8" r="2.3"/><circle cx="188.0" cy="314.5" r="2.3"/><circle cx="194.0" cy="304.7" r="2.3"/><circle cx="193.5" cy="316.7" r="2.3"/><circle cx="182.8" cy="298.9" r="2.3"/><circle cx="190.4" cy="328.8" r="2.3"/><circle cx="193.5" cy="311.1" r="2.3"/><circle cx="188.7" cy="301.2" r="2.3"/><circle cx="192.4" cy="304.6" r="2.3"/><circle cx="186.5" cy="299.3" r="2.3"/><circle cx="196.8" cy="306.6" r="2.3"/><circle cx="194.3" cy="303.7" r="2.3"/><circle cx="198.6" cy="289.5" r="2.3"/><circle cx="186.1" cy="304.2" r="2.3"/><circle cx="200.8" cy="293.8" r="2.3"/><circle cx="198.1" cy="302.0" r="2.3"/><circle cx="197.5" cy="305.7" r="2.3"/><circle cx="185.2" cy="301.7" r="2.3"/><circle cx="191.0" cy="306.5" r="2.3"/><circle cx="187.7" cy="312.7" r="2.3"/><circle cx="198.7" cy="306.5" r="2.3"/><circle cx="192.7" cy="319.9" r="2.3"/><circle cx="191.4" cy="318.1" r="2.3"/><circle cx="194.7" cy="316.7" r="2.3"/><circle cx="191.4" cy="311.7" r="2.3"/><circle cx="205.5" cy="314.6" r="2.3"/><circle cx="191.1" cy="307.6" r="2.3"/><circle cx="193.6" cy="304.8" r="2.3"/><circle cx="185.3" cy="307.6" r="2.3"/><circle cx="201.1" cy="291.4" r="2.3"/><circle cx="199.5" cy="294.6" r="2.3"/><circle cx="198.5" cy="311.8" r="2.3"/><circle cx="188.7" cy="323.4" r="2.3"/><circle cx="187.8" cy="300.5" r="2.3"/><circle cx="195.5" cy="301.2" r="2.3"/><circle cx="200.1" cy="290.1" r="2.3"/><circle cx="196.2" cy="309.3" r="2.3"/><circle cx="194.2" cy="305.3" r="2.3"/><circle cx="192.5" cy="300.5" r="2.3"/><circle cx="199.4" cy="292.8" r="2.3"/><circle cx="188.0" cy="321.9" r="2.3"/><circle cx="185.7" cy="309.0" r="2.3"/><circle cx="183.2" cy="318.8" r="2.3"/><circle cx="190.3" cy="315.2" r="2.3"/><circle cx="201.6" cy="301.9" r="2.3"/><circle cx="193.4" cy="308.5" r="2.3"/><circle cx="190.8" cy="311.9" r="2.3"/><circle cx="196.4" cy="305.7" r="2.3"/><circle cx="194.3" cy="304.6" r="2.3"/><circle cx="186.5" cy="298.8" r="2.3"/><circle cx="192.1" cy="301.0" r="2.3"/><circle cx="199.1" cy="310.8" r="2.3"/><circle cx="199.1" cy="293.6" r="2.3"/><circle cx="194.3" cy="286.4" r="2.3"/><circle cx="181.6" cy="298.5" r="2.3"/><circle cx="199.8" cy="292.2" r="2.3"/><circle cx="191.6" cy="308.4" r="2.3"/><circle cx="207.4" cy="305.8" r="2.3"/><circle cx="188.2" cy="304.7" r="2.3"/><circle cx="190.1" cy="324.0" r="2.3"/><circle cx="200.5" cy="307.4" r="2.3"/><circle cx="195.6" cy="310.8" r="2.3"/><circle cx="185.9" cy="307.7" r="2.3"/><circle cx="190.0" cy="316.8" r="2.3"/><circle cx="191.7" cy="297.5" r="2.3"/><circle cx="187.1" cy="315.5" r="2.3"/><circle cx="196.0" cy="309.9" r="2.3"/><circle cx="183.5" cy="305.7" r="2.3"/><circle cx="195.5" cy="315.7" r="2.3"/><circle cx="198.5" cy="319.2" r="2.3"/><circle cx="195.6" cy="312.9" r="2.3"/><circle cx="185.3" cy="321.2" r="2.3"/><circle cx="196.2" cy="327.0" r="2.3"/><circle cx="200.1" cy="318.9" r="2.3"/><circle cx="184.6" cy="313.5" r="2.3"/><circle cx="190.4" cy="318.6" r="2.3"/><circle cx="191.9" cy="312.0" r="2.3"/><circle cx="190.9" cy="321.1" r="2.3"/><circle cx="197.6" cy="303.0" r="2.3"/><circle cx="185.9" cy="312.7" r="2.3"/><circle cx="191.9" cy="303.4" r="2.3"/><circle cx="196.6" cy="303.5" r="2.3"/><circle cx="199.6" cy="321.1" r="2.3"/><circle cx="194.1" cy="320.7" r="2.3"/><circle cx="196.0" cy="321.0" r="2.3"/><circle cx="197.7" cy="306.3" r="2.3"/><circle cx="190.7" cy="310.5" r="2.3"/><circle cx="191.3" cy="302.9" r="2.3"/><circle cx="186.5" cy="302.9" r="2.3"/><circle cx="190.6" cy="312.5" r="2.3"/><circle cx="194.0" cy="309.7" r="2.3"/><circle cx="186.7" cy="313.0" r="2.3"/><circle cx="183.9" cy="303.5" r="2.3"/><circle cx="189.4" cy="284.3" r="2.3"/><circle cx="176.9" cy="317.3" r="2.3"/><circle cx="199.1" cy="315.4" r="2.3"/><circle cx="203.2" cy="307.7" r="2.3"/><circle cx="191.4" cy="326.2" r="2.3"/><circle cx="187.7" cy="330.1" r="2.3"/><circle cx="198.0" cy="302.8" r="2.3"/><circle cx="186.8" cy="301.2" r="2.3"/><circle cx="209.9" cy="302.1" r="2.3"/><circle cx="194.3" cy="303.3" r="2.3"/><circle cx="195.6" cy="302.6" r="2.3"/><circle cx="191.1" cy="305.1" r="2.3"/><circle cx="188.8" cy="294.4" r="2.3"/><circle cx="196.8" cy="302.3" r="2.3"/><circle cx="191.2" cy="328.6" r="2.3"/><circle cx="188.9" cy="325.1" r="2.3"/><circle cx="185.4" cy="304.4" r="2.3"/><circle cx="180.5" cy="303.4" r="2.3"/><circle cx="202.7" cy="309.2" r="2.3"/><circle cx="197.7" cy="313.6" r="2.3"/><circle cx="186.2" cy="301.8" r="2.3"/><circle cx="192.0" cy="303.2" r="2.3"/><circle cx="199.4" cy="323.2" r="2.3"/><circle cx="193.1" cy="301.0" r="2.3"/><circle cx="191.1" cy="306.2" r="2.3"/><circle cx="197.4" cy="297.6" r="2.3"/><circle cx="193.5" cy="312.3" r="2.3"/><circle cx="196.1" cy="297.5" r="2.3"/><circle cx="203.7" cy="295.2" r="2.3"/><circle cx="194.6" cy="298.8" r="2.3"/><circle cx="190.9" cy="303.1" r="2.3"/><circle cx="186.3" cy="295.1" r="2.3"/><circle cx="188.0" cy="324.0" r="2.3"/><circle cx="203.4" cy="315.3" r="2.3"/><circle cx="196.0" cy="308.7" r="2.3"/><circle cx="199.1" cy="311.2" r="2.3"/><circle cx="192.6" cy="313.4" r="2.3"/><circle cx="195.0" cy="306.7" r="2.3"/><circle cx="176.9" cy="313.8" r="2.3"/><circle cx="190.7" cy="306.3" r="2.3"/><circle cx="182.5" cy="301.3" r="2.3"/><circle cx="185.3" cy="312.8" r="2.3"/><circle cx="190.5" cy="305.2" r="2.3"/><circle cx="195.9" cy="292.8" r="2.3"/><circle cx="193.7" cy="290.2" r="2.3"/><circle cx="193.6" cy="305.6" r="2.3"/><circle cx="191.6" cy="308.5" r="2.3"/><circle cx="187.6" cy="328.0" r="2.3"/><circle cx="193.4" cy="296.3" r="2.3"/><circle cx="193.9" cy="302.2" r="2.3"/><circle cx="189.9" cy="301.2" r="2.3"/><circle cx="187.1" cy="322.8" r="2.3"/><circle cx="192.3" cy="304.9" r="2.3"/><circle cx="201.1" cy="309.6" r="2.3"/><circle cx="197.2" cy="315.1" r="2.3"/><circle cx="205.3" cy="281.9" r="2.3"/><circle cx="199.9" cy="322.0" r="2.3"/><circle cx="182.8" cy="304.8" r="2.3"/><circle cx="187.2" cy="312.2" r="2.3"/><circle cx="195.4" cy="291.4" r="2.3"/><circle cx="195.6" cy="320.3" r="2.3"/><circle cx="184.2" cy="312.3" r="2.3"/><circle cx="177.3" cy="327.7" r="2.3"/><circle cx="184.8" cy="304.5" r="2.3"/><circle cx="190.5" cy="320.9" r="2.3"/><circle cx="190.0" cy="316.4" r="2.3"/><circle cx="193.8" cy="308.2" r="2.3"/><circle cx="204.7" cy="294.2" r="2.3"/><circle cx="187.2" cy="315.5" r="2.3"/><circle cx="194.3" cy="309.0" r="2.3"/><circle cx="189.5" cy="323.1" r="2.3"/><circle cx="189.6" cy="307.7" r="2.3"/><circle cx="194.5" cy="294.0" r="2.3"/><circle cx="190.9" cy="308.5" r="2.3"/><circle cx="196.5" cy="310.8" r="2.3"/><circle cx="192.6" cy="312.9" r="2.3"/><circle cx="191.4" cy="314.6" r="2.3"/><circle cx="195.3" cy="309.3" r="2.3"/><circle cx="205.6" cy="296.2" r="2.3"/><circle cx="201.8" cy="299.1" r="2.3"/><circle cx="198.8" cy="311.1" r="2.3"/><circle cx="187.2" cy="306.7" r="2.3"/><circle cx="189.9" cy="318.3" r="2.3"/><circle cx="192.6" cy="309.8" r="2.3"/><circle cx="193.7" cy="319.1" r="2.3"/><circle cx="183.1" cy="307.1" r="2.3"/><circle cx="194.6" cy="305.3" r="2.3"/><circle cx="188.5" cy="325.1" r="2.3"/><circle cx="199.6" cy="310.5" r="2.3"/><circle cx="192.8" cy="307.5" r="2.3"/><circle cx="183.7" cy="306.6" r="2.3"/><circle cx="191.7" cy="317.9" r="2.3"/><circle cx="187.2" cy="303.6" r="2.3"/><circle cx="199.7" cy="313.6" r="2.3"/><circle cx="188.9" cy="300.6" r="2.3"/><circle cx="182.2" cy="308.7" r="2.3"/><circle cx="197.9" cy="288.3" r="2.3"/><circle cx="193.5" cy="302.0" r="2.3"/><circle cx="196.4" cy="304.6" r="2.3"/><circle cx="190.0" cy="305.4" r="2.3"/><circle cx="197.8" cy="306.1" r="2.3"/><circle cx="194.3" cy="319.0" r="2.3"/><circle cx="171.7" cy="307.3" r="2.3"/><circle cx="194.4" cy="299.2" r="2.3"/><circle cx="182.8" cy="306.8" r="2.3"/><circle cx="189.4" cy="321.7" r="2.3"/><circle cx="195.7" cy="303.6" r="2.3"/><circle cx="189.6" cy="303.9" r="2.3"/><circle cx="188.3" cy="312.0" r="2.3"/><circle cx="194.0" cy="294.9" r="2.3"/><circle cx="187.0" cy="305.2" r="2.3"/><circle cx="182.1" cy="317.2" r="2.3"/><circle cx="191.5" cy="326.0" r="2.3"/><circle cx="196.6" cy="300.8" r="2.3"/><circle cx="187.4" cy="318.6" r="2.3"/><circle cx="197.4" cy="298.5" r="2.3"/><circle cx="177.3" cy="322.7" r="2.3"/><circle cx="190.8" cy="313.6" r="2.3"/><circle cx="190.9" cy="306.8" r="2.3"/><circle cx="199.6" cy="308.3" r="2.3"/><circle cx="185.0" cy="311.7" r="2.3"/><circle cx="179.9" cy="319.4" r="2.3"/><circle cx="191.4" cy="314.9" r="2.3"/><circle cx="190.5" cy="320.0" r="2.3"/><circle cx="188.8" cy="317.9" r="2.3"/><circle cx="191.2" cy="318.0" r="2.3"/><circle cx="181.3" cy="325.9" r="2.3"/><circle cx="191.1" cy="320.2" r="2.3"/><circle cx="188.9" cy="309.1" r="2.3"/><circle cx="182.8" cy="309.4" r="2.3"/><circle cx="201.4" cy="298.5" r="2.3"/><circle cx="206.1" cy="298.5" r="2.3"/><circle cx="195.0" cy="307.0" r="2.3"/><circle cx="194.8" cy="310.4" r="2.3"/><circle cx="191.6" cy="305.6" r="2.3"/><circle cx="199.0" cy="310.1" r="2.3"/><circle cx="195.8" cy="321.6" r="2.3"/><circle cx="190.3" cy="311.6" r="2.3"/><circle cx="202.1" cy="295.6" r="2.3"/><circle cx="187.5" cy="315.3" r="2.3"/><circle cx="197.1" cy="318.8" r="2.3"/><circle cx="198.3" cy="312.0" r="2.3"/><circle cx="181.9" cy="307.6" r="2.3"/><circle cx="192.0" cy="303.8" r="2.3"/><circle cx="186.0" cy="311.5" r="2.3"/><circle cx="188.8" cy="302.9" r="2.3"/><circle cx="193.2" cy="308.7" r="2.3"/><circle cx="193.7" cy="319.1" r="2.3"/><circle cx="193.4" cy="310.8" r="2.3"/><circle cx="192.9" cy="310.0" r="2.3"/><circle cx="173.3" cy="316.8" r="2.3"/><circle cx="195.0" cy="308.0" r="2.3"/><circle cx="182.6" cy="316.2" r="2.3"/><circle cx="196.3" cy="313.8" r="2.3"/><circle cx="183.5" cy="300.7" r="2.3"/><circle cx="187.2" cy="303.0" r="2.3"/><circle cx="185.6" cy="312.6" r="2.3"/><circle cx="187.3" cy="324.7" r="2.3"/><circle cx="192.6" cy="300.7" r="2.3"/><circle cx="198.7" cy="300.2" r="2.3"/><circle cx="186.3" cy="321.4" r="2.3"/><circle cx="184.2" cy="314.8" r="2.3"/><circle cx="204.5" cy="316.7" r="2.3"/><circle cx="204.5" cy="299.4" r="2.3"/><circle cx="178.0" cy="314.9" r="2.3"/><circle cx="192.2" cy="294.2" r="2.3"/><circle cx="186.9" cy="316.3" r="2.3"/><circle cx="197.2" cy="309.0" r="2.3"/><circle cx="193.5" cy="310.4" r="2.3"/><circle cx="200.1" cy="308.6" r="2.3"/><circle cx="204.8" cy="305.8" r="2.3"/><circle cx="189.4" cy="304.1" r="2.3"/><circle cx="192.9" cy="315.5" r="2.3"/><circle cx="200.8" cy="292.1" r="2.3"/><circle cx="192.7" cy="295.2" r="2.3"/><circle cx="185.1" cy="313.7" r="2.3"/><circle cx="189.3" cy="311.1" r="2.3"/><circle cx="185.4" cy="325.4" r="2.3"/><circle cx="190.6" cy="296.1" r="2.3"/><circle cx="196.5" cy="301.2" r="2.3"/><circle cx="198.1" cy="310.9" r="2.3"/><circle cx="192.8" cy="310.5" r="2.3"/><circle cx="190.8" cy="311.3" r="2.3"/><circle cx="196.0" cy="313.0" r="2.3"/><circle cx="186.9" cy="314.3" r="2.3"/><circle cx="194.3" cy="291.5" r="2.3"/><circle cx="177.7" cy="305.6" r="2.3"/><circle cx="196.8" cy="305.6" r="2.3"/><circle cx="188.3" cy="301.3" r="2.3"/><circle cx="194.3" cy="327.1" r="2.3"/><circle cx="200.9" cy="309.4" r="2.3"/><circle cx="181.8" cy="317.5" r="2.3"/><circle cx="178.0" cy="329.9" r="2.3"/><circle cx="187.4" cy="303.9" r="2.3"/><circle cx="185.0" cy="306.4" r="2.3"/><circle cx="198.7" cy="311.0" r="2.3"/><circle cx="190.4" cy="309.9" r="2.3"/><circle cx="182.2" cy="320.1" r="2.3"/><circle cx="187.5" cy="316.4" r="2.3"/><circle cx="192.0" cy="310.5" r="2.3"/><circle cx="191.9" cy="309.6" r="2.3"/><circle cx="192.1" cy="300.5" r="2.3"/><circle cx="190.5" cy="312.2" r="2.3"/><circle cx="192.7" cy="296.8" r="2.3"/><circle cx="194.7" cy="302.4" r="2.3"/><circle cx="192.5" cy="310.3" r="2.3"/><circle cx="195.0" cy="302.8" r="2.3"/><circle cx="181.2" cy="290.1" r="2.3"/><circle cx="183.5" cy="304.3" r="2.3"/><circle cx="189.1" cy="297.5" r="2.3"/><circle cx="183.6" cy="311.2" r="2.3"/><circle cx="188.9" cy="309.7" r="2.3"/><circle cx="188.0" cy="294.1" r="2.3"/><circle cx="193.1" cy="313.2" r="2.3"/><circle cx="200.1" cy="319.2" r="2.3"/><circle cx="193.2" cy="311.3" r="2.3"/><circle cx="193.6" cy="307.4" r="2.3"/><circle cx="188.8" cy="303.2" r="2.3"/><circle cx="175.2" cy="321.4" r="2.3"/><circle cx="194.1" cy="311.4" r="2.3"/><circle cx="186.6" cy="307.3" r="2.3"/><circle cx="190.6" cy="305.5" r="2.3"/><circle cx="196.0" cy="298.7" r="2.3"/><circle cx="190.8" cy="303.3" r="2.3"/><circle cx="184.2" cy="311.7" r="2.3"/><circle cx="187.5" cy="310.5" r="2.3"/><circle cx="191.4" cy="311.9" r="2.3"/><circle cx="186.2" cy="307.9" r="2.3"/><circle cx="190.4" cy="299.3" r="2.3"/><circle cx="196.1" cy="311.2" r="2.3"/><circle cx="185.9" cy="316.2" r="2.3"/><circle cx="183.1" cy="305.1" r="2.3"/><circle cx="195.4" cy="286.7" r="2.3"/><circle cx="186.1" cy="298.7" r="2.3"/><circle cx="201.6" cy="293.6" r="2.3"/><circle cx="185.9" cy="297.1" r="2.3"/><circle cx="185.4" cy="328.4" r="2.3"/><circle cx="197.4" cy="306.6" r="2.3"/><circle cx="204.0" cy="304.8" r="2.3"/><circle cx="190.5" cy="291.5" r="2.3"/><circle cx="188.7" cy="304.9" r="2.3"/><circle cx="178.6" cy="316.4" r="2.3"/><circle cx="196.3" cy="301.9" r="2.3"/><circle cx="196.1" cy="314.9" r="2.3"/><circle cx="203.6" cy="315.6" r="2.3"/><circle cx="195.1" cy="304.0" r="2.3"/><circle cx="187.7" cy="314.4" r="2.3"/><circle cx="190.9" cy="304.1" r="2.3"/><circle cx="188.4" cy="299.5" r="2.3"/><circle cx="185.7" cy="299.3" r="2.3"/><circle cx="182.2" cy="307.3" r="2.3"/><circle cx="194.7" cy="329.3" r="2.3"/><circle cx="187.4" cy="316.7" r="2.3"/><circle cx="201.3" cy="305.2" r="2.3"/><circle cx="194.9" cy="310.4" r="2.3"/><circle cx="200.9" cy="303.6" r="2.3"/><circle cx="195.8" cy="300.8" r="2.3"/><circle cx="194.8" cy="291.0" r="2.3"/><circle cx="188.1" cy="310.8" r="2.3"/><circle cx="198.4" cy="305.4" r="2.3"/><circle cx="199.6" cy="309.6" r="2.3"/><circle cx="204.0" cy="287.7" r="2.3"/><circle cx="182.0" cy="308.4" r="2.3"/><circle cx="201.8" cy="298.1" r="2.3"/><circle cx="192.5" cy="296.8" r="2.3"/><circle cx="188.5" cy="311.9" r="2.3"/><circle cx="185.9" cy="309.6" r="2.3"/><circle cx="197.4" cy="312.4" r="2.3"/><circle cx="179.0" cy="305.3" r="2.3"/><circle cx="190.5" cy="313.2" r="2.3"/><circle cx="203.3" cy="302.7" r="2.3"/><circle cx="208.9" cy="296.5" r="2.3"/><circle cx="203.4" cy="305.4" r="2.3"/><circle cx="185.1" cy="304.1" r="2.3"/><circle cx="193.9" cy="309.0" r="2.3"/><circle cx="196.4" cy="314.5" r="2.3"/><circle cx="198.2" cy="300.7" r="2.3"/><circle cx="188.3" cy="313.2" r="2.3"/><circle cx="190.3" cy="297.1" r="2.3"/><circle cx="194.2" cy="315.7" r="2.3"/><circle cx="187.8" cy="297.2" r="2.3"/><circle cx="179.4" cy="314.7" r="2.3"/><circle cx="187.3" cy="307.0" r="2.3"/><circle cx="199.2" cy="292.4" r="2.3"/><circle cx="201.1" cy="309.0" r="2.3"/><circle cx="183.5" cy="326.7" r="2.3"/><circle cx="194.7" cy="318.6" r="2.3"/><circle cx="189.4" cy="300.9" r="2.3"/><circle cx="184.8" cy="320.5" r="2.3"/><circle cx="190.8" cy="306.5" r="2.3"/><circle cx="189.5" cy="304.9" r="2.3"/><circle cx="196.8" cy="316.7" r="2.3"/><circle cx="186.0" cy="301.1" r="2.3"/><circle cx="183.9" cy="304.5" r="2.3"/><circle cx="201.5" cy="304.6" r="2.3"/><circle cx="186.4" cy="328.4" r="2.3"/><circle cx="200.4" cy="299.9" r="2.3"/><circle cx="196.3" cy="286.3" r="2.3"/><circle cx="191.3" cy="322.3" r="2.3"/><circle cx="187.9" cy="291.7" r="2.3"/><circle cx="189.1" cy="314.7" r="2.3"/><circle cx="196.7" cy="303.2" r="2.3"/><circle cx="183.7" cy="298.1" r="2.3"/><circle cx="186.0" cy="313.0" r="2.3"/><circle cx="188.4" cy="295.7" r="2.3"/><circle cx="187.0" cy="307.8" r="2.3"/><circle cx="188.7" cy="312.2" r="2.3"/><circle cx="186.5" cy="315.9" r="2.3"/><circle cx="183.7" cy="297.3" r="2.3"/><circle cx="200.2" cy="299.5" r="2.3"/><circle cx="174.8" cy="331.1" r="2.3"/><circle cx="197.9" cy="299.1" r="2.3"/><circle cx="187.0" cy="310.0" r="2.3"/><circle cx="183.1" cy="304.5" r="2.3"/><circle cx="198.4" cy="306.8" r="2.3"/><circle cx="185.8" cy="321.2" r="2.3"/><circle cx="195.8" cy="306.2" r="2.3"/><circle cx="191.3" cy="318.1" r="2.3"/><circle cx="197.0" cy="301.7" r="2.3"/><circle cx="185.1" cy="314.2" r="2.3"/><circle cx="199.9" cy="297.0" r="2.3"/><circle cx="196.5" cy="312.7" r="2.3"/><circle cx="188.5" cy="306.7" r="2.3"/><circle cx="188.2" cy="301.3" r="2.3"/><circle cx="192.5" cy="298.0" r="2.3"/><circle cx="200.3" cy="305.7" r="2.3"/><circle cx="196.4" cy="296.7" r="2.3"/><circle cx="202.7" cy="305.6" r="2.3"/><circle cx="189.4" cy="308.9" r="2.3"/><circle cx="189.9" cy="314.7" r="2.3"/><circle cx="202.6" cy="306.7" r="2.3"/><circle cx="199.6" cy="317.5" r="2.3"/><circle cx="192.7" cy="319.2" r="2.3"/><circle cx="185.9" cy="306.2" r="2.3"/><circle cx="190.3" cy="313.8" r="2.3"/><circle cx="190.0" cy="313.3" r="2.3"/><circle cx="189.2" cy="299.3" r="2.3"/><circle cx="197.2" cy="316.4" r="2.3"/><circle cx="195.9" cy="306.0" r="2.3"/><circle cx="183.0" cy="317.6" r="2.3"/><circle cx="187.4" cy="302.1" r="2.3"/><circle cx="189.8" cy="318.3" r="2.3"/><circle cx="184.8" cy="299.8" r="2.3"/><circle cx="198.6" cy="308.2" r="2.3"/><circle cx="191.1" cy="304.0" r="2.3"/><circle cx="183.3" cy="310.4" r="2.3"/><circle cx="195.6" cy="309.3" r="2.3"/><circle cx="190.5" cy="299.0" r="2.3"/><circle cx="191.0" cy="309.5" r="2.3"/><circle cx="194.4" cy="306.0" r="2.3"/><circle cx="186.5" cy="307.4" r="2.3"/><circle cx="197.2" cy="302.8" r="2.3"/><circle cx="196.1" cy="320.3" r="2.3"/><circle cx="201.4" cy="302.7" r="2.3"/><circle cx="189.6" cy="314.1" r="2.3"/><circle cx="195.4" cy="313.7" r="2.3"/><circle cx="180.4" cy="320.7" r="2.3"/><circle cx="189.6" cy="312.5" r="2.3"/><circle cx="199.5" cy="308.4" r="2.3"/><circle cx="184.0" cy="312.4" r="2.3"/><circle cx="194.7" cy="305.7" r="2.3"/><circle cx="202.1" cy="297.3" r="2.3"/><circle cx="193.6" cy="307.4" r="2.3"/><circle cx="201.3" cy="314.6" r="2.3"/><circle cx="190.3" cy="307.2" r="2.3"/><circle cx="183.6" cy="321.6" r="2.3"/><circle cx="186.5" cy="300.0" r="2.3"/><circle cx="190.2" cy="317.6" r="2.3"/><circle cx="191.7" cy="312.1" r="2.3"/><circle cx="188.5" cy="304.8" r="2.3"/><circle cx="197.5" cy="301.9" r="2.3"/><circle cx="201.1" cy="312.4" r="2.3"/><circle cx="192.4" cy="300.0" r="2.3"/><circle cx="203.6" cy="301.9" r="2.3"/><circle cx="201.0" cy="298.8" r="2.3"/><circle cx="186.7" cy="319.8" r="2.3"/><circle cx="178.1" cy="309.2" r="2.3"/><circle cx="184.6" cy="300.7" r="2.3"/><circle cx="191.9" cy="309.2" r="2.3"/><circle cx="200.3" cy="303.2" r="2.3"/><circle cx="188.3" cy="309.6" r="2.3"/><circle cx="186.1" cy="300.0" r="2.3"/><circle cx="204.8" cy="310.8" r="2.3"/><circle cx="197.2" cy="302.5" r="2.3"/><circle cx="198.8" cy="304.8" r="2.3"/><circle cx="189.6" cy="311.0" r="2.3"/><circle cx="195.7" cy="291.2" r="2.3"/><circle cx="187.0" cy="317.5" r="2.3"/><circle cx="187.6" cy="312.1" r="2.3"/><circle cx="201.2" cy="292.6" r="2.3"/><circle cx="188.1" cy="309.2" r="2.3"/><circle cx="195.3" cy="305.2" r="2.3"/><circle cx="196.4" cy="303.4" r="2.3"/><circle cx="180.1" cy="300.8" r="2.3"/><circle cx="189.6" cy="305.2" r="2.3"/><circle cx="197.6" cy="301.4" r="2.3"/><circle cx="197.1" cy="304.7" r="2.3"/><circle cx="189.5" cy="317.5" r="2.3"/><circle cx="193.7" cy="292.8" r="2.3"/><circle cx="187.9" cy="315.0" r="2.3"/><circle cx="194.7" cy="300.6" r="2.3"/><circle cx="192.2" cy="312.7" r="2.3"/><circle cx="185.7" cy="311.5" r="2.3"/><circle cx="192.0" cy="304.8" r="2.3"/><circle cx="180.9" cy="302.9" r="2.3"/><circle cx="185.8" cy="302.8" r="2.3"/><circle cx="196.3" cy="323.2" r="2.3"/><circle cx="191.2" cy="324.1" r="2.3"/><circle cx="199.4" cy="305.7" r="2.3"/><circle cx="196.5" cy="307.4" r="2.3"/><circle cx="192.3" cy="298.7" r="2.3"/><circle cx="200.7" cy="315.7" r="2.3"/><circle cx="205.0" cy="312.6" r="2.3"/><circle cx="175.9" cy="328.7" r="2.3"/><circle cx="187.3" cy="305.5" r="2.3"/><circle cx="190.0" cy="305.4" r="2.3"/><circle cx="198.0" cy="309.4" r="2.3"/><circle cx="190.7" cy="316.5" r="2.3"/><circle cx="193.1" cy="308.1" r="2.3"/><circle cx="195.2" cy="310.2" r="2.3"/><circle cx="195.2" cy="309.0" r="2.3"/><circle cx="201.4" cy="298.3" r="2.3"/><circle cx="187.5" cy="323.3" r="2.3"/><circle cx="204.8" cy="298.6" r="2.3"/><circle cx="177.0" cy="298.4" r="2.3"/><circle cx="196.6" cy="307.3" r="2.3"/><circle cx="198.0" cy="313.9" r="2.3"/><circle cx="191.0" cy="313.5" r="2.3"/><circle cx="193.1" cy="288.3" r="2.3"/><circle cx="195.6" cy="310.9" r="2.3"/><circle cx="192.6" cy="297.6" r="2.3"/><circle cx="180.3" cy="307.7" r="2.3"/><circle cx="197.9" cy="290.6" r="2.3"/><circle cx="188.9" cy="309.0" r="2.3"/><circle cx="200.5" cy="288.1" r="2.3"/><circle cx="200.7" cy="297.9" r="2.3"/><circle cx="194.3" cy="307.6" r="2.3"/><circle cx="187.3" cy="312.2" r="2.3"/><circle cx="196.5" cy="317.8" r="2.3"/><circle cx="198.5" cy="314.2" r="2.3"/><circle cx="199.7" cy="304.5" r="2.3"/><circle cx="186.1" cy="308.0" r="2.3"/><circle cx="189.8" cy="306.0" r="2.3"/><circle cx="194.9" cy="303.3" r="2.3"/><circle cx="187.1" cy="316.3" r="2.3"/><circle cx="183.9" cy="305.7" r="2.3"/><circle cx="198.5" cy="311.4" r="2.3"/><circle cx="192.3" cy="315.9" r="2.3"/><circle cx="188.9" cy="301.2" r="2.3"/><circle cx="185.4" cy="304.1" r="2.3"/><circle cx="202.0" cy="299.3" r="2.3"/><circle cx="205.6" cy="303.9" r="2.3"/><circle cx="199.8" cy="296.5" r="2.3"/><circle cx="197.5" cy="298.2" r="2.3"/><circle cx="196.3" cy="299.0" r="2.3"/><circle cx="190.5" cy="305.5" r="2.3"/><circle cx="199.1" cy="315.6" r="2.3"/><circle cx="199.4" cy="304.7" r="2.3"/><circle cx="192.0" cy="308.5" r="2.3"/><circle cx="172.9" cy="322.0" r="2.3"/><circle cx="184.8" cy="298.0" r="2.3"/><circle cx="192.3" cy="304.7" r="2.3"/><circle cx="181.2" cy="341.5" r="2.3"/><circle cx="193.5" cy="326.3" r="2.3"/><circle cx="196.7" cy="305.1" r="2.3"/><circle cx="187.7" cy="322.7" r="2.3"/><circle cx="194.5" cy="310.8" r="2.3"/><circle cx="193.2" cy="293.1" r="2.3"/><circle cx="194.3" cy="312.0" r="2.3"/><circle cx="193.9" cy="299.2" r="2.3"/><circle cx="192.1" cy="306.5" r="2.3"/><circle cx="190.7" cy="314.1" r="2.3"/><circle cx="184.0" cy="306.2" r="2.3"/><circle cx="197.9" cy="299.5" r="2.3"/><circle cx="199.5" cy="294.7" r="2.3"/><circle cx="190.2" cy="300.3" r="2.3"/><circle cx="186.5" cy="311.9" r="2.3"/><circle cx="191.7" cy="298.9" r="2.3"/><circle cx="207.5" cy="314.4" r="2.3"/><circle cx="199.7" cy="289.5" r="2.3"/>
</g>
<g fill="#5f5f5f" stroke="#151515" stroke-width="0.9">
<circle cx="164.7" cy="350.3" r="2.2"/><circle cx="135.5" cy="363.3" r="2.2"/><circle cx="172.2" cy="352.4" r="2.2"/><circle cx="138.3" cy="377.0" r="2.2"/><circle cx="168.4" cy="327.2" r="2.2"/><circle cx="165.2" cy="356.2" r="2.2"/><circle cx="164.1" cy="315.2" r="2.2"/><circle cx="171.8" cy="329.8" r="2.2"/><circle cx="162.4" cy="340.6" r="2.2"/><circle cx="143.0" cy="366.4" r="2.2"/><circle cx="145.9" cy="368.2" r="2.2"/><circle cx="170.1" cy="343.6" r="2.2"/><circle cx="135.6" cy="349.5" r="2.2"/><circle cx="156.7" cy="339.7" r="2.2"/><circle cx="152.1" cy="350.8" r="2.2"/><circle cx="142.2" cy="344.1" r="2.2"/><circle cx="149.6" cy="364.3" r="2.2"/><circle cx="156.8" cy="332.3" r="2.2"/><circle cx="154.7" cy="345.4" r="2.2"/><circle cx="157.2" cy="358.1" r="2.2"/><circle cx="145.2" cy="344.5" r="2.2"/><circle cx="177.5" cy="343.4" r="2.2"/><circle cx="121.7" cy="375.5" r="2.2"/><circle cx="167.3" cy="345.4" r="2.2"/><circle cx="138.2" cy="359.2" r="2.2"/><circle cx="138.3" cy="342.3" r="2.2"/><circle cx="129.9" cy="366.8" r="2.2"/><circle cx="122.5" cy="386.2" r="2.2"/><circle cx="159.3" cy="346.5" r="2.2"/><circle cx="181.4" cy="333.1" r="2.2"/><circle cx="160.4" cy="357.9" r="2.2"/><circle cx="118.9" cy="389.6" r="2.2"/><circle cx="141.0" cy="353.7" r="2.2"/><circle cx="186.4" cy="337.2" r="2.2"/><circle cx="160.6" cy="339.9" r="2.2"/><circle cx="128.8" cy="369.3" r="2.2"/><circle cx="173.2" cy="321.2" r="2.2"/><circle cx="164.3" cy="351.5" r="2.2"/><circle cx="148.8" cy="335.5" r="2.2"/><circle cx="130.9" cy="396.5" r="2.2"/><circle cx="152.1" cy="338.2" r="2.2"/><circle cx="120.0" cy="361.5" r="2.2"/><circle cx="180.5" cy="349.3" r="2.2"/><circle cx="163.0" cy="331.4" r="2.2"/><circle cx="135.5" cy="364.5" r="2.2"/><circle cx="141.9" cy="358.0" r="2.2"/><circle cx="185.5" cy="321.2" r="2.2"/><circle cx="146.2" cy="362.0" r="2.2"/><circle cx="155.3" cy="369.4" r="2.2"/><circle cx="161.3" cy="335.7" r="2.2"/><circle cx="145.4" cy="348.5" r="2.2"/><circle cx="154.8" cy="357.5" r="2.2"/><circle cx="168.3" cy="345.3" r="2.2"/><circle cx="166.0" cy="340.4" r="2.2"/><circle cx="163.4" cy="335.6" r="2.2"/><circle cx="156.8" cy="342.6" r="2.2"/><circle cx="174.0" cy="324.1" r="2.2"/><circle cx="153.3" cy="346.8" r="2.2"/><circle cx="186.7" cy="329.2" r="2.2"/><circle cx="175.1" cy="368.0" r="2.2"/><circle cx="149.4" cy="342.3" r="2.2"/><circle cx="156.8" cy="319.2" r="2.2"/><circle cx="152.4" cy="373.5" r="2.2"/><circle cx="129.9" cy="388.5" r="2.2"/><circle cx="130.9" cy="370.6" r="2.2"/><circle cx="165.8" cy="316.2" r="2.2"/><circle cx="128.8" cy="367.3" r="2.2"/><circle cx="139.3" cy="343.4" r="2.2"/><circle cx="154.6" cy="347.4" r="2.2"/><circle cx="158.8" cy="334.2" r="2.2"/><circle cx="150.0" cy="345.1" r="2.2"/><circle cx="136.2" cy="376.7" r="2.2"/><circle cx="135.1" cy="350.0" r="2.2"/><circle cx="154.3" cy="336.1" r="2.2"/><circle cx="155.1" cy="329.0" r="2.2"/><circle cx="162.8" cy="343.0" r="2.2"/><circle cx="135.9" cy="351.9" r="2.2"/><circle cx="134.2" cy="389.8" r="2.2"/><circle cx="165.9" cy="325.8" r="2.2"/><circle cx="175.3" cy="365.7" r="2.2"/><circle cx="167.6" cy="347.7" r="2.2"/><circle cx="158.4" cy="329.1" r="2.2"/><circle cx="151.2" cy="358.5" r="2.2"/><circle cx="143.7" cy="357.1" r="2.2"/><circle cx="155.9" cy="318.4" r="2.2"/><circle cx="130.5" cy="366.1" r="2.2"/><circle cx="148.8" cy="354.1" r="2.2"/><circle cx="142.1" cy="354.9" r="2.2"/><circle cx="158.1" cy="336.5" r="2.2"/><circle cx="147.2" cy="331.4" r="2.2"/><circle cx="144.7" cy="355.1" r="2.2"/><circle cx="173.1" cy="348.8" r="2.2"/><circle cx="172.1" cy="329.2" r="2.2"/><circle cx="142.6" cy="339.4" r="2.2"/><circle cx="135.1" cy="360.9" r="2.2"/><circle cx="172.3" cy="331.8" r="2.2"/><circle cx="132.5" cy="363.5" r="2.2"/><circle cx="141.9" cy="360.2" r="2.2"/><circle cx="161.2" cy="328.0" r="2.2"/><circle cx="166.5" cy="358.9" r="2.2"/><circle cx="161.5" cy="353.3" r="2.2"/><circle cx="138.3" cy="355.3" r="2.2"/><circle cx="145.3" cy="361.9" r="2.2"/><circle cx="169.9" cy="321.6" r="2.2"/><circle cx="140.6" cy="369.2" r="2.2"/><circle cx="149.7" cy="348.5" r="2.2"/><circle cx="151.8" cy="359.5" r="2.2"/><circle cx="153.6" cy="358.5" r="2.2"/><circle cx="131.1" cy="376.9" r="2.2"/><circle cx="183.5" cy="335.6" r="2.2"/><circle cx="154.7" cy="382.4" r="2.2"/><circle cx="154.2" cy="323.7" r="2.2"/><circle cx="143.4" cy="362.2" r="2.2"/><circle cx="123.9" cy="365.2" r="2.2"/><circle cx="173.0" cy="321.7" r="2.2"/><circle cx="146.1" cy="354.5" r="2.2"/><circle cx="151.9" cy="338.4" r="2.2"/><circle cx="151.7" cy="337.8" r="2.2"/><circle cx="162.8" cy="357.0" r="2.2"/><circle cx="159.0" cy="320.5" r="2.2"/><circle cx="175.9" cy="336.8" r="2.2"/><circle cx="141.9" cy="358.8" r="2.2"/><circle cx="119.4" cy="346.4" r="2.2"/><circle cx="161.2" cy="337.0" r="2.2"/><circle cx="121.7" cy="393.2" r="2.2"/><circle cx="131.8" cy="364.2" r="2.2"/><circle cx="147.6" cy="354.3" r="2.2"/><circle cx="165.2" cy="326.2" r="2.2"/><circle cx="169.2" cy="343.1" r="2.2"/><circle cx="157.4" cy="358.7" r="2.2"/><circle cx="164.9" cy="328.1" r="2.2"/><circle cx="142.5" cy="388.2" r="2.2"/><circle cx="158.4" cy="356.3" r="2.2"/><circle cx="142.1" cy="351.0" r="2.2"/><circle cx="173.8" cy="333.2" r="2.2"/><circle cx="174.3" cy="337.3" r="2.2"/><circle cx="174.4" cy="341.0" r="2.2"/><circle cx="148.0" cy="352.1" r="2.2"/><circle cx="160.3" cy="345.6" r="2.2"/><circle cx="156.4" cy="341.7" r="2.2"/><circle cx="150.2" cy="355.1" r="2.2"/><circle cx="134.5" cy="339.7" r="2.2"/><circle cx="134.9" cy="378.3" r="2.2"/><circle cx="172.6" cy="357.6" r="2.2"/><circle cx="167.4" cy="328.6" r="2.2"/><circle cx="153.5" cy="347.8" r="2.2"/><circle cx="130.3" cy="373.9" r="2.2"/><circle cx="175.0" cy="348.7" r="2.2"/><circle cx="143.2" cy="341.3" r="2.2"/><circle cx="158.9" cy="341.7" r="2.2"/><circle cx="147.7" cy="355.8" r="2.2"/><circle cx="162.7" cy="363.4" r="2.2"/><circle cx="161.4" cy="329.9" r="2.2"/><circle cx="157.3" cy="344.3" r="2.2"/><circle cx="128.1" cy="356.2" r="2.2"/><circle cx="140.6" cy="371.0" r="2.2"/><circle cx="150.0" cy="373.3" r="2.2"/><circle cx="139.5" cy="363.0" r="2.2"/><circle cx="165.9" cy="348.1" r="2.2"/><circle cx="155.3" cy="338.6" r="2.2"/><circle cx="148.6" cy="372.4" r="2.2"/><circle cx="171.8" cy="327.4" r="2.2"/><circle cx="156.1" cy="348.5" r="2.2"/><circle cx="181.2" cy="314.2" r="2.2"/><circle cx="163.2" cy="344.6" r="2.2"/><circle cx="170.6" cy="340.5" r="2.2"/><circle cx="171.7" cy="326.3" r="2.2"/><circle cx="149.6" cy="362.6" r="2.2"/><circle cx="163.0" cy="333.5" r="2.2"/><circle cx="161.0" cy="343.1" r="2.2"/><circle cx="175.8" cy="358.4" r="2.2"/><circle cx="164.8" cy="335.0" r="2.2"/><circle cx="120.7" cy="364.8" r="2.2"/><circle cx="158.1" cy="337.0" r="2.2"/><circle cx="145.4" cy="347.7" r="2.2"/><circle cx="168.9" cy="321.0" r="2.2"/><circle cx="164.2" cy="342.5" r="2.2"/><circle cx="169.2" cy="351.1" r="2.2"/><circle cx="151.2" cy="337.0" r="2.2"/><circle cx="153.2" cy="330.3" r="2.2"/><circle cx="146.5" cy="346.9" r="2.2"/><circle cx="126.7" cy="373.8" r="2.2"/><circle cx="152.0" cy="343.0" r="2.2"/><circle cx="155.6" cy="345.7" r="2.2"/><circle cx="156.8" cy="339.1" r="2.2"/><circle cx="115.7" cy="394.5" r="2.2"/><circle cx="126.7" cy="375.5" r="2.2"/><circle cx="152.9" cy="364.6" r="2.2"/><circle cx="148.1" cy="365.2" r="2.2"/><circle cx="159.1" cy="331.3" r="2.2"/><circle cx="158.4" cy="347.5" r="2.2"/><circle cx="170.2" cy="368.1" r="2.2"/><circle cx="150.5" cy="349.4" r="2.2"/><circle cx="184.9" cy="347.6" r="2.2"/><circle cx="149.1" cy="321.0" r="2.2"/><circle cx="139.7" cy="352.7" r="2.2"/><circle cx="143.1" cy="349.3" r="2.2"/><circle cx="161.2" cy="357.3" r="2.2"/><circle cx="136.2" cy="372.8" r="2.2"/><circle cx="162.7" cy="336.1" r="2.2"/><circle cx="156.1" cy="357.6" r="2.2"/><circle cx="173.5" cy="320.4" r="2.2"/><circle cx="135.3" cy="358.8" r="2.2"/><circle cx="164.8" cy="323.7" r="2.2"/><circle cx="180.3" cy="332.1" r="2.2"/><circle cx="175.8" cy="356.7" r="2.2"/><circle cx="118.2" cy="391.5" r="2.2"/><circle cx="167.7" cy="341.3" r="2.2"/><circle cx="168.3" cy="322.0" r="2.2"/><circle cx="132.9" cy="345.6" r="2.2"/><circle cx="136.4" cy="341.4" r="2.2"/><circle cx="126.4" cy="376.5" r="2.2"/><circle cx="162.9" cy="317.5" r="2.2"/><circle cx="157.5" cy="342.0" r="2.2"/><circle cx="145.4" cy="353.2" r="2.2"/><circle cx="140.9" cy="348.9" r="2.2"/><circle cx="137.5" cy="368.1" r="2.2"/><circle cx="179.4" cy="324.0" r="2.2"/><circle cx="171.6" cy="337.9" r="2.2"/><circle cx="155.1" cy="345.6" r="2.2"/><circle cx="145.9" cy="367.5" r="2.2"/><circle cx="139.6" cy="351.5" r="2.2"/><circle cx="162.2" cy="342.5" r="2.2"/><circle cx="156.3" cy="319.6" r="2.2"/><circle cx="130.2" cy="356.2" r="2.2"/><circle cx="149.3" cy="373.6" r="2.2"/><circle cx="104.2" cy="390.5" r="2.2"/><circle cx="159.1" cy="347.4" r="2.2"/><circle cx="117.9" cy="368.7" r="2.2"/><circle cx="166.8" cy="322.5" r="2.2"/><circle cx="161.5" cy="338.3" r="2.2"/><circle cx="157.6" cy="331.2" r="2.2"/><circle cx="164.5" cy="343.2" r="2.2"/><circle cx="163.4" cy="329.8" r="2.2"/><circle cx="158.0" cy="335.5" r="2.2"/><circle cx="155.1" cy="347.9" r="2.2"/><circle cx="156.6" cy="337.2" r="2.2"/><circle cx="151.5" cy="366.6" r="2.2"/><circle cx="149.8" cy="342.8" r="2.2"/><circle cx="163.0" cy="355.9" r="2.2"/><circle cx="126.2" cy="370.8" r="2.2"/><circle cx="144.6" cy="350.6" r="2.2"/><circle cx="145.0" cy="346.1" r="2.2"/><circle cx="157.9" cy="351.3" r="2.2"/><circle cx="127.4" cy="329.1" r="2.2"/><circle cx="146.4" cy="359.9" r="2.2"/><circle cx="163.6" cy="332.3" r="2.2"/><circle cx="142.3" cy="373.8" r="2.2"/><circle cx="118.1" cy="367.2" r="2.2"/><circle cx="139.8" cy="372.1" r="2.2"/><circle cx="152.2" cy="332.4" r="2.2"/><circle cx="184.2" cy="325.0" r="2.2"/><circle cx="156.9" cy="337.9" r="2.2"/><circle cx="153.7" cy="353.1" r="2.2"/><circle cx="133.2" cy="356.9" r="2.2"/><circle cx="158.0" cy="346.4" r="2.2"/><circle cx="164.5" cy="348.0" r="2.2"/><circle cx="126.8" cy="372.7" r="2.2"/><circle cx="172.5" cy="343.4" r="2.2"/><circle cx="145.0" cy="373.6" r="2.2"/><circle cx="133.3" cy="359.4" r="2.2"/><circle cx="142.6" cy="347.9" r="2.2"/><circle cx="164.4" cy="340.3" r="2.2"/><circle cx="174.3" cy="336.5" r="2.2"/><circle cx="178.2" cy="312.4" r="2.2"/><circle cx="170.9" cy="315.0" r="2.2"/><circle cx="151.5" cy="359.2" r="2.2"/><circle cx="160.0" cy="341.9" r="2.2"/><circle cx="142.3" cy="347.5" r="2.2"/><circle cx="162.4" cy="323.4" r="2.2"/><circle cx="158.0" cy="342.3" r="2.2"/><circle cx="163.1" cy="347.9" r="2.2"/><circle cx="183.3" cy="325.7" r="2.2"/><circle cx="182.2" cy="321.3" r="2.2"/><circle cx="140.8" cy="351.4" r="2.2"/><circle cx="146.0" cy="346.7" r="2.2"/><circle cx="164.1" cy="328.7" r="2.2"/><circle cx="143.0" cy="336.8" r="2.2"/><circle cx="145.4" cy="361.8" r="2.2"/><circle cx="128.8" cy="383.7" r="2.2"/><circle cx="169.0" cy="334.0" r="2.2"/><circle cx="128.2" cy="346.5" r="2.2"/><circle cx="138.1" cy="399.9" r="2.2"/><circle cx="149.4" cy="347.0" r="2.2"/><circle cx="127.5" cy="371.6" r="2.2"/><circle cx="112.4" cy="359.0" r="2.2"/><circle cx="143.4" cy="339.9" r="2.2"/><circle cx="148.4" cy="367.8" r="2.2"/><circle cx="133.2" cy="363.6" r="2.2"/><circle cx="137.8" cy="372.2" r="2.2"/><circle cx="134.6" cy="369.3" r="2.2"/><circle cx="151.5" cy="345.8" r="2.2"/><circle cx="167.6" cy="337.1" r="2.2"/><circle cx="154.4" cy="335.1" r="2.2"/><circle cx="140.0" cy="336.4" r="2.2"/><circle cx="138.3" cy="348.3" r="2.2"/><circle cx="158.0" cy="337.4" r="2.2"/><circle cx="167.5" cy="361.1" r="2.2"/><circle cx="130.9" cy="356.6" r="2.2"/><circle cx="139.1" cy="346.5" r="2.2"/><circle cx="120.3" cy="390.9" r="2.2"/><circle cx="124.6" cy="390.2" r="2.2"/><circle cx="164.3" cy="322.3" r="2.2"/><circle cx="167.5" cy="342.5" r="2.2"/><circle cx="165.5" cy="318.4" r="2.2"/><circle cx="178.5" cy="333.3" r="2.2"/><circle cx="151.9" cy="363.6" r="2.2"/><circle cx="167.1" cy="329.3" r="2.2"/><circle cx="179.8" cy="337.9" r="2.2"/><circle cx="156.5" cy="342.6" r="2.2"/><circle cx="136.4" cy="358.8" r="2.2"/><circle cx="168.4" cy="349.6" r="2.2"/><circle cx="150.4" cy="335.0" r="2.2"/><circle cx="143.5" cy="368.0" r="2.2"/><circle cx="141.1" cy="352.6" r="2.2"/><circle cx="144.1" cy="354.5" r="2.2"/><circle cx="142.2" cy="367.9" r="2.2"/><circle cx="171.7" cy="332.4" r="2.2"/><circle cx="163.1" cy="362.6" r="2.2"/><circle cx="167.5" cy="340.4" r="2.2"/><circle cx="143.5" cy="371.4" r="2.2"/><circle cx="127.2" cy="351.8" r="2.2"/><circle cx="159.8" cy="321.8" r="2.2"/><circle cx="143.7" cy="380.9" r="2.2"/><circle cx="163.4" cy="320.9" r="2.2"/><circle cx="133.4" cy="367.5" r="2.2"/><circle cx="152.5" cy="353.7" r="2.2"/><circle cx="161.7" cy="328.5" r="2.2"/><circle cx="162.7" cy="321.8" r="2.2"/><circle cx="161.6" cy="345.6" r="2.2"/><circle cx="155.1" cy="348.8" r="2.2"/><circle cx="161.7" cy="333.4" r="2.2"/><circle cx="152.1" cy="364.2" r="2.2"/><circle cx="171.8" cy="320.6" r="2.2"/><circle cx="153.2" cy="347.9" r="2.2"/><circle cx="157.9" cy="351.9" r="2.2"/><circle cx="187.0" cy="318.6" r="2.2"/><circle cx="145.4" cy="351.2" r="2.2"/><circle cx="164.2" cy="318.6" r="2.2"/><circle cx="168.4" cy="341.7" r="2.2"/><circle cx="149.9" cy="338.4" r="2.2"/><circle cx="137.7" cy="363.0" r="2.2"/><circle cx="155.0" cy="334.7" r="2.2"/><circle cx="121.3" cy="367.0" r="2.2"/><circle cx="138.4" cy="379.8" r="2.2"/><circle cx="137.4" cy="368.5" r="2.2"/><circle cx="137.6" cy="375.7" r="2.2"/><circle cx="154.3" cy="359.6" r="2.2"/><circle cx="144.7" cy="324.3" r="2.2"/><circle cx="135.3" cy="353.3" r="2.2"/><circle cx="152.2" cy="376.7" r="2.2"/><circle cx="145.5" cy="349.1" r="2.2"/><circle cx="160.6" cy="346.5" r="2.2"/><circle cx="166.6" cy="311.2" r="2.2"/><circle cx="141.8" cy="359.4" r="2.2"/><circle cx="148.6" cy="355.1" r="2.2"/><circle cx="170.7" cy="322.6" r="2.2"/><circle cx="147.9" cy="346.8" r="2.2"/><circle cx="141.5" cy="360.6" r="2.2"/><circle cx="155.9" cy="346.9" r="2.2"/><circle cx="141.9" cy="362.8" r="2.2"/><circle cx="137.2" cy="358.0" r="2.2"/><circle cx="183.5" cy="327.6" r="2.2"/><circle cx="157.0" cy="341.9" r="2.2"/><circle cx="146.2" cy="357.1" r="2.2"/><circle cx="142.7" cy="367.5" r="2.2"/><circle cx="125.6" cy="368.7" r="2.2"/><circle cx="156.4" cy="348.6" r="2.2"/><circle cx="148.6" cy="366.1" r="2.2"/><circle cx="129.9" cy="366.5" r="2.2"/><circle cx="131.1" cy="381.6" r="2.2"/><circle cx="166.0" cy="329.9" r="2.2"/><circle cx="154.9" cy="338.1" r="2.2"/><circle cx="180.9" cy="338.3" r="2.2"/><circle cx="136.7" cy="359.6" r="2.2"/><circle cx="178.2" cy="327.9" r="2.2"/><circle cx="136.9" cy="370.9" r="2.2"/><circle cx="139.4" cy="365.4" r="2.2"/><circle cx="138.7" cy="351.2" r="2.2"/><circle cx="148.4" cy="323.5" r="2.2"/><circle cx="139.9" cy="360.1" r="2.2"/><circle cx="177.4" cy="324.4" r="2.2"/><circle cx="160.1" cy="346.3" r="2.2"/><circle cx="148.8" cy="341.3" r="2.2"/><circle cx="126.4" cy="353.5" r="2.2"/><circle cx="145.5" cy="350.4" r="2.2"/><circle cx="153.0" cy="356.2" r="2.2"/><circle cx="156.8" cy="337.5" r="2.2"/><circle cx="150.3" cy="345.9" r="2.2"/><circle cx="154.2" cy="344.7" r="2.2"/><circle cx="147.6" cy="365.6" r="2.2"/><circle cx="175.4" cy="360.5" r="2.2"/><circle cx="141.4" cy="370.0" r="2.2"/><circle cx="132.9" cy="368.2" r="2.2"/><circle cx="172.7" cy="358.5" r="2.2"/><circle cx="135.6" cy="368.2" r="2.2"/><circle cx="166.0" cy="360.9" r="2.2"/><circle cx="123.8" cy="350.3" r="2.2"/><circle cx="128.7" cy="373.7" r="2.2"/><circle cx="170.3" cy="345.0" r="2.2"/><circle cx="144.9" cy="343.7" r="2.2"/><circle cx="161.3" cy="349.3" r="2.2"/><circle cx="144.9" cy="347.6" r="2.2"/><circle cx="176.4" cy="317.4" r="2.2"/><circle cx="164.5" cy="351.9" r="2.2"/><circle cx="150.9" cy="338.5" r="2.2"/><circle cx="174.9" cy="341.5" r="2.2"/><circle cx="144.7" cy="335.2" r="2.2"/><circle cx="175.0" cy="318.6" r="2.2"/><circle cx="139.9" cy="379.8" r="2.2"/><circle cx="160.3" cy="367.3" r="2.2"/><circle cx="111.5" cy="371.7" r="2.2"/><circle cx="153.9" cy="321.9" r="2.2"/><circle cx="179.9" cy="334.0" r="2.2"/><circle cx="135.1" cy="342.0" r="2.2"/><circle cx="176.0" cy="315.5" r="2.2"/><circle cx="150.9" cy="353.0" r="2.2"/><circle cx="163.7" cy="335.0" r="2.2"/><circle cx="159.6" cy="342.9" r="2.2"/><circle cx="137.3" cy="342.8" r="2.2"/><circle cx="150.6" cy="347.2" r="2.2"/><circle cx="139.5" cy="393.6" r="2.2"/><circle cx="126.4" cy="345.5" r="2.2"/><circle cx="164.7" cy="317.8" r="2.2"/><circle cx="146.6" cy="372.5" r="2.2"/><circle cx="175.3" cy="325.0" r="2.2"/><circle cx="158.5" cy="354.8" r="2.2"/><circle cx="170.7" cy="324.0" r="2.2"/><circle cx="161.7" cy="329.5" r="2.2"/><circle cx="131.0" cy="370.0" r="2.2"/><circle cx="165.6" cy="340.9" r="2.2"/><circle cx="168.5" cy="340.6" r="2.2"/><circle cx="154.1" cy="331.5" r="2.2"/><circle cx="158.0" cy="342.2" r="2.2"/><circle cx="113.1" cy="359.4" r="2.2"/><circle cx="176.6" cy="330.8" r="2.2"/><circle cx="164.7" cy="319.4" r="2.2"/><circle cx="143.5" cy="357.7" r="2.2"/><circle cx="182.4" cy="322.8" r="2.2"/><circle cx="147.1" cy="331.8" r="2.2"/><circle cx="134.7" cy="367.4" r="2.2"/><circle cx="159.7" cy="353.1" r="2.2"/><circle cx="162.3" cy="340.5" r="2.2"/><circle cx="155.0" cy="327.6" r="2.2"/><circle cx="176.0" cy="338.3" r="2.2"/><circle cx="150.4" cy="327.5" r="2.2"/><circle cx="145.1" cy="345.3" r="2.2"/><circle cx="136.3" cy="372.0" r="2.2"/><circle cx="127.4" cy="356.3" r="2.2"/><circle cx="147.1" cy="325.5" r="2.2"/><circle cx="158.8" cy="329.8" r="2.2"/><circle cx="140.9" cy="358.9" r="2.2"/><circle cx="147.2" cy="329.4" r="2.2"/><circle cx="164.9" cy="347.2" r="2.2"/><circle cx="170.9" cy="328.0" r="2.2"/><circle cx="133.7" cy="361.5" r="2.2"/><circle cx="143.9" cy="365.0" r="2.2"/><circle cx="150.5" cy="344.1" r="2.2"/><circle cx="136.4" cy="390.5" r="2.2"/><circle cx="112.8" cy="351.7" r="2.2"/><circle cx="126.3" cy="363.0" r="2.2"/><circle cx="119.0" cy="388.6" r="2.2"/><circle cx="144.0" cy="361.3" r="2.2"/><circle cx="122.8" cy="356.4" r="2.2"/><circle cx="109.3" cy="353.5" r="2.2"/><circle cx="146.2" cy="366.3" r="2.2"/><circle cx="135.2" cy="365.2" r="2.2"/><circle cx="137.1" cy="387.8" r="2.2"/><circle cx="121.1" cy="356.3" r="2.2"/><circle cx="110.7" cy="380.1" r="2.2"/><circle cx="113.6" cy="332.3" r="2.2"/><circle cx="126.9" cy="366.0" r="2.2"/><circle cx="149.3" cy="344.8" r="2.2"/><circle cx="136.7" cy="366.2" r="2.2"/><circle cx="127.5" cy="344.6" r="2.2"/><circle cx="128.7" cy="395.4" r="2.2"/><circle cx="111.5" cy="366.6" r="2.2"/><circle cx="119.4" cy="367.4" r="2.2"/><circle cx="111.4" cy="393.2" r="2.2"/><circle cx="120.3" cy="390.6" r="2.2"/><circle cx="108.6" cy="363.7" r="2.2"/><circle cx="117.0" cy="336.4" r="2.2"/><circle cx="149.7" cy="344.6" r="2.2"/><circle cx="122.9" cy="357.2" r="2.2"/><circle cx="114.2" cy="342.3" r="2.2"/><circle cx="142.0" cy="357.7" r="2.2"/><circle cx="134.0" cy="359.8" r="2.2"/><circle cx="160.2" cy="348.0" r="2.2"/><circle cx="111.9" cy="385.1" r="2.2"/><circle cx="142.3" cy="346.0" r="2.2"/><circle cx="140.3" cy="355.6" r="2.2"/><circle cx="128.9" cy="376.5" r="2.2"/><circle cx="163.6" cy="351.4" r="2.2"/><circle cx="131.0" cy="386.7" r="2.2"/><circle cx="127.0" cy="383.9" r="2.2"/><circle cx="110.4" cy="325.0" r="2.2"/><circle cx="108.5" cy="336.5" r="2.2"/><circle cx="120.0" cy="399.0" r="2.2"/><circle cx="93.0" cy="370.0" r="2.2"/><circle cx="98.0" cy="380.0" r="2.2"/><circle cx="104.0" cy="364.0" r="2.2"/><circle cx="81.2" cy="377.2" r="2.2"/>
</g>
<text x="208.2" y="233.7" font-size="8.4" font-style="italic" textLength="18.6" lengthAdjust="spacingAndGlyphs" >Pten</text>
<line x1="229.40" y1="230.70" x2="236.45" y2="229.46" stroke="#231f20" stroke-width="0.6"/>
<path d="M239.60,228.90 L236.69,230.83 L236.21,228.08 Z" fill="#231f20"/>
<text x="58" y="366.2" font-size="8.4" font-style="italic" textLength="23.2" lengthAdjust="spacingAndGlyphs" >Rpl26</text>
<line x1="70.80" y1="368.90" x2="76.64" y2="373.28" stroke="#231f20" stroke-width="0.6"/>
<path d="M79.20,375.20 L75.80,374.40 L77.48,372.16 Z" fill="#231f20"/>
<g fill="#f0f3f2" stroke="#b9c2bf" stroke-width="0.75">
<circle cx="327.5" cy="390.5" r="2.05"/><circle cx="317.5" cy="377.0" r="2.05"/><circle cx="363.1" cy="372.3" r="2.05"/><circle cx="343.3" cy="379.1" r="2.05"/><circle cx="334.9" cy="368.7" r="2.05"/><circle cx="338.5" cy="397.1" r="2.05"/><circle cx="337.6" cy="393.8" r="2.05"/><circle cx="373.9" cy="375.2" r="2.05"/><circle cx="361.2" cy="392.9" r="2.05"/><circle cx="346.6" cy="370.8" r="2.05"/><circle cx="341.7" cy="359.3" r="2.05"/><circle cx="320.6" cy="401.5" r="2.05"/><circle cx="359.3" cy="376.3" r="2.05"/><circle cx="331.2" cy="376.2" r="2.05"/><circle cx="355.7" cy="391.8" r="2.05"/><circle cx="356.6" cy="374.5" r="2.05"/><circle cx="314.6" cy="378.0" r="2.05"/><circle cx="353.8" cy="348.2" r="2.05"/><circle cx="352.6" cy="367.2" r="2.05"/><circle cx="328.8" cy="358.5" r="2.05"/><circle cx="347.4" cy="382.2" r="2.05"/><circle cx="357.6" cy="379.1" r="2.05"/><circle cx="356.5" cy="370.6" r="2.05"/><circle cx="340.4" cy="396.9" r="2.05"/><circle cx="322.8" cy="369.8" r="2.05"/><circle cx="327.3" cy="389.4" r="2.05"/><circle cx="338.1" cy="354.6" r="2.05"/><circle cx="357.4" cy="390.8" r="2.05"/><circle cx="334.8" cy="389.7" r="2.05"/><circle cx="347.6" cy="394.7" r="2.05"/><circle cx="342.0" cy="373.9" r="2.05"/><circle cx="338.5" cy="378.7" r="2.05"/><circle cx="333.9" cy="400.7" r="2.05"/><circle cx="324.6" cy="403.1" r="2.05"/><circle cx="337.3" cy="387.0" r="2.05"/><circle cx="322.7" cy="362.6" r="2.05"/><circle cx="352.7" cy="369.6" r="2.05"/><circle cx="365.7" cy="365.6" r="2.05"/><circle cx="333.9" cy="392.5" r="2.05"/><circle cx="337.1" cy="382.8" r="2.05"/><circle cx="332.0" cy="367.2" r="2.05"/><circle cx="321.8" cy="370.1" r="2.05"/><circle cx="317.7" cy="397.0" r="2.05"/><circle cx="307.1" cy="380.0" r="2.05"/><circle cx="311.6" cy="370.8" r="2.05"/><circle cx="329.9" cy="368.3" r="2.05"/><circle cx="335.0" cy="372.0" r="2.05"/><circle cx="350.6" cy="388.2" r="2.05"/><circle cx="381.0" cy="341.4" r="2.05"/><circle cx="432.8" cy="335.7" r="2.05"/><circle cx="448.9" cy="302.2" r="2.05"/><circle cx="408.0" cy="350.0" r="2.05"/><circle cx="390.6" cy="380.6" r="2.05"/><circle cx="419.5" cy="349.0" r="2.05"/><circle cx="436.0" cy="307.3" r="2.05"/><circle cx="366.2" cy="356.2" r="2.05"/><circle cx="385.5" cy="358.9" r="2.05"/><circle cx="374.1" cy="378.5" r="2.05"/><circle cx="380.1" cy="330.9" r="2.05"/><circle cx="376.3" cy="365.1" r="2.05"/><circle cx="397.9" cy="353.2" r="2.05"/><circle cx="412.3" cy="342.6" r="2.05"/><circle cx="407.4" cy="316.5" r="2.05"/><circle cx="456.3" cy="310.7" r="2.05"/><circle cx="405.1" cy="335.5" r="2.05"/><circle cx="434.3" cy="296.8" r="2.05"/><circle cx="360.8" cy="372.6" r="2.05"/><circle cx="423.2" cy="342.7" r="2.05"/><circle cx="422.5" cy="347.3" r="2.05"/><circle cx="424.2" cy="340.3" r="2.05"/><circle cx="376.7" cy="339.3" r="2.05"/><circle cx="382.8" cy="377.0" r="2.05"/><circle cx="422.7" cy="316.8" r="2.05"/><circle cx="399.2" cy="364.7" r="2.05"/><circle cx="391.7" cy="377.1" r="2.05"/><circle cx="365.0" cy="343.3" r="2.05"/><circle cx="418.8" cy="313.4" r="2.05"/><circle cx="369.4" cy="369.0" r="2.05"/><circle cx="446.9" cy="328.5" r="2.05"/><circle cx="441.5" cy="341.2" r="2.05"/><circle cx="396.8" cy="342.8" r="2.05"/><circle cx="397.9" cy="334.4" r="2.05"/><circle cx="437.0" cy="321.9" r="2.05"/><circle cx="359.0" cy="365.2" r="2.05"/><circle cx="402.6" cy="334.2" r="2.05"/><circle cx="392.0" cy="345.3" r="2.05"/><circle cx="374.3" cy="364.6" r="2.05"/><circle cx="408.5" cy="318.8" r="2.05"/><circle cx="433.7" cy="349.1" r="2.05"/><circle cx="443.3" cy="342.0" r="2.05"/><circle cx="401.6" cy="350.4" r="2.05"/><circle cx="397.9" cy="355.2" r="2.05"/><circle cx="430.2" cy="314.3" r="2.05"/><circle cx="409.0" cy="305.7" r="2.05"/><circle cx="385.4" cy="326.1" r="2.05"/><circle cx="416.8" cy="311.0" r="2.05"/><circle cx="379.5" cy="391.3" r="2.05"/><circle cx="447.8" cy="297.2" r="2.05"/><circle cx="424.7" cy="311.7" r="2.05"/><circle cx="432.1" cy="349.6" r="2.05"/><circle cx="385.8" cy="371.9" r="2.05"/><circle cx="399.3" cy="358.5" r="2.05"/><circle cx="429.1" cy="353.3" r="2.05"/><circle cx="418.9" cy="336.1" r="2.05"/><circle cx="380.1" cy="386.2" r="2.05"/><circle cx="422.4" cy="304.0" r="2.05"/><circle cx="351.2" cy="364.4" r="2.05"/><circle cx="437.5" cy="321.4" r="2.05"/><circle cx="392.7" cy="362.5" r="2.05"/><circle cx="398.5" cy="316.6" r="2.05"/><circle cx="398.1" cy="384.7" r="2.05"/><circle cx="411.0" cy="376.5" r="2.05"/><circle cx="444.3" cy="330.7" r="2.05"/><circle cx="361.4" cy="381.1" r="2.05"/><circle cx="428.0" cy="312.1" r="2.05"/><circle cx="426.1" cy="322.6" r="2.05"/><circle cx="414.5" cy="321.2" r="2.05"/><circle cx="353.4" cy="366.0" r="2.05"/><circle cx="405.2" cy="363.3" r="2.05"/><circle cx="427.1" cy="300.8" r="2.05"/><circle cx="431.6" cy="309.3" r="2.05"/><circle cx="437.6" cy="314.2" r="2.05"/><circle cx="354.7" cy="392.9" r="2.05"/><circle cx="380.6" cy="359.6" r="2.05"/><circle cx="369.2" cy="349.7" r="2.05"/><circle cx="412.6" cy="325.0" r="2.05"/><circle cx="389.1" cy="388.2" r="2.05"/><circle cx="397.0" cy="370.8" r="2.05"/><circle cx="382.2" cy="375.3" r="2.05"/><circle cx="427.0" cy="324.5" r="2.05"/><circle cx="410.4" cy="314.9" r="2.05"/><circle cx="376.3" cy="376.1" r="2.05"/><circle cx="382.0" cy="363.0" r="2.05"/><circle cx="394.7" cy="347.1" r="2.05"/><circle cx="402.2" cy="323.7" r="2.05"/><circle cx="376.7" cy="341.0" r="2.05"/><circle cx="392.9" cy="375.0" r="2.05"/><circle cx="409.0" cy="374.6" r="2.05"/><circle cx="386.8" cy="380.8" r="2.05"/><circle cx="348.8" cy="380.8" r="2.05"/><circle cx="407.2" cy="312.9" r="2.05"/><circle cx="442.2" cy="315.3" r="2.05"/><circle cx="362.5" cy="357.4" r="2.05"/><circle cx="411.7" cy="314.2" r="2.05"/><circle cx="364.7" cy="368.6" r="2.05"/><circle cx="397.7" cy="354.9" r="2.05"/><circle cx="359.3" cy="387.5" r="2.05"/><circle cx="373.8" cy="366.7" r="2.05"/><circle cx="394.8" cy="346.6" r="2.05"/><circle cx="440.6" cy="328.3" r="2.05"/><circle cx="399.4" cy="313.0" r="2.05"/><circle cx="360.7" cy="365.9" r="2.05"/><circle cx="409.1" cy="364.9" r="2.05"/><circle cx="433.0" cy="300.8" r="2.05"/><circle cx="393.1" cy="363.7" r="2.05"/><circle cx="398.8" cy="340.8" r="2.05"/><circle cx="400.1" cy="369.3" r="2.05"/><circle cx="366.3" cy="372.5" r="2.05"/><circle cx="430.1" cy="353.2" r="2.05"/><circle cx="409.2" cy="356.9" r="2.05"/><circle cx="396.3" cy="377.5" r="2.05"/><circle cx="406.1" cy="344.6" r="2.05"/><circle cx="402.3" cy="337.6" r="2.05"/><circle cx="368.2" cy="382.2" r="2.05"/><circle cx="393.7" cy="361.6" r="2.05"/><circle cx="382.2" cy="355.1" r="2.05"/><circle cx="411.1" cy="352.1" r="2.05"/><circle cx="377.0" cy="376.6" r="2.05"/><circle cx="368.8" cy="363.7" r="2.05"/><circle cx="360.7" cy="357.3" r="2.05"/><circle cx="361.2" cy="387.3" r="2.05"/><circle cx="386.3" cy="341.1" r="2.05"/><circle cx="409.5" cy="322.3" r="2.05"/><circle cx="436.7" cy="307.7" r="2.05"/><circle cx="399.6" cy="346.1" r="2.05"/><circle cx="432.3" cy="316.3" r="2.05"/><circle cx="426.6" cy="316.3" r="2.05"/><circle cx="373.3" cy="346.3" r="2.05"/><circle cx="417.5" cy="338.0" r="2.05"/><circle cx="368.7" cy="359.1" r="2.05"/><circle cx="366.5" cy="378.3" r="2.05"/><circle cx="372.7" cy="337.6" r="2.05"/><circle cx="412.5" cy="374.5" r="2.05"/><circle cx="427.3" cy="315.9" r="2.05"/><circle cx="392.1" cy="378.5" r="2.05"/><circle cx="436.1" cy="319.1" r="2.05"/><circle cx="408.1" cy="355.4" r="2.05"/><circle cx="358.8" cy="392.6" r="2.05"/><circle cx="369.1" cy="346.4" r="2.05"/><circle cx="416.6" cy="371.0" r="2.05"/><circle cx="367.0" cy="382.2" r="2.05"/><circle cx="359.6" cy="347.4" r="2.05"/><circle cx="399.3" cy="336.5" r="2.05"/><circle cx="406.2" cy="337.0" r="2.05"/><circle cx="372.6" cy="357.1" r="2.05"/><circle cx="433.4" cy="310.9" r="2.05"/><circle cx="408.6" cy="375.4" r="2.05"/><circle cx="370.4" cy="358.1" r="2.05"/><circle cx="393.0" cy="329.1" r="2.05"/><circle cx="448.9" cy="322.7" r="2.05"/><circle cx="401.8" cy="341.7" r="2.05"/><circle cx="401.4" cy="306.7" r="2.05"/><circle cx="383.5" cy="352.3" r="2.05"/><circle cx="428.9" cy="321.4" r="2.05"/><circle cx="377.7" cy="339.2" r="2.05"/><circle cx="381.8" cy="385.3" r="2.05"/><circle cx="402.6" cy="320.8" r="2.05"/><circle cx="372.6" cy="359.7" r="2.05"/><circle cx="367.4" cy="341.1" r="2.05"/><circle cx="427.3" cy="321.8" r="2.05"/><circle cx="389.6" cy="345.3" r="2.05"/><circle cx="397.0" cy="336.2" r="2.05"/><circle cx="407.9" cy="339.0" r="2.05"/><circle cx="433.1" cy="349.6" r="2.05"/><circle cx="421.0" cy="335.6" r="2.05"/><circle cx="459.4" cy="313.7" r="2.05"/><circle cx="379.8" cy="368.1" r="2.05"/><circle cx="426.9" cy="317.8" r="2.05"/><circle cx="371.8" cy="389.0" r="2.05"/><circle cx="420.4" cy="314.2" r="2.05"/><circle cx="407.9" cy="361.3" r="2.05"/><circle cx="417.8" cy="345.1" r="2.05"/><circle cx="381.9" cy="378.4" r="2.05"/><circle cx="404.7" cy="331.3" r="2.05"/><circle cx="427.2" cy="316.6" r="2.05"/><circle cx="346.0" cy="382.5" r="2.05"/><circle cx="391.4" cy="363.9" r="2.05"/><circle cx="401.0" cy="324.3" r="2.05"/><circle cx="365.8" cy="387.7" r="2.05"/><circle cx="406.2" cy="373.7" r="2.05"/><circle cx="392.4" cy="336.9" r="2.05"/><circle cx="434.9" cy="322.1" r="2.05"/><circle cx="394.3" cy="324.5" r="2.05"/><circle cx="439.3" cy="303.6" r="2.05"/><circle cx="447.8" cy="326.5" r="2.05"/><circle cx="399.7" cy="330.0" r="2.05"/><circle cx="430.6" cy="332.6" r="2.05"/><circle cx="443.8" cy="325.8" r="2.05"/><circle cx="407.3" cy="375.1" r="2.05"/><circle cx="451.9" cy="301.5" r="2.05"/><circle cx="449.8" cy="314.9" r="2.05"/><circle cx="376.1" cy="378.4" r="2.05"/><circle cx="386.1" cy="362.1" r="2.05"/><circle cx="441.6" cy="346.9" r="2.05"/><circle cx="446.3" cy="309.4" r="2.05"/><circle cx="417.9" cy="357.3" r="2.05"/><circle cx="430.4" cy="311.4" r="2.05"/><circle cx="369.0" cy="371.1" r="2.05"/><circle cx="382.1" cy="339.4" r="2.05"/><circle cx="390.4" cy="327.3" r="2.05"/><circle cx="370.6" cy="345.2" r="2.05"/><circle cx="404.2" cy="315.1" r="2.05"/><circle cx="430.5" cy="300.3" r="2.05"/><circle cx="450.5" cy="335.0" r="2.05"/><circle cx="438.4" cy="327.8" r="2.05"/><circle cx="373.3" cy="373.3" r="2.05"/><circle cx="457.6" cy="318.5" r="2.05"/><circle cx="366.0" cy="358.5" r="2.05"/><circle cx="441.8" cy="298.8" r="2.05"/><circle cx="393.1" cy="353.6" r="2.05"/><circle cx="427.8" cy="342.8" r="2.05"/><circle cx="440.9" cy="327.7" r="2.05"/><circle cx="350.8" cy="376.7" r="2.05"/><circle cx="381.4" cy="329.6" r="2.05"/><circle cx="401.2" cy="331.0" r="2.05"/><circle cx="388.5" cy="320.6" r="2.05"/><circle cx="362.8" cy="388.2" r="2.05"/><circle cx="413.9" cy="328.9" r="2.05"/><circle cx="352.9" cy="377.2" r="2.05"/><circle cx="372.5" cy="342.8" r="2.05"/><circle cx="456.1" cy="300.3" r="2.05"/><circle cx="376.4" cy="363.4" r="2.05"/><circle cx="443.2" cy="328.5" r="2.05"/><circle cx="421.0" cy="355.0" r="2.05"/><circle cx="403.9" cy="375.5" r="2.05"/><circle cx="360.5" cy="367.5" r="2.05"/><circle cx="443.3" cy="323.7" r="2.05"/><circle cx="390.7" cy="335.8" r="2.05"/><circle cx="384.8" cy="382.0" r="2.05"/><circle cx="419.1" cy="349.7" r="2.05"/><circle cx="451.7" cy="293.9" r="2.05"/><circle cx="371.0" cy="346.6" r="2.05"/><circle cx="390.0" cy="372.0" r="2.05"/><circle cx="429.5" cy="336.4" r="2.05"/><circle cx="375.7" cy="372.4" r="2.05"/><circle cx="391.1" cy="313.9" r="2.05"/><circle cx="376.6" cy="368.2" r="2.05"/><circle cx="402.6" cy="379.1" r="2.05"/><circle cx="443.1" cy="331.2" r="2.05"/><circle cx="431.3" cy="362.0" r="2.05"/><circle cx="400.6" cy="328.9" r="2.05"/><circle cx="451.3" cy="340.5" r="2.05"/><circle cx="445.9" cy="303.1" r="2.05"/><circle cx="383.7" cy="334.5" r="2.05"/><circle cx="373.6" cy="380.3" r="2.05"/><circle cx="436.3" cy="349.3" r="2.05"/><circle cx="370.7" cy="376.3" r="2.05"/><circle cx="439.2" cy="303.0" r="2.05"/><circle cx="423.5" cy="335.0" r="2.05"/><circle cx="405.5" cy="348.2" r="2.05"/><circle cx="453.6" cy="321.3" r="2.05"/><circle cx="384.7" cy="336.1" r="2.05"/><circle cx="444.9" cy="297.1" r="2.05"/><circle cx="372.5" cy="359.7" r="2.05"/><circle cx="402.7" cy="372.2" r="2.05"/><circle cx="455.7" cy="290.7" r="2.05"/><circle cx="345.0" cy="367.7" r="2.05"/><circle cx="448.8" cy="295.4" r="2.05"/><circle cx="399.4" cy="361.9" r="2.05"/><circle cx="421.6" cy="340.2" r="2.05"/><circle cx="430.0" cy="328.5" r="2.05"/><circle cx="405.4" cy="361.8" r="2.05"/><circle cx="391.9" cy="361.1" r="2.05"/><circle cx="400.4" cy="334.3" r="2.05"/><circle cx="400.4" cy="352.7" r="2.05"/><circle cx="411.9" cy="369.4" r="2.05"/><circle cx="421.0" cy="311.6" r="2.05"/><circle cx="356.7" cy="366.4" r="2.05"/><circle cx="365.7" cy="355.2" r="2.05"/><circle cx="407.9" cy="310.8" r="2.05"/><circle cx="366.0" cy="343.8" r="2.05"/><circle cx="410.8" cy="357.1" r="2.05"/><circle cx="435.4" cy="308.9" r="2.05"/><circle cx="411.6" cy="350.6" r="2.05"/><circle cx="427.1" cy="343.5" r="2.05"/><circle cx="381.0" cy="345.7" r="2.05"/><circle cx="370.9" cy="360.5" r="2.05"/><circle cx="422.7" cy="349.7" r="2.05"/><circle cx="376.2" cy="342.0" r="2.05"/><circle cx="432.4" cy="330.7" r="2.05"/><circle cx="369.1" cy="370.4" r="2.05"/><circle cx="442.9" cy="301.1" r="2.05"/><circle cx="403.0" cy="337.7" r="2.05"/><circle cx="394.5" cy="348.0" r="2.05"/><circle cx="398.9" cy="337.7" r="2.05"/><circle cx="368.4" cy="346.8" r="2.05"/><circle cx="419.9" cy="357.4" r="2.05"/><circle cx="421.7" cy="304.5" r="2.05"/><circle cx="347.3" cy="366.1" r="2.05"/><circle cx="375.6" cy="354.8" r="2.05"/><circle cx="449.7" cy="298.2" r="2.05"/><circle cx="373.2" cy="360.3" r="2.05"/><circle cx="396.1" cy="375.3" r="2.05"/><circle cx="370.4" cy="386.5" r="2.05"/><circle cx="348.2" cy="370.9" r="2.05"/><circle cx="413.3" cy="315.7" r="2.05"/><circle cx="409.0" cy="305.2" r="2.05"/><circle cx="393.1" cy="358.0" r="2.05"/><circle cx="370.1" cy="373.7" r="2.05"/><circle cx="457.3" cy="308.1" r="2.05"/><circle cx="355.3" cy="354.6" r="2.05"/><circle cx="403.6" cy="315.4" r="2.05"/><circle cx="434.4" cy="346.5" r="2.05"/><circle cx="354.2" cy="357.9" r="2.05"/><circle cx="434.9" cy="333.7" r="2.05"/><circle cx="414.3" cy="300.0" r="2.05"/><circle cx="384.6" cy="340.2" r="2.05"/><circle cx="423.3" cy="325.1" r="2.05"/><circle cx="407.0" cy="365.4" r="2.05"/><circle cx="439.5" cy="347.1" r="2.05"/><circle cx="356.5" cy="378.9" r="2.05"/><circle cx="450.6" cy="320.0" r="2.05"/><circle cx="406.5" cy="338.9" r="2.05"/><circle cx="427.1" cy="350.1" r="2.05"/><circle cx="451.0" cy="329.3" r="2.05"/><circle cx="440.6" cy="330.9" r="2.05"/><circle cx="372.6" cy="332.6" r="2.05"/><circle cx="447.8" cy="318.6" r="2.05"/><circle cx="366.4" cy="388.6" r="2.05"/><circle cx="417.8" cy="337.8" r="2.05"/><circle cx="398.9" cy="319.2" r="2.05"/><circle cx="445.7" cy="324.3" r="2.05"/><circle cx="437.6" cy="353.9" r="2.05"/><circle cx="390.3" cy="327.8" r="2.05"/><circle cx="355.1" cy="384.1" r="2.05"/><circle cx="449.5" cy="324.7" r="2.05"/><circle cx="445.0" cy="306.6" r="2.05"/><circle cx="384.9" cy="382.9" r="2.05"/><circle cx="369.7" cy="395.3" r="2.05"/><circle cx="391.5" cy="340.1" r="2.05"/><circle cx="380.9" cy="361.6" r="2.05"/><circle cx="408.0" cy="310.8" r="2.05"/><circle cx="348.1" cy="381.6" r="2.05"/><circle cx="416.3" cy="359.9" r="2.05"/><circle cx="368.8" cy="365.8" r="2.05"/><circle cx="404.5" cy="335.4" r="2.05"/><circle cx="407.4" cy="364.7" r="2.05"/><circle cx="366.9" cy="355.1" r="2.05"/><circle cx="365.7" cy="363.9" r="2.05"/><circle cx="377.9" cy="340.7" r="2.05"/><circle cx="393.3" cy="372.4" r="2.05"/><circle cx="425.5" cy="355.2" r="2.05"/><circle cx="376.6" cy="342.6" r="2.05"/><circle cx="410.3" cy="330.0" r="2.05"/><circle cx="377.9" cy="371.4" r="2.05"/><circle cx="454.0" cy="334.2" r="2.05"/><circle cx="405.9" cy="330.7" r="2.05"/><circle cx="378.0" cy="368.1" r="2.05"/><circle cx="365.1" cy="345.0" r="2.05"/><circle cx="433.2" cy="329.5" r="2.05"/><circle cx="399.6" cy="317.6" r="2.05"/><circle cx="398.4" cy="350.0" r="2.05"/><circle cx="432.2" cy="294.7" r="2.05"/><circle cx="417.7" cy="351.4" r="2.05"/><circle cx="422.6" cy="327.3" r="2.05"/><circle cx="398.8" cy="380.1" r="2.05"/><circle cx="371.2" cy="332.6" r="2.05"/><circle cx="377.3" cy="336.9" r="2.05"/><circle cx="410.7" cy="307.3" r="2.05"/><circle cx="436.0" cy="353.7" r="2.05"/><circle cx="348.8" cy="366.8" r="2.05"/><circle cx="444.6" cy="327.1" r="2.05"/><circle cx="412.2" cy="348.0" r="2.05"/><circle cx="458.0" cy="311.0" r="2.05"/><circle cx="368.7" cy="343.2" r="2.05"/><circle cx="420.6" cy="313.9" r="2.05"/><circle cx="367.6" cy="364.3" r="2.05"/><circle cx="392.6" cy="349.3" r="2.05"/><circle cx="408.7" cy="336.7" r="2.05"/><circle cx="399.8" cy="366.9" r="2.05"/><circle cx="362.2" cy="377.4" r="2.05"/><circle cx="399.9" cy="312.4" r="2.05"/><circle cx="439.6" cy="347.4" r="2.05"/><circle cx="370.1" cy="337.5" r="2.05"/><circle cx="457.7" cy="318.1" r="2.05"/><circle cx="384.3" cy="378.5" r="2.05"/><circle cx="432.0" cy="343.0" r="2.05"/><circle cx="370.3" cy="376.9" r="2.05"/><circle cx="410.5" cy="350.5" r="2.05"/><circle cx="418.8" cy="335.2" r="2.05"/><circle cx="362.4" cy="392.2" r="2.05"/><circle cx="382.5" cy="365.4" r="2.05"/><circle cx="377.5" cy="329.0" r="2.05"/><circle cx="439.3" cy="314.0" r="2.05"/><circle cx="398.5" cy="348.8" r="2.05"/><circle cx="442.7" cy="320.4" r="2.05"/><circle cx="370.3" cy="372.8" r="2.05"/><circle cx="413.5" cy="332.7" r="2.05"/><circle cx="421.0" cy="319.8" r="2.05"/><circle cx="373.2" cy="368.5" r="2.05"/><circle cx="373.3" cy="375.3" r="2.05"/><circle cx="454.1" cy="321.9" r="2.05"/><circle cx="401.9" cy="330.7" r="2.05"/><circle cx="408.5" cy="359.6" r="2.05"/><circle cx="370.9" cy="385.5" r="2.05"/><circle cx="375.8" cy="333.7" r="2.05"/><circle cx="399.8" cy="336.7" r="2.05"/><circle cx="395.1" cy="357.9" r="2.05"/><circle cx="425.5" cy="332.1" r="2.05"/><circle cx="428.0" cy="322.2" r="2.05"/><circle cx="409.4" cy="354.7" r="2.05"/><circle cx="414.2" cy="331.6" r="2.05"/><circle cx="378.8" cy="349.8" r="2.05"/><circle cx="415.2" cy="321.1" r="2.05"/><circle cx="434.4" cy="332.1" r="2.05"/><circle cx="447.9" cy="316.0" r="2.05"/><circle cx="379.5" cy="345.3" r="2.05"/><circle cx="377.0" cy="351.9" r="2.05"/><circle cx="404.1" cy="350.8" r="2.05"/><circle cx="405.3" cy="358.5" r="2.05"/><circle cx="398.0" cy="333.6" r="2.05"/><circle cx="442.4" cy="314.0" r="2.05"/><circle cx="421.5" cy="371.0" r="2.05"/><circle cx="380.5" cy="385.2" r="2.05"/><circle cx="396.3" cy="332.2" r="2.05"/><circle cx="392.8" cy="353.0" r="2.05"/><circle cx="419.4" cy="340.8" r="2.05"/><circle cx="391.1" cy="329.9" r="2.05"/><circle cx="377.4" cy="344.3" r="2.05"/><circle cx="443.4" cy="330.0" r="2.05"/><circle cx="393.3" cy="341.9" r="2.05"/><circle cx="377.0" cy="351.3" r="2.05"/><circle cx="387.4" cy="384.5" r="2.05"/><circle cx="361.7" cy="362.1" r="2.05"/><circle cx="362.9" cy="375.3" r="2.05"/><circle cx="401.1" cy="309.8" r="2.05"/><circle cx="420.0" cy="328.5" r="2.05"/><circle cx="396.0" cy="365.0" r="2.05"/><circle cx="449.3" cy="324.5" r="2.05"/><circle cx="385.8" cy="381.5" r="2.05"/><circle cx="350.2" cy="368.8" r="2.05"/><circle cx="424.1" cy="363.4" r="2.05"/><circle cx="441.0" cy="339.5" r="2.05"/><circle cx="428.1" cy="356.6" r="2.05"/><circle cx="417.6" cy="308.1" r="2.05"/><circle cx="387.3" cy="337.7" r="2.05"/><circle cx="440.8" cy="331.3" r="2.05"/><circle cx="398.2" cy="364.9" r="2.05"/><circle cx="406.1" cy="356.4" r="2.05"/><circle cx="422.3" cy="342.7" r="2.05"/><circle cx="407.4" cy="343.3" r="2.05"/><circle cx="409.7" cy="376.0" r="2.05"/><circle cx="357.6" cy="371.7" r="2.05"/><circle cx="386.6" cy="385.2" r="2.05"/><circle cx="425.8" cy="327.1" r="2.05"/><circle cx="438.8" cy="324.8" r="2.05"/><circle cx="381.4" cy="339.5" r="2.05"/><circle cx="362.3" cy="357.8" r="2.05"/><circle cx="356.3" cy="385.0" r="2.05"/><circle cx="438.1" cy="346.3" r="2.05"/><circle cx="389.2" cy="388.3" r="2.05"/><circle cx="373.4" cy="370.6" r="2.05"/><circle cx="424.2" cy="354.1" r="2.05"/><circle cx="380.2" cy="354.3" r="2.05"/><circle cx="410.4" cy="311.7" r="2.05"/><circle cx="412.7" cy="347.6" r="2.05"/><circle cx="432.0" cy="307.2" r="2.05"/><circle cx="360.5" cy="371.9" r="2.05"/><circle cx="435.0" cy="318.2" r="2.05"/><circle cx="426.4" cy="315.7" r="2.05"/><circle cx="451.2" cy="314.3" r="2.05"/><circle cx="375.9" cy="340.3" r="2.05"/><circle cx="414.8" cy="355.0" r="2.05"/><circle cx="383.5" cy="354.0" r="2.05"/><circle cx="413.6" cy="320.0" r="2.05"/><circle cx="356.3" cy="386.1" r="2.05"/><circle cx="353.7" cy="352.5" r="2.05"/><circle cx="371.5" cy="346.5" r="2.05"/><circle cx="436.4" cy="342.2" r="2.05"/><circle cx="369.1" cy="391.4" r="2.05"/><circle cx="408.0" cy="361.2" r="2.05"/><circle cx="375.7" cy="363.2" r="2.05"/><circle cx="396.0" cy="325.2" r="2.05"/><circle cx="429.6" cy="345.4" r="2.05"/><circle cx="346.9" cy="373.4" r="2.05"/><circle cx="370.8" cy="371.9" r="2.05"/><circle cx="378.8" cy="384.1" r="2.05"/><circle cx="419.5" cy="307.5" r="2.05"/><circle cx="390.0" cy="357.2" r="2.05"/><circle cx="406.6" cy="310.7" r="2.05"/><circle cx="434.3" cy="325.8" r="2.05"/><circle cx="388.2" cy="362.8" r="2.05"/><circle cx="414.5" cy="343.2" r="2.05"/><circle cx="408.2" cy="310.0" r="2.05"/><circle cx="364.1" cy="350.8" r="2.05"/><circle cx="418.1" cy="350.3" r="2.05"/><circle cx="381.0" cy="389.1" r="2.05"/><circle cx="429.6" cy="340.1" r="2.05"/><circle cx="424.9" cy="306.3" r="2.05"/><circle cx="401.6" cy="338.0" r="2.05"/><circle cx="421.2" cy="319.9" r="2.05"/><circle cx="377.4" cy="353.3" r="2.05"/><circle cx="416.0" cy="361.0" r="2.05"/><circle cx="372.8" cy="374.5" r="2.05"/><circle cx="375.9" cy="345.9" r="2.05"/><circle cx="362.7" cy="393.5" r="2.05"/><circle cx="441.2" cy="316.1" r="2.05"/><circle cx="357.8" cy="375.9" r="2.05"/><circle cx="436.1" cy="324.0" r="2.05"/><circle cx="429.0" cy="359.3" r="2.05"/><circle cx="411.0" cy="318.5" r="2.05"/><circle cx="350.9" cy="360.7" r="2.05"/><circle cx="396.5" cy="306.8" r="2.05"/><circle cx="371.6" cy="345.0" r="2.05"/><circle cx="370.4" cy="348.5" r="2.05"/><circle cx="411.9" cy="352.1" r="2.05"/><circle cx="380.4" cy="337.6" r="2.05"/><circle cx="445.0" cy="330.6" r="2.05"/><circle cx="452.8" cy="302.5" r="2.05"/><circle cx="399.0" cy="361.1" r="2.05"/><circle cx="430.3" cy="342.9" r="2.05"/><circle cx="376.4" cy="339.6" r="2.05"/><circle cx="409.8" cy="357.5" r="2.05"/><circle cx="451.7" cy="305.9" r="2.05"/><circle cx="398.6" cy="318.9" r="2.05"/><circle cx="426.3" cy="325.0" r="2.05"/><circle cx="383.0" cy="331.9" r="2.05"/><circle cx="416.8" cy="329.6" r="2.05"/><circle cx="397.3" cy="323.7" r="2.05"/><circle cx="438.4" cy="302.1" r="2.05"/><circle cx="394.7" cy="344.6" r="2.05"/><circle cx="396.3" cy="326.3" r="2.05"/><circle cx="398.1" cy="317.6" r="2.05"/><circle cx="425.1" cy="338.9" r="2.05"/><circle cx="395.4" cy="375.9" r="2.05"/><circle cx="360.2" cy="361.3" r="2.05"/><circle cx="393.1" cy="378.3" r="2.05"/><circle cx="413.7" cy="330.9" r="2.05"/><circle cx="455.5" cy="312.8" r="2.05"/><circle cx="445.0" cy="335.8" r="2.05"/><circle cx="396.7" cy="372.7" r="2.05"/><circle cx="395.7" cy="374.8" r="2.05"/><circle cx="416.0" cy="313.6" r="2.05"/><circle cx="438.0" cy="319.9" r="2.05"/><circle cx="404.5" cy="327.7" r="2.05"/><circle cx="420.0" cy="328.5" r="2.05"/><circle cx="410.5" cy="328.8" r="2.05"/><circle cx="423.0" cy="321.5" r="2.05"/><circle cx="379.9" cy="348.4" r="2.05"/><circle cx="440.5" cy="331.3" r="2.05"/><circle cx="414.8" cy="310.3" r="2.05"/><circle cx="442.3" cy="333.4" r="2.05"/><circle cx="384.7" cy="388.7" r="2.05"/><circle cx="408.4" cy="351.1" r="2.05"/><circle cx="380.7" cy="371.9" r="2.05"/><circle cx="407.4" cy="339.5" r="2.05"/><circle cx="383.1" cy="376.5" r="2.05"/><circle cx="384.4" cy="358.8" r="2.05"/><circle cx="390.9" cy="360.7" r="2.05"/><circle cx="386.3" cy="356.8" r="2.05"/><circle cx="420.4" cy="312.7" r="2.05"/><circle cx="415.0" cy="305.4" r="2.05"/><circle cx="427.9" cy="335.7" r="2.05"/><circle cx="381.1" cy="330.9" r="2.05"/><circle cx="399.3" cy="332.4" r="2.05"/><circle cx="418.8" cy="320.7" r="2.05"/><circle cx="389.8" cy="378.8" r="2.05"/><circle cx="414.1" cy="330.8" r="2.05"/><circle cx="363.3" cy="370.4" r="2.05"/><circle cx="368.5" cy="382.5" r="2.05"/><circle cx="358.1" cy="383.4" r="2.05"/><circle cx="391.2" cy="356.0" r="2.05"/><circle cx="366.3" cy="337.5" r="2.05"/><circle cx="354.6" cy="373.8" r="2.05"/><circle cx="419.5" cy="312.4" r="2.05"/><circle cx="395.7" cy="354.2" r="2.05"/><circle cx="464.4" cy="305.7" r="2.05"/><circle cx="426.0" cy="344.4" r="2.05"/><circle cx="374.3" cy="387.3" r="2.05"/><circle cx="367.8" cy="375.2" r="2.05"/><circle cx="413.8" cy="312.6" r="2.05"/><circle cx="366.0" cy="369.9" r="2.05"/><circle cx="449.3" cy="341.0" r="2.05"/><circle cx="401.4" cy="361.8" r="2.05"/><circle cx="357.7" cy="376.1" r="2.05"/><circle cx="399.4" cy="314.6" r="2.05"/><circle cx="379.4" cy="338.2" r="2.05"/><circle cx="363.8" cy="350.9" r="2.05"/><circle cx="413.9" cy="362.2" r="2.05"/><circle cx="370.2" cy="361.0" r="2.05"/><circle cx="422.7" cy="365.5" r="2.05"/><circle cx="412.7" cy="337.1" r="2.05"/><circle cx="392.8" cy="328.3" r="2.05"/><circle cx="367.3" cy="352.1" r="2.05"/><circle cx="427.8" cy="328.5" r="2.05"/><circle cx="386.3" cy="334.3" r="2.05"/><circle cx="415.7" cy="358.0" r="2.05"/><circle cx="419.8" cy="328.7" r="2.05"/><circle cx="379.8" cy="373.1" r="2.05"/><circle cx="400.9" cy="351.3" r="2.05"/><circle cx="362.3" cy="377.0" r="2.05"/><circle cx="395.1" cy="358.6" r="2.05"/><circle cx="422.9" cy="328.7" r="2.05"/><circle cx="441.3" cy="321.5" r="2.05"/><circle cx="389.5" cy="376.6" r="2.05"/><circle cx="391.5" cy="349.9" r="2.05"/><circle cx="444.0" cy="342.9" r="2.05"/><circle cx="420.8" cy="347.0" r="2.05"/><circle cx="421.0" cy="357.5" r="2.05"/><circle cx="397.3" cy="336.8" r="2.05"/><circle cx="391.1" cy="320.6" r="2.05"/><circle cx="371.0" cy="374.4" r="2.05"/><circle cx="437.0" cy="321.0" r="2.05"/><circle cx="435.9" cy="309.1" r="2.05"/><circle cx="426.3" cy="307.3" r="2.05"/><circle cx="403.8" cy="373.2" r="2.05"/><circle cx="449.8" cy="309.7" r="2.05"/><circle cx="379.1" cy="368.1" r="2.05"/><circle cx="417.4" cy="344.1" r="2.05"/><circle cx="389.0" cy="367.8" r="2.05"/><circle cx="385.0" cy="374.5" r="2.05"/><circle cx="401.1" cy="376.4" r="2.05"/><circle cx="426.3" cy="315.9" r="2.05"/><circle cx="385.0" cy="373.5" r="2.05"/><circle cx="420.6" cy="338.2" r="2.05"/><circle cx="354.6" cy="363.7" r="2.05"/><circle cx="407.5" cy="329.4" r="2.05"/><circle cx="419.8" cy="355.9" r="2.05"/><circle cx="363.0" cy="379.9" r="2.05"/><circle cx="387.4" cy="382.2" r="2.05"/><circle cx="382.0" cy="349.0" r="2.05"/><circle cx="396.2" cy="365.9" r="2.05"/><circle cx="421.3" cy="366.9" r="2.05"/><circle cx="419.0" cy="332.0" r="2.05"/><circle cx="410.5" cy="313.6" r="2.05"/><circle cx="379.1" cy="337.9" r="2.05"/><circle cx="365.3" cy="347.2" r="2.05"/><circle cx="424.8" cy="313.2" r="2.05"/><circle cx="423.2" cy="327.8" r="2.05"/><circle cx="369.5" cy="386.1" r="2.05"/><circle cx="398.8" cy="346.9" r="2.05"/><circle cx="457.0" cy="332.7" r="2.05"/><circle cx="455.9" cy="305.8" r="2.05"/><circle cx="381.4" cy="345.2" r="2.05"/><circle cx="390.2" cy="325.1" r="2.05"/><circle cx="437.9" cy="312.1" r="2.05"/><circle cx="346.8" cy="375.4" r="2.05"/><circle cx="406.9" cy="331.4" r="2.05"/><circle cx="389.8" cy="364.6" r="2.05"/><circle cx="424.9" cy="311.9" r="2.05"/><circle cx="357.8" cy="385.1" r="2.05"/><circle cx="394.7" cy="318.3" r="2.05"/><circle cx="407.8" cy="358.6" r="2.05"/><circle cx="396.6" cy="350.4" r="2.05"/><circle cx="359.7" cy="372.2" r="2.05"/><circle cx="365.3" cy="368.4" r="2.05"/><circle cx="419.9" cy="331.7" r="2.05"/><circle cx="362.7" cy="382.6" r="2.05"/><circle cx="416.7" cy="319.6" r="2.05"/><circle cx="434.9" cy="333.5" r="2.05"/><circle cx="418.9" cy="346.7" r="2.05"/><circle cx="430.4" cy="344.8" r="2.05"/><circle cx="421.4" cy="345.7" r="2.05"/><circle cx="367.7" cy="360.2" r="2.05"/><circle cx="454.3" cy="326.0" r="2.05"/><circle cx="375.9" cy="344.2" r="2.05"/><circle cx="413.0" cy="315.6" r="2.05"/><circle cx="432.9" cy="307.1" r="2.05"/><circle cx="456.9" cy="307.0" r="2.05"/><circle cx="415.9" cy="367.0" r="2.05"/><circle cx="368.4" cy="384.9" r="2.05"/><circle cx="453.8" cy="304.7" r="2.05"/><circle cx="371.5" cy="345.7" r="2.05"/><circle cx="366.5" cy="382.8" r="2.05"/><circle cx="377.2" cy="374.3" r="2.05"/><circle cx="423.0" cy="345.8" r="2.05"/><circle cx="458.8" cy="314.0" r="2.05"/><circle cx="424.5" cy="306.1" r="2.05"/><circle cx="346.7" cy="369.8" r="2.05"/><circle cx="395.2" cy="366.3" r="2.05"/><circle cx="424.5" cy="302.8" r="2.05"/><circle cx="429.5" cy="329.9" r="2.05"/><circle cx="377.0" cy="394.2" r="2.05"/><circle cx="464.2" cy="314.5" r="2.05"/><circle cx="400.0" cy="330.0" r="2.05"/><circle cx="417.4" cy="314.2" r="2.05"/><circle cx="405.6" cy="377.9" r="2.05"/><circle cx="405.7" cy="306.1" r="2.05"/><circle cx="437.4" cy="298.1" r="2.05"/><circle cx="412.5" cy="352.4" r="2.05"/><circle cx="405.1" cy="337.0" r="2.05"/><circle cx="396.4" cy="368.2" r="2.05"/><circle cx="371.0" cy="337.7" r="2.05"/><circle cx="355.5" cy="382.0" r="2.05"/><circle cx="391.6" cy="369.7" r="2.05"/><circle cx="358.9" cy="368.7" r="2.05"/><circle cx="449.2" cy="301.0" r="2.05"/><circle cx="372.1" cy="375.4" r="2.05"/><circle cx="359.0" cy="385.0" r="2.05"/><circle cx="375.2" cy="354.6" r="2.05"/><circle cx="391.1" cy="328.6" r="2.05"/><circle cx="409.7" cy="339.5" r="2.05"/><circle cx="406.2" cy="330.6" r="2.05"/><circle cx="415.6" cy="307.3" r="2.05"/><circle cx="394.9" cy="344.7" r="2.05"/><circle cx="441.6" cy="326.3" r="2.05"/><circle cx="379.2" cy="348.1" r="2.05"/><circle cx="453.5" cy="313.9" r="2.05"/><circle cx="416.7" cy="329.5" r="2.05"/><circle cx="379.4" cy="366.9" r="2.05"/><circle cx="411.6" cy="354.2" r="2.05"/><circle cx="446.9" cy="316.9" r="2.05"/><circle cx="412.4" cy="306.2" r="2.05"/><circle cx="408.5" cy="305.8" r="2.05"/><circle cx="440.1" cy="327.6" r="2.05"/><circle cx="395.6" cy="322.0" r="2.05"/><circle cx="437.0" cy="327.7" r="2.05"/><circle cx="374.4" cy="340.6" r="2.05"/><circle cx="378.0" cy="358.2" r="2.05"/><circle cx="356.8" cy="354.3" r="2.05"/><circle cx="435.2" cy="338.1" r="2.05"/><circle cx="396.3" cy="312.5" r="2.05"/><circle cx="400.0" cy="335.6" r="2.05"/><circle cx="411.3" cy="321.4" r="2.05"/><circle cx="393.0" cy="361.0" r="2.05"/><circle cx="414.7" cy="359.7" r="2.05"/><circle cx="358.5" cy="379.2" r="2.05"/><circle cx="380.8" cy="338.7" r="2.05"/><circle cx="386.9" cy="324.6" r="2.05"/><circle cx="389.2" cy="363.9" r="2.05"/><circle cx="370.0" cy="363.5" r="2.05"/><circle cx="371.5" cy="352.9" r="2.05"/><circle cx="363.0" cy="361.9" r="2.05"/><circle cx="386.9" cy="335.7" r="2.05"/><circle cx="404.0" cy="374.7" r="2.05"/><circle cx="427.1" cy="360.3" r="2.05"/><circle cx="405.8" cy="370.1" r="2.05"/><circle cx="400.2" cy="338.3" r="2.05"/><circle cx="435.0" cy="308.7" r="2.05"/><circle cx="399.8" cy="369.0" r="2.05"/><circle cx="371.8" cy="346.5" r="2.05"/><circle cx="389.9" cy="354.8" r="2.05"/><circle cx="426.7" cy="308.3" r="2.05"/><circle cx="437.0" cy="319.6" r="2.05"/><circle cx="357.8" cy="361.6" r="2.05"/><circle cx="405.9" cy="342.3" r="2.05"/><circle cx="437.7" cy="316.1" r="2.05"/><circle cx="376.0" cy="377.9" r="2.05"/><circle cx="359.4" cy="386.9" r="2.05"/><circle cx="415.8" cy="313.7" r="2.05"/><circle cx="422.9" cy="324.1" r="2.05"/><circle cx="415.0" cy="353.3" r="2.05"/><circle cx="430.0" cy="302.3" r="2.05"/><circle cx="443.7" cy="336.0" r="2.05"/><circle cx="431.3" cy="325.4" r="2.05"/><circle cx="455.4" cy="305.7" r="2.05"/><circle cx="458.1" cy="317.7" r="2.05"/><circle cx="431.3" cy="332.0" r="2.05"/><circle cx="417.3" cy="353.7" r="2.05"/><circle cx="402.2" cy="373.6" r="2.05"/><circle cx="422.9" cy="324.6" r="2.05"/><circle cx="398.0" cy="312.7" r="2.05"/><circle cx="452.4" cy="330.3" r="2.05"/><circle cx="434.1" cy="345.8" r="2.05"/><circle cx="372.3" cy="335.7" r="2.05"/><circle cx="356.6" cy="361.9" r="2.05"/><circle cx="369.7" cy="376.4" r="2.05"/><circle cx="374.6" cy="385.4" r="2.05"/><circle cx="391.3" cy="334.6" r="2.05"/><circle cx="363.6" cy="384.7" r="2.05"/><circle cx="382.5" cy="333.9" r="2.05"/><circle cx="446.8" cy="317.9" r="2.05"/><circle cx="450.1" cy="322.9" r="2.05"/><circle cx="428.2" cy="349.9" r="2.05"/><circle cx="348.7" cy="363.1" r="2.05"/><circle cx="351.3" cy="370.1" r="2.05"/><circle cx="410.8" cy="326.9" r="2.05"/><circle cx="431.9" cy="303.8" r="2.05"/><circle cx="404.8" cy="324.0" r="2.05"/><circle cx="401.0" cy="358.0" r="2.05"/><circle cx="420.8" cy="331.5" r="2.05"/><circle cx="415.5" cy="315.0" r="2.05"/><circle cx="434.8" cy="306.4" r="2.05"/><circle cx="436.0" cy="325.5" r="2.05"/><circle cx="429.1" cy="323.0" r="2.05"/><circle cx="441.5" cy="347.9" r="2.05"/><circle cx="387.3" cy="373.7" r="2.05"/><circle cx="368.6" cy="338.4" r="2.05"/><circle cx="377.1" cy="369.6" r="2.05"/><circle cx="365.6" cy="348.4" r="2.05"/><circle cx="401.0" cy="323.0" r="2.05"/><circle cx="440.9" cy="342.7" r="2.05"/><circle cx="401.5" cy="370.3" r="2.05"/><circle cx="442.8" cy="301.7" r="2.05"/><circle cx="384.6" cy="363.0" r="2.05"/><circle cx="353.2" cy="390.8" r="2.05"/><circle cx="370.3" cy="363.5" r="2.05"/><circle cx="356.1" cy="371.7" r="2.05"/><circle cx="374.4" cy="328.4" r="2.05"/><circle cx="413.4" cy="328.8" r="2.05"/><circle cx="394.5" cy="345.7" r="2.05"/><circle cx="361.6" cy="362.8" r="2.05"/><circle cx="346.5" cy="367.4" r="2.05"/><circle cx="422.9" cy="364.4" r="2.05"/><circle cx="398.2" cy="328.9" r="2.05"/><circle cx="437.1" cy="346.1" r="2.05"/><circle cx="408.8" cy="353.4" r="2.05"/><circle cx="405.8" cy="353.8" r="2.05"/><circle cx="359.0" cy="380.6" r="2.05"/><circle cx="407.4" cy="313.0" r="2.05"/><circle cx="387.5" cy="387.9" r="2.05"/><circle cx="384.5" cy="353.1" r="2.05"/><circle cx="374.4" cy="378.8" r="2.05"/><circle cx="359.9" cy="399.7" r="2.05"/><circle cx="434.0" cy="315.8" r="2.05"/><circle cx="365.1" cy="348.2" r="2.05"/><circle cx="447.7" cy="311.9" r="2.05"/><circle cx="426.1" cy="304.5" r="2.05"/><circle cx="381.7" cy="359.8" r="2.05"/><circle cx="444.1" cy="306.3" r="2.05"/><circle cx="436.3" cy="331.1" r="2.05"/><circle cx="432.8" cy="313.9" r="2.05"/><circle cx="372.0" cy="344.0" r="2.05"/><circle cx="359.2" cy="356.3" r="2.05"/><circle cx="365.7" cy="374.8" r="2.05"/><circle cx="432.8" cy="312.7" r="2.05"/><circle cx="405.3" cy="312.7" r="2.05"/><circle cx="358.8" cy="379.7" r="2.05"/><circle cx="382.4" cy="387.2" r="2.05"/><circle cx="375.6" cy="381.7" r="2.05"/><circle cx="372.5" cy="364.8" r="2.05"/><circle cx="442.0" cy="347.2" r="2.05"/><circle cx="410.8" cy="351.4" r="2.05"/><circle cx="397.7" cy="345.0" r="2.05"/><circle cx="395.0" cy="320.6" r="2.05"/><circle cx="417.6" cy="320.3" r="2.05"/><circle cx="421.7" cy="340.0" r="2.05"/><circle cx="403.7" cy="368.3" r="2.05"/><circle cx="427.1" cy="343.2" r="2.05"/><circle cx="366.5" cy="351.2" r="2.05"/><circle cx="401.3" cy="380.6" r="2.05"/><circle cx="401.2" cy="365.1" r="2.05"/><circle cx="421.1" cy="332.5" r="2.05"/><circle cx="394.0" cy="336.8" r="2.05"/><circle cx="441.0" cy="296.3" r="2.05"/><circle cx="435.3" cy="334.1" r="2.05"/><circle cx="370.9" cy="375.5" r="2.05"/><circle cx="397.5" cy="311.4" r="2.05"/><circle cx="420.8" cy="296.7" r="2.05"/><circle cx="389.6" cy="376.0" r="2.05"/><circle cx="447.5" cy="314.2" r="2.05"/><circle cx="395.9" cy="334.5" r="2.05"/><circle cx="382.2" cy="337.2" r="2.05"/><circle cx="376.4" cy="376.4" r="2.05"/><circle cx="427.3" cy="320.5" r="2.05"/><circle cx="385.4" cy="330.9" r="2.05"/><circle cx="375.7" cy="365.4" r="2.05"/><circle cx="374.3" cy="357.7" r="2.05"/><circle cx="454.8" cy="320.1" r="2.05"/><circle cx="443.5" cy="304.2" r="2.05"/><circle cx="420.6" cy="329.5" r="2.05"/><circle cx="424.3" cy="341.2" r="2.05"/><circle cx="395.0" cy="322.6" r="2.05"/><circle cx="349.2" cy="371.1" r="2.05"/><circle cx="378.9" cy="378.2" r="2.05"/><circle cx="349.4" cy="363.5" r="2.05"/><circle cx="433.1" cy="336.7" r="2.05"/><circle cx="387.9" cy="382.2" r="2.05"/><circle cx="395.7" cy="377.6" r="2.05"/><circle cx="373.6" cy="339.6" r="2.05"/><circle cx="375.9" cy="367.2" r="2.05"/><circle cx="412.8" cy="336.6" r="2.05"/><circle cx="407.3" cy="373.2" r="2.05"/><circle cx="377.8" cy="384.6" r="2.05"/><circle cx="400.2" cy="344.1" r="2.05"/><circle cx="399.6" cy="323.2" r="2.05"/><circle cx="407.2" cy="302.8" r="2.05"/><circle cx="406.4" cy="333.3" r="2.05"/><circle cx="416.3" cy="327.8" r="2.05"/><circle cx="391.7" cy="357.1" r="2.05"/><circle cx="364.1" cy="372.1" r="2.05"/><circle cx="372.8" cy="355.0" r="2.05"/><circle cx="351.4" cy="385.0" r="2.05"/><circle cx="419.7" cy="333.3" r="2.05"/><circle cx="423.1" cy="337.2" r="2.05"/><circle cx="400.4" cy="309.9" r="2.05"/><circle cx="400.8" cy="342.8" r="2.05"/><circle cx="402.2" cy="360.3" r="2.05"/><circle cx="425.9" cy="346.3" r="2.05"/><circle cx="399.7" cy="351.2" r="2.05"/><circle cx="414.3" cy="319.4" r="2.05"/><circle cx="442.2" cy="319.3" r="2.05"/><circle cx="370.9" cy="349.9" r="2.05"/><circle cx="422.7" cy="355.8" r="2.05"/><circle cx="414.1" cy="367.5" r="2.05"/><circle cx="368.3" cy="380.1" r="2.05"/><circle cx="409.2" cy="341.8" r="2.05"/><circle cx="381.3" cy="326.5" r="2.05"/><circle cx="444.8" cy="329.9" r="2.05"/><circle cx="381.5" cy="368.1" r="2.05"/><circle cx="374.3" cy="351.8" r="2.05"/><circle cx="406.1" cy="327.1" r="2.05"/><circle cx="354.2" cy="374.1" r="2.05"/><circle cx="426.8" cy="337.7" r="2.05"/><circle cx="405.5" cy="330.4" r="2.05"/><circle cx="441.6" cy="298.9" r="2.05"/><circle cx="451.9" cy="305.6" r="2.05"/><circle cx="440.7" cy="299.3" r="2.05"/><circle cx="356.0" cy="365.6" r="2.05"/><circle cx="367.2" cy="362.2" r="2.05"/><circle cx="384.9" cy="375.4" r="2.05"/><circle cx="432.4" cy="341.7" r="2.05"/><circle cx="365.1" cy="359.1" r="2.05"/><circle cx="431.1" cy="297.8" r="2.05"/><circle cx="426.3" cy="323.1" r="2.05"/><circle cx="353.1" cy="372.8" r="2.05"/><circle cx="398.6" cy="339.9" r="2.05"/><circle cx="419.8" cy="326.7" r="2.05"/><circle cx="454.9" cy="299.0" r="2.05"/><circle cx="386.4" cy="366.7" r="2.05"/><circle cx="435.6" cy="332.4" r="2.05"/><circle cx="400.0" cy="380.1" r="2.05"/><circle cx="430.2" cy="301.4" r="2.05"/><circle cx="434.2" cy="348.5" r="2.05"/><circle cx="387.7" cy="383.7" r="2.05"/><circle cx="410.5" cy="295.5" r="2.05"/><circle cx="382.6" cy="326.0" r="2.05"/><circle cx="414.9" cy="327.7" r="2.05"/><circle cx="420.5" cy="334.3" r="2.05"/><circle cx="433.0" cy="327.4" r="2.05"/><circle cx="409.8" cy="352.7" r="2.05"/><circle cx="358.8" cy="379.4" r="2.05"/><circle cx="364.6" cy="344.9" r="2.05"/><circle cx="419.4" cy="341.1" r="2.05"/><circle cx="388.8" cy="346.6" r="2.05"/><circle cx="419.4" cy="350.9" r="2.05"/><circle cx="445.5" cy="296.8" r="2.05"/><circle cx="350.3" cy="379.2" r="2.05"/><circle cx="431.2" cy="337.5" r="2.05"/><circle cx="412.9" cy="314.8" r="2.05"/><circle cx="354.6" cy="393.7" r="2.05"/><circle cx="394.9" cy="322.8" r="2.05"/><circle cx="380.5" cy="357.6" r="2.05"/><circle cx="423.6" cy="307.9" r="2.05"/><circle cx="407.4" cy="371.4" r="2.05"/><circle cx="452.1" cy="298.4" r="2.05"/><circle cx="438.6" cy="313.9" r="2.05"/><circle cx="388.8" cy="362.1" r="2.05"/><circle cx="434.5" cy="339.0" r="2.05"/><circle cx="433.7" cy="313.6" r="2.05"/><circle cx="438.6" cy="322.1" r="2.05"/><circle cx="407.4" cy="375.4" r="2.05"/><circle cx="379.5" cy="384.1" r="2.05"/><circle cx="455.1" cy="314.1" r="2.05"/><circle cx="433.2" cy="303.6" r="2.05"/><circle cx="398.1" cy="338.0" r="2.05"/><circle cx="388.6" cy="354.2" r="2.05"/><circle cx="379.4" cy="376.6" r="2.05"/><circle cx="441.6" cy="351.4" r="2.05"/><circle cx="432.5" cy="345.8" r="2.05"/><circle cx="368.6" cy="389.9" r="2.05"/><circle cx="362.5" cy="357.7" r="2.05"/><circle cx="422.0" cy="307.1" r="2.05"/><circle cx="422.1" cy="363.2" r="2.05"/><circle cx="421.2" cy="303.3" r="2.05"/><circle cx="360.8" cy="354.2" r="2.05"/><circle cx="449.4" cy="340.9" r="2.05"/><circle cx="451.1" cy="315.9" r="2.05"/><circle cx="448.4" cy="308.1" r="2.05"/><circle cx="418.1" cy="330.9" r="2.05"/><circle cx="403.3" cy="348.6" r="2.05"/><circle cx="456.9" cy="315.3" r="2.05"/><circle cx="379.3" cy="342.4" r="2.05"/><circle cx="404.9" cy="361.9" r="2.05"/><circle cx="422.3" cy="327.6" r="2.05"/><circle cx="373.6" cy="344.0" r="2.05"/><circle cx="402.4" cy="331.0" r="2.05"/><circle cx="365.4" cy="352.4" r="2.05"/><circle cx="391.9" cy="334.6" r="2.05"/><circle cx="357.8" cy="388.3" r="2.05"/><circle cx="361.5" cy="394.6" r="2.05"/><circle cx="395.8" cy="318.6" r="2.05"/><circle cx="425.0" cy="352.3" r="2.05"/><circle cx="447.3" cy="318.9" r="2.05"/><circle cx="433.3" cy="294.4" r="2.05"/><circle cx="378.5" cy="382.0" r="2.05"/><circle cx="378.2" cy="364.3" r="2.05"/><circle cx="405.1" cy="348.7" r="2.05"/><circle cx="384.4" cy="327.9" r="2.05"/><circle cx="397.1" cy="317.0" r="2.05"/><circle cx="414.5" cy="345.2" r="2.05"/><circle cx="398.0" cy="325.1" r="2.05"/><circle cx="398.1" cy="374.5" r="2.05"/><circle cx="375.6" cy="361.3" r="2.05"/><circle cx="354.4" cy="392.6" r="2.05"/><circle cx="413.9" cy="324.2" r="2.05"/><circle cx="391.7" cy="362.2" r="2.05"/><circle cx="406.6" cy="324.7" r="2.05"/><circle cx="423.3" cy="314.6" r="2.05"/><circle cx="347.4" cy="373.4" r="2.05"/><circle cx="408.1" cy="315.7" r="2.05"/><circle cx="416.8" cy="330.9" r="2.05"/><circle cx="420.8" cy="353.1" r="2.05"/><circle cx="394.4" cy="359.1" r="2.05"/><circle cx="434.3" cy="300.1" r="2.05"/><circle cx="387.9" cy="318.7" r="2.05"/><circle cx="407.3" cy="332.9" r="2.05"/><circle cx="362.5" cy="363.9" r="2.05"/><circle cx="389.7" cy="364.3" r="2.05"/><circle cx="399.2" cy="324.6" r="2.05"/><circle cx="388.8" cy="382.6" r="2.05"/><circle cx="346.0" cy="371.4" r="2.05"/><circle cx="419.6" cy="351.3" r="2.05"/><circle cx="369.6" cy="382.5" r="2.05"/><circle cx="378.8" cy="374.0" r="2.05"/><circle cx="415.3" cy="337.6" r="2.05"/><circle cx="445.0" cy="327.8" r="2.05"/><circle cx="408.3" cy="324.0" r="2.05"/><circle cx="447.6" cy="308.0" r="2.05"/><circle cx="442.0" cy="339.8" r="2.05"/><circle cx="402.5" cy="363.3" r="2.05"/><circle cx="370.3" cy="339.4" r="2.05"/><circle cx="422.3" cy="334.2" r="2.05"/><circle cx="453.3" cy="318.4" r="2.05"/><circle cx="419.7" cy="322.8" r="2.05"/><circle cx="403.9" cy="366.5" r="2.05"/><circle cx="438.1" cy="308.9" r="2.05"/><circle cx="361.9" cy="378.4" r="2.05"/><circle cx="381.9" cy="358.2" r="2.05"/><circle cx="353.5" cy="377.4" r="2.05"/><circle cx="369.2" cy="365.2" r="2.05"/><circle cx="409.3" cy="363.6" r="2.05"/><circle cx="374.0" cy="358.3" r="2.05"/><circle cx="373.8" cy="379.2" r="2.05"/><circle cx="413.8" cy="313.6" r="2.05"/><circle cx="404.9" cy="362.3" r="2.05"/><circle cx="433.7" cy="348.0" r="2.05"/><circle cx="411.8" cy="317.0" r="2.05"/><circle cx="350.9" cy="376.7" r="2.05"/><circle cx="417.3" cy="361.8" r="2.05"/><circle cx="391.0" cy="314.3" r="2.05"/><circle cx="408.1" cy="361.4" r="2.05"/><circle cx="386.6" cy="340.7" r="2.05"/><circle cx="360.7" cy="348.7" r="2.05"/><circle cx="404.3" cy="366.1" r="2.05"/><circle cx="373.2" cy="357.0" r="2.05"/><circle cx="357.1" cy="389.6" r="2.05"/><circle cx="432.6" cy="323.2" r="2.05"/><circle cx="450.5" cy="292.8" r="2.05"/><circle cx="414.2" cy="372.0" r="2.05"/><circle cx="381.5" cy="387.0" r="2.05"/><circle cx="418.6" cy="315.2" r="2.05"/><circle cx="370.6" cy="345.7" r="2.05"/><circle cx="442.1" cy="339.5" r="2.05"/><circle cx="354.8" cy="357.6" r="2.05"/><circle cx="452.9" cy="305.7" r="2.05"/><circle cx="399.0" cy="337.0" r="2.05"/><circle cx="353.3" cy="365.4" r="2.05"/><circle cx="361.4" cy="355.0" r="2.05"/><circle cx="359.6" cy="368.3" r="2.05"/><circle cx="397.4" cy="358.9" r="2.05"/><circle cx="365.7" cy="352.7" r="2.05"/><circle cx="379.4" cy="369.3" r="2.05"/><circle cx="399.0" cy="337.6" r="2.05"/><circle cx="460.8" cy="303.8" r="2.05"/><circle cx="416.2" cy="372.3" r="2.05"/><circle cx="443.9" cy="338.0" r="2.05"/><circle cx="354.1" cy="377.9" r="2.05"/><circle cx="359.1" cy="358.2" r="2.05"/><circle cx="420.9" cy="350.1" r="2.05"/><circle cx="420.3" cy="322.7" r="2.05"/><circle cx="392.1" cy="365.2" r="2.05"/><circle cx="441.3" cy="309.9" r="2.05"/><circle cx="383.4" cy="334.3" r="2.05"/><circle cx="435.3" cy="334.0" r="2.05"/><circle cx="423.1" cy="329.3" r="2.05"/><circle cx="404.7" cy="361.9" r="2.05"/><circle cx="382.3" cy="365.1" r="2.05"/><circle cx="425.9" cy="357.8" r="2.05"/><circle cx="397.0" cy="368.5" r="2.05"/><circle cx="438.2" cy="341.2" r="2.05"/><circle cx="380.7" cy="373.5" r="2.05"/><circle cx="404.3" cy="326.8" r="2.05"/><circle cx="403.0" cy="368.5" r="2.05"/><circle cx="364.6" cy="363.3" r="2.05"/><circle cx="408.1" cy="346.8" r="2.05"/><circle cx="449.5" cy="325.1" r="2.05"/><circle cx="400.0" cy="371.1" r="2.05"/><circle cx="423.8" cy="328.2" r="2.05"/><circle cx="353.4" cy="390.9" r="2.05"/><circle cx="389.7" cy="340.5" r="2.05"/><circle cx="369.2" cy="385.3" r="2.05"/><circle cx="425.0" cy="360.3" r="2.05"/><circle cx="397.1" cy="360.9" r="2.05"/><circle cx="402.3" cy="322.5" r="2.05"/><circle cx="413.8" cy="355.8" r="2.05"/><circle cx="392.8" cy="371.7" r="2.05"/><circle cx="386.7" cy="346.8" r="2.05"/><circle cx="412.7" cy="359.8" r="2.05"/><circle cx="429.3" cy="308.6" r="2.05"/><circle cx="437.2" cy="337.8" r="2.05"/><circle cx="425.6" cy="330.0" r="2.05"/><circle cx="390.8" cy="355.0" r="2.05"/><circle cx="352.8" cy="379.8" r="2.05"/><circle cx="389.8" cy="348.3" r="2.05"/><circle cx="397.3" cy="373.2" r="2.05"/><circle cx="397.8" cy="321.3" r="2.05"/><circle cx="414.3" cy="298.1" r="2.05"/><circle cx="381.1" cy="368.3" r="2.05"/><circle cx="407.3" cy="304.5" r="2.05"/><circle cx="404.4" cy="331.0" r="2.05"/><circle cx="420.3" cy="345.3" r="2.05"/><circle cx="444.8" cy="341.7" r="2.05"/><circle cx="420.0" cy="343.0" r="2.05"/><circle cx="444.8" cy="327.3" r="2.05"/><circle cx="393.4" cy="320.1" r="2.05"/><circle cx="389.9" cy="363.3" r="2.05"/><circle cx="446.1" cy="333.9" r="2.05"/><circle cx="364.4" cy="373.1" r="2.05"/><circle cx="401.9" cy="376.1" r="2.05"/><circle cx="410.3" cy="340.9" r="2.05"/><circle cx="399.6" cy="363.4" r="2.05"/><circle cx="408.1" cy="310.2" r="2.05"/><circle cx="385.4" cy="333.6" r="2.05"/><circle cx="433.2" cy="314.9" r="2.05"/><circle cx="352.6" cy="391.1" r="2.05"/><circle cx="436.6" cy="317.7" r="2.05"/><circle cx="395.2" cy="358.1" r="2.05"/><circle cx="384.6" cy="364.9" r="2.05"/><circle cx="382.6" cy="330.7" r="2.05"/><circle cx="363.5" cy="385.3" r="2.05"/><circle cx="441.9" cy="340.9" r="2.05"/><circle cx="378.0" cy="337.0" r="2.05"/><circle cx="417.4" cy="324.2" r="2.05"/><circle cx="395.8" cy="359.5" r="2.05"/><circle cx="386.1" cy="368.0" r="2.05"/><circle cx="401.5" cy="355.4" r="2.05"/><circle cx="367.7" cy="332.9" r="2.05"/><circle cx="372.0" cy="376.4" r="2.05"/><circle cx="410.7" cy="350.5" r="2.05"/><circle cx="427.8" cy="305.6" r="2.05"/><circle cx="444.2" cy="322.3" r="2.05"/><circle cx="403.4" cy="342.4" r="2.05"/><circle cx="422.8" cy="301.9" r="2.05"/><circle cx="454.5" cy="319.0" r="2.05"/><circle cx="427.9" cy="327.0" r="2.05"/><circle cx="357.1" cy="356.4" r="2.05"/><circle cx="367.4" cy="360.4" r="2.05"/><circle cx="437.7" cy="347.9" r="2.05"/><circle cx="372.3" cy="385.0" r="2.05"/><circle cx="453.1" cy="322.9" r="2.05"/><circle cx="376.8" cy="375.6" r="2.05"/><circle cx="381.8" cy="357.0" r="2.05"/><circle cx="432.4" cy="303.8" r="2.05"/><circle cx="384.4" cy="378.1" r="2.05"/><circle cx="431.0" cy="339.6" r="2.05"/><circle cx="443.4" cy="302.3" r="2.05"/><circle cx="362.6" cy="354.8" r="2.05"/><circle cx="451.1" cy="330.3" r="2.05"/><circle cx="436.8" cy="324.1" r="2.05"/><circle cx="385.0" cy="382.3" r="2.05"/><circle cx="408.9" cy="351.5" r="2.05"/><circle cx="392.5" cy="359.0" r="2.05"/><circle cx="408.9" cy="355.2" r="2.05"/><circle cx="420.2" cy="321.0" r="2.05"/><circle cx="403.1" cy="317.3" r="2.05"/><circle cx="386.4" cy="343.1" r="2.05"/><circle cx="456.0" cy="319.0" r="2.05"/><circle cx="401.1" cy="317.5" r="2.05"/><circle cx="377.6" cy="369.8" r="2.05"/><circle cx="421.9" cy="299.5" r="2.05"/><circle cx="453.0" cy="313.2" r="2.05"/><circle cx="442.8" cy="337.0" r="2.05"/><circle cx="452.2" cy="334.1" r="2.05"/><circle cx="406.0" cy="312.7" r="2.05"/><circle cx="430.0" cy="315.7" r="2.05"/><circle cx="385.2" cy="324.2" r="2.05"/><circle cx="401.0" cy="349.9" r="2.05"/><circle cx="458.1" cy="316.4" r="2.05"/><circle cx="440.3" cy="305.6" r="2.05"/><circle cx="424.8" cy="341.7" r="2.05"/><circle cx="407.1" cy="315.2" r="2.05"/><circle cx="370.8" cy="379.9" r="2.05"/><circle cx="387.8" cy="383.8" r="2.05"/><circle cx="372.0" cy="384.9" r="2.05"/><circle cx="449.7" cy="322.6" r="2.05"/><circle cx="427.6" cy="340.3" r="2.05"/><circle cx="416.7" cy="313.0" r="2.05"/><circle cx="389.7" cy="361.0" r="2.05"/><circle cx="365.0" cy="345.0" r="2.05"/><circle cx="403.5" cy="355.9" r="2.05"/><circle cx="370.2" cy="369.9" r="2.05"/><circle cx="401.5" cy="330.5" r="2.05"/><circle cx="358.9" cy="352.0" r="2.05"/><circle cx="372.8" cy="386.8" r="2.05"/><circle cx="380.0" cy="367.8" r="2.05"/><circle cx="451.7" cy="303.3" r="2.05"/><circle cx="420.6" cy="329.5" r="2.05"/><circle cx="375.8" cy="392.3" r="2.05"/><circle cx="430.7" cy="335.7" r="2.05"/><circle cx="438.0" cy="331.5" r="2.05"/><circle cx="443.9" cy="316.6" r="2.05"/><circle cx="393.8" cy="329.7" r="2.05"/><circle cx="387.1" cy="365.2" r="2.05"/><circle cx="357.3" cy="369.6" r="2.05"/><circle cx="400.5" cy="374.8" r="2.05"/><circle cx="368.2" cy="392.5" r="2.05"/><circle cx="371.5" cy="371.5" r="2.05"/><circle cx="415.2" cy="319.9" r="2.05"/><circle cx="416.2" cy="335.5" r="2.05"/><circle cx="424.0" cy="348.2" r="2.05"/><circle cx="406.2" cy="341.8" r="2.05"/><circle cx="380.1" cy="365.8" r="2.05"/><circle cx="357.2" cy="386.9" r="2.05"/><circle cx="382.9" cy="345.5" r="2.05"/><circle cx="439.3" cy="303.4" r="2.05"/><circle cx="422.6" cy="315.3" r="2.05"/><circle cx="418.1" cy="349.2" r="2.05"/><circle cx="376.2" cy="376.8" r="2.05"/><circle cx="363.9" cy="372.9" r="2.05"/><circle cx="395.9" cy="318.8" r="2.05"/><circle cx="382.5" cy="361.4" r="2.05"/><circle cx="438.1" cy="346.5" r="2.05"/><circle cx="458.6" cy="312.5" r="2.05"/><circle cx="403.9" cy="350.2" r="2.05"/><circle cx="385.2" cy="351.0" r="2.05"/><circle cx="434.5" cy="341.9" r="2.05"/><circle cx="378.3" cy="374.9" r="2.05"/><circle cx="388.2" cy="367.5" r="2.05"/><circle cx="450.0" cy="298.4" r="2.05"/><circle cx="382.7" cy="337.6" r="2.05"/><circle cx="452.7" cy="298.9" r="2.05"/><circle cx="360.8" cy="376.4" r="2.05"/><circle cx="387.3" cy="348.8" r="2.05"/><circle cx="430.0" cy="318.5" r="2.05"/><circle cx="392.7" cy="360.4" r="2.05"/><circle cx="362.2" cy="371.2" r="2.05"/><circle cx="458.4" cy="304.8" r="2.05"/><circle cx="418.3" cy="343.8" r="2.05"/><circle cx="402.4" cy="350.4" r="2.05"/><circle cx="402.0" cy="348.3" r="2.05"/><circle cx="382.8" cy="372.2" r="2.05"/><circle cx="421.6" cy="327.2" r="2.05"/><circle cx="431.9" cy="354.1" r="2.05"/><circle cx="461.2" cy="311.2" r="2.05"/><circle cx="343.0" cy="379.6" r="2.05"/><circle cx="386.9" cy="373.0" r="2.05"/><circle cx="455.1" cy="307.0" r="2.05"/><circle cx="391.1" cy="319.5" r="2.05"/><circle cx="426.1" cy="321.8" r="2.05"/><circle cx="390.0" cy="325.4" r="2.05"/><circle cx="403.9" cy="322.3" r="2.05"/><circle cx="395.3" cy="325.8" r="2.05"/><circle cx="451.0" cy="305.2" r="2.05"/><circle cx="424.7" cy="339.2" r="2.05"/><circle cx="415.1" cy="320.4" r="2.05"/><circle cx="373.2" cy="337.6" r="2.05"/><circle cx="431.1" cy="309.6" r="2.05"/><circle cx="408.3" cy="329.0" r="2.05"/><circle cx="373.1" cy="366.1" r="2.05"/><circle cx="376.2" cy="350.7" r="2.05"/><circle cx="421.7" cy="362.0" r="2.05"/><circle cx="395.3" cy="372.9" r="2.05"/><circle cx="440.9" cy="335.7" r="2.05"/><circle cx="383.6" cy="380.9" r="2.05"/><circle cx="418.4" cy="308.7" r="2.05"/><circle cx="389.9" cy="384.8" r="2.05"/><circle cx="416.2" cy="306.2" r="2.05"/><circle cx="431.1" cy="349.0" r="2.05"/><circle cx="376.6" cy="344.5" r="2.05"/><circle cx="404.0" cy="348.5" r="2.05"/><circle cx="363.4" cy="354.6" r="2.05"/><circle cx="403.7" cy="334.4" r="2.05"/><circle cx="418.7" cy="311.0" r="2.05"/><circle cx="392.3" cy="328.2" r="2.05"/><circle cx="446.6" cy="333.3" r="2.05"/><circle cx="368.5" cy="336.7" r="2.05"/><circle cx="405.6" cy="359.7" r="2.05"/><circle cx="346.4" cy="384.9" r="2.05"/><circle cx="432.1" cy="338.8" r="2.05"/><circle cx="365.8" cy="382.1" r="2.05"/><circle cx="368.7" cy="352.6" r="2.05"/><circle cx="450.3" cy="326.2" r="2.05"/><circle cx="373.3" cy="355.7" r="2.05"/><circle cx="399.5" cy="345.8" r="2.05"/><circle cx="352.0" cy="382.7" r="2.05"/><circle cx="396.7" cy="377.0" r="2.05"/><circle cx="430.7" cy="355.7" r="2.05"/><circle cx="384.5" cy="358.3" r="2.05"/><circle cx="390.4" cy="366.5" r="2.05"/><circle cx="380.0" cy="342.2" r="2.05"/><circle cx="390.4" cy="322.6" r="2.05"/><circle cx="371.0" cy="333.5" r="2.05"/><circle cx="390.5" cy="329.7" r="2.05"/><circle cx="396.4" cy="319.7" r="2.05"/><circle cx="390.9" cy="342.6" r="2.05"/><circle cx="417.0" cy="358.4" r="2.05"/><circle cx="372.4" cy="362.0" r="2.05"/><circle cx="380.1" cy="388.0" r="2.05"/><circle cx="443.7" cy="323.2" r="2.05"/><circle cx="365.2" cy="355.8" r="2.05"/><circle cx="442.7" cy="330.1" r="2.05"/><circle cx="367.2" cy="338.0" r="2.05"/><circle cx="348.4" cy="381.0" r="2.05"/><circle cx="417.7" cy="341.7" r="2.05"/><circle cx="366.3" cy="385.7" r="2.05"/><circle cx="365.7" cy="367.2" r="2.05"/><circle cx="410.0" cy="352.7" r="2.05"/><circle cx="427.2" cy="311.1" r="2.05"/><circle cx="440.6" cy="297.4" r="2.05"/><circle cx="451.6" cy="316.1" r="2.05"/><circle cx="394.3" cy="342.5" r="2.05"/><circle cx="378.8" cy="367.1" r="2.05"/><circle cx="409.7" cy="313.1" r="2.05"/><circle cx="445.3" cy="296.8" r="2.05"/><circle cx="387.7" cy="352.9" r="2.05"/><circle cx="388.5" cy="349.6" r="2.05"/><circle cx="381.6" cy="376.4" r="2.05"/><circle cx="369.4" cy="346.4" r="2.05"/><circle cx="445.5" cy="302.8" r="2.05"/><circle cx="400.6" cy="361.3" r="2.05"/><circle cx="441.5" cy="317.7" r="2.05"/><circle cx="451.8" cy="298.2" r="2.05"/><circle cx="437.1" cy="322.0" r="2.05"/><circle cx="377.4" cy="341.2" r="2.05"/><circle cx="388.4" cy="347.3" r="2.05"/><circle cx="369.2" cy="386.1" r="2.05"/><circle cx="432.9" cy="312.5" r="2.05"/><circle cx="431.9" cy="331.6" r="2.05"/><circle cx="422.5" cy="356.4" r="2.05"/><circle cx="413.2" cy="306.9" r="2.05"/><circle cx="456.8" cy="300.3" r="2.05"/><circle cx="409.0" cy="356.8" r="2.05"/><circle cx="434.4" cy="335.0" r="2.05"/><circle cx="383.2" cy="375.2" r="2.05"/><circle cx="380.4" cy="326.8" r="2.05"/><circle cx="446.5" cy="291.9" r="2.05"/><circle cx="421.3" cy="356.5" r="2.05"/><circle cx="454.0" cy="304.6" r="2.05"/><circle cx="383.5" cy="326.2" r="2.05"/><circle cx="429.6" cy="307.4" r="2.05"/><circle cx="424.5" cy="327.6" r="2.05"/><circle cx="359.9" cy="361.1" r="2.05"/><circle cx="370.6" cy="360.0" r="2.05"/><circle cx="358.3" cy="367.9" r="2.05"/><circle cx="395.8" cy="342.5" r="2.05"/><circle cx="411.3" cy="359.3" r="2.05"/><circle cx="427.8" cy="303.4" r="2.05"/><circle cx="431.4" cy="355.4" r="2.05"/><circle cx="441.1" cy="301.9" r="2.05"/><circle cx="427.6" cy="319.6" r="2.05"/><circle cx="415.9" cy="307.4" r="2.05"/><circle cx="376.7" cy="378.7" r="2.05"/><circle cx="440.1" cy="306.9" r="2.05"/><circle cx="417.7" cy="352.2" r="2.05"/><circle cx="379.5" cy="358.7" r="2.05"/><circle cx="366.2" cy="375.4" r="2.05"/><circle cx="417.2" cy="343.6" r="2.05"/><circle cx="451.4" cy="300.3" r="2.05"/><circle cx="425.4" cy="344.3" r="2.05"/><circle cx="372.5" cy="369.3" r="2.05"/><circle cx="437.5" cy="326.4" r="2.05"/><circle cx="403.8" cy="359.4" r="2.05"/><circle cx="414.8" cy="304.0" r="2.05"/><circle cx="366.8" cy="342.6" r="2.05"/><circle cx="383.7" cy="387.6" r="2.05"/><circle cx="358.7" cy="346.8" r="2.05"/><circle cx="442.9" cy="343.0" r="2.05"/><circle cx="383.0" cy="344.9" r="2.05"/><circle cx="420.3" cy="314.3" r="2.05"/><circle cx="421.5" cy="324.2" r="2.05"/><circle cx="400.5" cy="366.0" r="2.05"/><circle cx="421.1" cy="367.2" r="2.05"/><circle cx="445.6" cy="326.1" r="2.05"/><circle cx="431.5" cy="308.1" r="2.05"/><circle cx="371.4" cy="340.6" r="2.05"/><circle cx="360.6" cy="360.8" r="2.05"/><circle cx="361.4" cy="365.5" r="2.05"/><circle cx="376.2" cy="344.4" r="2.05"/><circle cx="408.4" cy="370.6" r="2.05"/><circle cx="413.6" cy="349.8" r="2.05"/><circle cx="444.1" cy="324.5" r="2.05"/><circle cx="439.3" cy="336.4" r="2.05"/><circle cx="423.1" cy="341.3" r="2.05"/><circle cx="401.4" cy="324.0" r="2.05"/><circle cx="398.6" cy="382.0" r="2.05"/><circle cx="394.7" cy="364.7" r="2.05"/><circle cx="397.4" cy="328.2" r="2.05"/><circle cx="447.6" cy="295.3" r="2.05"/><circle cx="421.0" cy="337.4" r="2.05"/><circle cx="375.5" cy="361.4" r="2.05"/><circle cx="365.9" cy="393.3" r="2.05"/><circle cx="430.5" cy="345.2" r="2.05"/><circle cx="390.3" cy="384.7" r="2.05"/><circle cx="396.5" cy="319.9" r="2.05"/><circle cx="405.1" cy="346.9" r="2.05"/><circle cx="380.1" cy="358.5" r="2.05"/><circle cx="361.3" cy="391.0" r="2.05"/><circle cx="435.7" cy="318.8" r="2.05"/><circle cx="418.8" cy="319.2" r="2.05"/><circle cx="415.2" cy="302.4" r="2.05"/><circle cx="405.5" cy="329.9" r="2.05"/><circle cx="359.0" cy="391.8" r="2.05"/><circle cx="373.1" cy="385.8" r="2.05"/><circle cx="376.2" cy="344.5" r="2.05"/><circle cx="404.5" cy="339.7" r="2.05"/><circle cx="356.1" cy="383.5" r="2.05"/><circle cx="403.1" cy="374.2" r="2.05"/><circle cx="367.9" cy="371.5" r="2.05"/><circle cx="387.5" cy="349.3" r="2.05"/><circle cx="384.9" cy="350.5" r="2.05"/><circle cx="411.3" cy="335.4" r="2.05"/><circle cx="363.0" cy="363.1" r="2.05"/><circle cx="408.3" cy="309.4" r="2.05"/><circle cx="387.3" cy="361.7" r="2.05"/><circle cx="375.5" cy="379.0" r="2.05"/><circle cx="424.6" cy="314.4" r="2.05"/><circle cx="407.5" cy="360.0" r="2.05"/><circle cx="399.2" cy="366.5" r="2.05"/><circle cx="359.7" cy="372.3" r="2.05"/><circle cx="425.6" cy="334.8" r="2.05"/><circle cx="439.9" cy="339.4" r="2.05"/><circle cx="363.7" cy="371.2" r="2.05"/><circle cx="370.7" cy="351.7" r="2.05"/><circle cx="447.8" cy="302.7" r="2.05"/><circle cx="454.6" cy="324.0" r="2.05"/><circle cx="425.7" cy="325.9" r="2.05"/><circle cx="369.6" cy="345.2" r="2.05"/><circle cx="435.0" cy="305.8" r="2.05"/><circle cx="431.6" cy="331.1" r="2.05"/><circle cx="402.1" cy="363.2" r="2.05"/><circle cx="394.3" cy="348.4" r="2.05"/><circle cx="378.2" cy="346.9" r="2.05"/><circle cx="412.9" cy="318.8" r="2.05"/><circle cx="377.6" cy="344.2" r="2.05"/><circle cx="444.7" cy="293.6" r="2.05"/><circle cx="409.4" cy="369.0" r="2.05"/><circle cx="394.6" cy="333.9" r="2.05"/><circle cx="365.3" cy="363.7" r="2.05"/><circle cx="382.3" cy="376.6" r="2.05"/><circle cx="391.5" cy="342.3" r="2.05"/><circle cx="415.7" cy="318.4" r="2.05"/><circle cx="362.3" cy="364.5" r="2.05"/><circle cx="378.3" cy="326.7" r="2.05"/><circle cx="375.5" cy="374.3" r="2.05"/><circle cx="414.4" cy="308.3" r="2.05"/><circle cx="379.9" cy="384.2" r="2.05"/><circle cx="378.8" cy="354.0" r="2.05"/><circle cx="366.2" cy="359.9" r="2.05"/><circle cx="366.5" cy="370.7" r="2.05"/><circle cx="422.4" cy="322.3" r="2.05"/><circle cx="397.4" cy="345.0" r="2.05"/><circle cx="342.7" cy="369.8" r="2.05"/><circle cx="395.0" cy="341.4" r="2.05"/><circle cx="370.6" cy="338.9" r="2.05"/><circle cx="393.5" cy="370.5" r="2.05"/><circle cx="401.4" cy="359.3" r="2.05"/><circle cx="350.1" cy="365.1" r="2.05"/><circle cx="436.9" cy="336.1" r="2.05"/><circle cx="401.5" cy="327.1" r="2.05"/><circle cx="398.6" cy="320.9" r="2.05"/><circle cx="358.6" cy="352.3" r="2.05"/><circle cx="394.9" cy="371.2" r="2.05"/><circle cx="448.8" cy="305.2" r="2.05"/><circle cx="386.8" cy="328.1" r="2.05"/><circle cx="411.6" cy="329.1" r="2.05"/><circle cx="380.2" cy="337.3" r="2.05"/><circle cx="348.6" cy="369.6" r="2.05"/><circle cx="412.3" cy="369.1" r="2.05"/><circle cx="436.4" cy="340.1" r="2.05"/><circle cx="409.9" cy="301.0" r="2.05"/><circle cx="350.1" cy="360.9" r="2.05"/><circle cx="419.4" cy="357.6" r="2.05"/><circle cx="422.3" cy="348.5" r="2.05"/><circle cx="352.6" cy="389.0" r="2.05"/><circle cx="361.3" cy="350.8" r="2.05"/><circle cx="404.1" cy="341.0" r="2.05"/><circle cx="389.7" cy="354.2" r="2.05"/><circle cx="407.8" cy="359.4" r="2.05"/><circle cx="363.5" cy="342.2" r="2.05"/><circle cx="425.6" cy="335.7" r="2.05"/><circle cx="428.0" cy="346.8" r="2.05"/><circle cx="381.8" cy="386.9" r="2.05"/><circle cx="381.2" cy="352.6" r="2.05"/><circle cx="434.4" cy="318.3" r="2.05"/><circle cx="427.8" cy="337.0" r="2.05"/><circle cx="405.3" cy="341.2" r="2.05"/><circle cx="371.9" cy="386.4" r="2.05"/><circle cx="378.7" cy="372.8" r="2.05"/><circle cx="374.7" cy="375.8" r="2.05"/><circle cx="430.5" cy="349.5" r="2.05"/><circle cx="415.6" cy="334.0" r="2.05"/><circle cx="439.6" cy="293.7" r="2.05"/><circle cx="377.6" cy="351.2" r="2.05"/><circle cx="431.1" cy="338.1" r="2.05"/><circle cx="376.5" cy="338.7" r="2.05"/><circle cx="402.2" cy="316.9" r="2.05"/><circle cx="394.6" cy="371.8" r="2.05"/><circle cx="429.1" cy="337.9" r="2.05"/><circle cx="383.3" cy="331.7" r="2.05"/><circle cx="373.9" cy="355.0" r="2.05"/><circle cx="382.6" cy="379.3" r="2.05"/><circle cx="403.0" cy="352.6" r="2.05"/><circle cx="406.8" cy="331.6" r="2.05"/><circle cx="444.2" cy="324.7" r="2.05"/><circle cx="400.2" cy="376.7" r="2.05"/><circle cx="350.6" cy="388.3" r="2.05"/><circle cx="354.4" cy="370.0" r="2.05"/><circle cx="409.2" cy="360.6" r="2.05"/><circle cx="360.0" cy="357.8" r="2.05"/><circle cx="450.5" cy="330.6" r="2.05"/><circle cx="354.9" cy="379.4" r="2.05"/><circle cx="461.0" cy="317.8" r="2.05"/><circle cx="390.7" cy="373.3" r="2.05"/><circle cx="382.8" cy="331.8" r="2.05"/><circle cx="436.9" cy="352.3" r="2.05"/><circle cx="426.2" cy="339.3" r="2.05"/><circle cx="418.2" cy="331.0" r="2.05"/><circle cx="368.8" cy="390.8" r="2.05"/><circle cx="413.3" cy="339.6" r="2.05"/><circle cx="366.6" cy="388.7" r="2.05"/><circle cx="409.7" cy="373.6" r="2.05"/><circle cx="406.8" cy="327.8" r="2.05"/><circle cx="429.3" cy="304.2" r="2.05"/><circle cx="392.8" cy="324.1" r="2.05"/><circle cx="378.0" cy="353.3" r="2.05"/><circle cx="340.5" cy="376.5" r="2.05"/><circle cx="461.0" cy="316.8" r="2.05"/><circle cx="361.0" cy="354.6" r="2.05"/><circle cx="387.8" cy="379.5" r="2.05"/><circle cx="409.1" cy="374.2" r="2.05"/><circle cx="365.2" cy="371.1" r="2.05"/><circle cx="422.8" cy="365.9" r="2.05"/><circle cx="445.3" cy="308.1" r="2.05"/><circle cx="393.0" cy="349.6" r="2.05"/><circle cx="380.6" cy="319.9" r="2.05"/><circle cx="445.8" cy="324.2" r="2.05"/><circle cx="448.0" cy="308.4" r="2.05"/><circle cx="442.8" cy="337.2" r="2.05"/><circle cx="408.8" cy="345.0" r="2.05"/><circle cx="350.7" cy="380.0" r="2.05"/><circle cx="369.3" cy="353.5" r="2.05"/><circle cx="416.6" cy="327.6" r="2.05"/><circle cx="425.9" cy="331.9" r="2.05"/><circle cx="380.0" cy="364.8" r="2.05"/><circle cx="363.4" cy="346.8" r="2.05"/><circle cx="388.5" cy="356.6" r="2.05"/><circle cx="454.4" cy="310.0" r="2.05"/><circle cx="412.2" cy="338.8" r="2.05"/><circle cx="446.2" cy="306.4" r="2.05"/><circle cx="398.1" cy="362.1" r="2.05"/><circle cx="428.1" cy="341.9" r="2.05"/><circle cx="417.7" cy="322.7" r="2.05"/><circle cx="357.3" cy="367.3" r="2.05"/><circle cx="425.8" cy="333.7" r="2.05"/><circle cx="370.3" cy="344.3" r="2.05"/><circle cx="363.6" cy="375.2" r="2.05"/><circle cx="409.9" cy="316.6" r="2.05"/><circle cx="418.9" cy="341.0" r="2.05"/><circle cx="397.3" cy="369.3" r="2.05"/><circle cx="350.6" cy="386.5" r="2.05"/><circle cx="381.6" cy="362.9" r="2.05"/><circle cx="411.9" cy="338.6" r="2.05"/><circle cx="410.4" cy="303.7" r="2.05"/><circle cx="446.5" cy="349.7" r="2.05"/><circle cx="360.1" cy="384.3" r="2.05"/><circle cx="358.2" cy="364.5" r="2.05"/><circle cx="362.4" cy="389.3" r="2.05"/><circle cx="394.3" cy="367.3" r="2.05"/><circle cx="405.2" cy="342.2" r="2.05"/><circle cx="371.6" cy="368.0" r="2.05"/><circle cx="370.7" cy="341.5" r="2.05"/><circle cx="391.1" cy="333.4" r="2.05"/><circle cx="437.0" cy="298.7" r="2.05"/><circle cx="387.2" cy="352.3" r="2.05"/><circle cx="363.3" cy="398.2" r="2.05"/><circle cx="430.0" cy="311.1" r="2.05"/><circle cx="444.2" cy="298.8" r="2.05"/><circle cx="414.1" cy="313.2" r="2.05"/><circle cx="419.8" cy="348.6" r="2.05"/><circle cx="419.5" cy="315.9" r="2.05"/><circle cx="383.1" cy="347.1" r="2.05"/><circle cx="370.1" cy="368.9" r="2.05"/><circle cx="436.4" cy="332.5" r="2.05"/><circle cx="438.2" cy="339.1" r="2.05"/><circle cx="411.7" cy="324.2" r="2.05"/><circle cx="409.9" cy="367.4" r="2.05"/><circle cx="365.7" cy="376.7" r="2.05"/><circle cx="368.7" cy="389.4" r="2.05"/><circle cx="379.7" cy="381.3" r="2.05"/><circle cx="374.9" cy="382.1" r="2.05"/><circle cx="412.4" cy="363.7" r="2.05"/><circle cx="425.8" cy="311.9" r="2.05"/><circle cx="350.2" cy="381.2" r="2.05"/><circle cx="403.8" cy="372.9" r="2.05"/><circle cx="434.6" cy="352.3" r="2.05"/><circle cx="406.5" cy="332.6" r="2.05"/><circle cx="399.1" cy="318.7" r="2.05"/><circle cx="411.8" cy="324.0" r="2.05"/><circle cx="381.4" cy="351.9" r="2.05"/><circle cx="405.5" cy="364.7" r="2.05"/><circle cx="425.8" cy="352.2" r="2.05"/><circle cx="388.6" cy="371.1" r="2.05"/><circle cx="439.9" cy="324.4" r="2.05"/><circle cx="409.2" cy="358.6" r="2.05"/><circle cx="392.7" cy="360.8" r="2.05"/><circle cx="442.2" cy="337.5" r="2.05"/><circle cx="431.8" cy="339.4" r="2.05"/><circle cx="450.6" cy="327.6" r="2.05"/><circle cx="376.0" cy="378.4" r="2.05"/><circle cx="447.2" cy="295.2" r="2.05"/><circle cx="450.5" cy="300.0" r="2.05"/><circle cx="437.4" cy="330.3" r="2.05"/><circle cx="391.3" cy="345.5" r="2.05"/><circle cx="429.4" cy="324.8" r="2.05"/><circle cx="390.7" cy="343.0" r="2.05"/><circle cx="356.1" cy="354.4" r="2.05"/><circle cx="386.8" cy="364.5" r="2.05"/><circle cx="407.3" cy="372.5" r="2.05"/><circle cx="372.0" cy="370.3" r="2.05"/><circle cx="438.5" cy="317.4" r="2.05"/><circle cx="365.3" cy="351.7" r="2.05"/><circle cx="399.7" cy="331.4" r="2.05"/><circle cx="424.7" cy="336.1" r="2.05"/><circle cx="429.9" cy="323.5" r="2.05"/><circle cx="441.4" cy="342.9" r="2.05"/><circle cx="432.8" cy="313.5" r="2.05"/><circle cx="432.1" cy="316.0" r="2.05"/><circle cx="388.4" cy="363.5" r="2.05"/><circle cx="406.4" cy="334.6" r="2.05"/><circle cx="371.5" cy="361.0" r="2.05"/><circle cx="409.5" cy="370.5" r="2.05"/><circle cx="382.5" cy="344.1" r="2.05"/><circle cx="378.6" cy="381.4" r="2.05"/><circle cx="449.6" cy="334.9" r="2.05"/><circle cx="395.3" cy="327.7" r="2.05"/><circle cx="424.6" cy="351.9" r="2.05"/><circle cx="434.7" cy="302.6" r="2.05"/><circle cx="414.3" cy="347.9" r="2.05"/><circle cx="397.6" cy="378.3" r="2.05"/><circle cx="399.4" cy="314.7" r="2.05"/><circle cx="416.3" cy="302.6" r="2.05"/><circle cx="394.1" cy="362.2" r="2.05"/><circle cx="361.7" cy="365.2" r="2.05"/><circle cx="450.0" cy="299.9" r="2.05"/><circle cx="404.7" cy="366.8" r="2.05"/><circle cx="417.3" cy="366.6" r="2.05"/><circle cx="420.0" cy="343.7" r="2.05"/><circle cx="387.3" cy="345.4" r="2.05"/><circle cx="375.4" cy="340.4" r="2.05"/><circle cx="448.0" cy="329.3" r="2.05"/><circle cx="388.8" cy="339.6" r="2.05"/><circle cx="400.2" cy="360.3" r="2.05"/><circle cx="353.5" cy="373.1" r="2.05"/><circle cx="386.4" cy="357.1" r="2.05"/><circle cx="372.3" cy="364.0" r="2.05"/><circle cx="365.0" cy="372.9" r="2.05"/><circle cx="372.8" cy="392.7" r="2.05"/><circle cx="383.6" cy="341.7" r="2.05"/><circle cx="426.4" cy="348.9" r="2.05"/><circle cx="424.3" cy="308.3" r="2.05"/><circle cx="376.2" cy="382.3" r="2.05"/><circle cx="388.2" cy="314.3" r="2.05"/><circle cx="367.6" cy="356.8" r="2.05"/><circle cx="368.9" cy="375.9" r="2.05"/><circle cx="393.1" cy="348.9" r="2.05"/><circle cx="374.8" cy="362.5" r="2.05"/><circle cx="388.7" cy="363.5" r="2.05"/><circle cx="373.1" cy="363.2" r="2.05"/><circle cx="364.8" cy="375.8" r="2.05"/><circle cx="407.8" cy="324.1" r="2.05"/><circle cx="416.2" cy="360.5" r="2.05"/><circle cx="386.8" cy="324.5" r="2.05"/><circle cx="389.8" cy="362.2" r="2.05"/><circle cx="410.0" cy="326.7" r="2.05"/><circle cx="409.8" cy="316.3" r="2.05"/><circle cx="415.5" cy="339.2" r="2.05"/><circle cx="417.6" cy="328.5" r="2.05"/><circle cx="404.0" cy="317.2" r="2.05"/><circle cx="370.7" cy="352.3" r="2.05"/><circle cx="431.7" cy="349.6" r="2.05"/><circle cx="409.7" cy="315.2" r="2.05"/><circle cx="354.9" cy="370.5" r="2.05"/><circle cx="415.2" cy="353.0" r="2.05"/><circle cx="372.6" cy="357.1" r="2.05"/><circle cx="453.1" cy="323.9" r="2.05"/><circle cx="373.7" cy="345.2" r="2.05"/><circle cx="442.3" cy="351.3" r="2.05"/><circle cx="403.7" cy="362.0" r="2.05"/><circle cx="424.6" cy="326.5" r="2.05"/><circle cx="386.5" cy="381.4" r="2.05"/><circle cx="379.8" cy="353.7" r="2.05"/><circle cx="389.3" cy="343.5" r="2.05"/><circle cx="383.1" cy="376.4" r="2.05"/><circle cx="407.6" cy="362.9" r="2.05"/><circle cx="438.5" cy="330.8" r="2.05"/><circle cx="383.3" cy="382.7" r="2.05"/><circle cx="402.7" cy="323.6" r="2.05"/><circle cx="423.7" cy="316.9" r="2.05"/><circle cx="433.3" cy="313.3" r="2.05"/><circle cx="445.4" cy="321.5" r="2.05"/><circle cx="416.8" cy="334.1" r="2.05"/><circle cx="389.1" cy="388.2" r="2.05"/><circle cx="379.7" cy="358.1" r="2.05"/><circle cx="464.6" cy="303.8" r="2.05"/><circle cx="443.7" cy="324.7" r="2.05"/><circle cx="406.0" cy="325.4" r="2.05"/><circle cx="413.2" cy="336.6" r="2.05"/><circle cx="382.2" cy="365.0" r="2.05"/><circle cx="402.3" cy="333.2" r="2.05"/><circle cx="377.3" cy="335.9" r="2.05"/><circle cx="395.0" cy="323.4" r="2.05"/><circle cx="372.9" cy="389.3" r="2.05"/><circle cx="430.4" cy="309.8" r="2.05"/><circle cx="444.6" cy="333.6" r="2.05"/><circle cx="412.6" cy="361.4" r="2.05"/><circle cx="375.3" cy="348.0" r="2.05"/><circle cx="411.0" cy="351.6" r="2.05"/><circle cx="413.0" cy="320.2" r="2.05"/><circle cx="412.6" cy="312.6" r="2.05"/><circle cx="398.8" cy="330.8" r="2.05"/><circle cx="428.6" cy="306.4" r="2.05"/><circle cx="393.6" cy="344.3" r="2.05"/><circle cx="422.7" cy="342.9" r="2.05"/><circle cx="396.8" cy="378.7" r="2.05"/><circle cx="447.4" cy="299.9" r="2.05"/><circle cx="373.9" cy="390.6" r="2.05"/><circle cx="363.0" cy="353.1" r="2.05"/><circle cx="383.1" cy="337.2" r="2.05"/><circle cx="374.6" cy="334.5" r="2.05"/><circle cx="415.8" cy="363.3" r="2.05"/><circle cx="441.2" cy="297.4" r="2.05"/><circle cx="345.0" cy="381.3" r="2.05"/><circle cx="414.1" cy="349.6" r="2.05"/><circle cx="443.6" cy="291.0" r="2.05"/><circle cx="390.9" cy="343.9" r="2.05"/><circle cx="373.3" cy="337.6" r="2.05"/><circle cx="379.5" cy="350.1" r="2.05"/><circle cx="422.0" cy="330.0" r="2.05"/><circle cx="362.8" cy="371.6" r="2.05"/><circle cx="392.2" cy="337.9" r="2.05"/><circle cx="365.4" cy="348.0" r="2.05"/><circle cx="420.6" cy="352.9" r="2.05"/><circle cx="372.2" cy="376.4" r="2.05"/><circle cx="403.8" cy="344.0" r="2.05"/><circle cx="430.9" cy="301.1" r="2.05"/><circle cx="421.7" cy="356.0" r="2.05"/><circle cx="350.5" cy="369.1" r="2.05"/><circle cx="439.3" cy="322.2" r="2.05"/><circle cx="442.7" cy="340.9" r="2.05"/><circle cx="402.8" cy="355.8" r="2.05"/><circle cx="457.9" cy="307.6" r="2.05"/><circle cx="385.3" cy="379.0" r="2.05"/><circle cx="413.7" cy="329.6" r="2.05"/><circle cx="407.3" cy="374.4" r="2.05"/><circle cx="411.0" cy="339.5" r="2.05"/><circle cx="450.9" cy="324.7" r="2.05"/><circle cx="371.1" cy="361.9" r="2.05"/><circle cx="374.3" cy="386.8" r="2.05"/><circle cx="362.8" cy="355.3" r="2.05"/><circle cx="388.9" cy="360.5" r="2.05"/><circle cx="373.3" cy="371.1" r="2.05"/><circle cx="369.0" cy="392.4" r="2.05"/><circle cx="406.5" cy="362.9" r="2.05"/><circle cx="419.9" cy="324.4" r="2.05"/><circle cx="405.0" cy="361.8" r="2.05"/><circle cx="394.1" cy="335.3" r="2.05"/><circle cx="399.8" cy="356.9" r="2.05"/><circle cx="396.8" cy="328.4" r="2.05"/><circle cx="454.7" cy="313.0" r="2.05"/><circle cx="376.1" cy="337.1" r="2.05"/><circle cx="398.3" cy="327.9" r="2.05"/><circle cx="414.9" cy="356.5" r="2.05"/><circle cx="378.5" cy="376.1" r="2.05"/><circle cx="410.0" cy="361.8" r="2.05"/><circle cx="370.3" cy="390.9" r="2.05"/><circle cx="432.4" cy="302.3" r="2.05"/><circle cx="375.7" cy="339.1" r="2.05"/><circle cx="439.7" cy="325.6" r="2.05"/><circle cx="420.3" cy="341.2" r="2.05"/><circle cx="368.1" cy="342.1" r="2.05"/><circle cx="406.8" cy="312.2" r="2.05"/><circle cx="411.6" cy="309.5" r="2.05"/><circle cx="426.9" cy="309.8" r="2.05"/><circle cx="393.4" cy="321.7" r="2.05"/><circle cx="407.4" cy="350.7" r="2.05"/><circle cx="381.0" cy="326.7" r="2.05"/><circle cx="365.6" cy="348.0" r="2.05"/><circle cx="368.4" cy="386.9" r="2.05"/><circle cx="404.8" cy="335.7" r="2.05"/><circle cx="457.2" cy="302.1" r="2.05"/><circle cx="389.6" cy="351.6" r="2.05"/><circle cx="412.2" cy="323.8" r="2.05"/><circle cx="367.4" cy="376.3" r="2.05"/><circle cx="376.0" cy="384.2" r="2.05"/><circle cx="427.0" cy="339.0" r="2.05"/><circle cx="422.1" cy="344.6" r="2.05"/><circle cx="418.1" cy="367.9" r="2.05"/><circle cx="431.6" cy="316.6" r="2.05"/><circle cx="359.1" cy="365.0" r="2.05"/><circle cx="402.9" cy="353.2" r="2.05"/><circle cx="428.1" cy="308.1" r="2.05"/><circle cx="365.8" cy="359.8" r="2.05"/><circle cx="411.9" cy="371.3" r="2.05"/><circle cx="378.9" cy="346.8" r="2.05"/><circle cx="439.1" cy="316.0" r="2.05"/><circle cx="355.5" cy="374.5" r="2.05"/><circle cx="345.2" cy="386.8" r="2.05"/><circle cx="455.2" cy="317.0" r="2.05"/><circle cx="385.2" cy="344.6" r="2.05"/><circle cx="409.7" cy="336.5" r="2.05"/><circle cx="426.7" cy="345.4" r="2.05"/><circle cx="385.2" cy="331.9" r="2.05"/><circle cx="389.8" cy="367.8" r="2.05"/><circle cx="377.9" cy="331.4" r="2.05"/><circle cx="374.4" cy="363.6" r="2.05"/><circle cx="387.3" cy="356.8" r="2.05"/><circle cx="357.3" cy="362.5" r="2.05"/><circle cx="451.0" cy="297.8" r="2.05"/><circle cx="425.1" cy="326.5" r="2.05"/><circle cx="426.1" cy="317.0" r="2.05"/><circle cx="379.2" cy="342.0" r="2.05"/><circle cx="413.2" cy="347.1" r="2.05"/><circle cx="375.0" cy="343.1" r="2.05"/><circle cx="416.6" cy="335.4" r="2.05"/><circle cx="414.5" cy="309.0" r="2.05"/><circle cx="365.8" cy="350.9" r="2.05"/><circle cx="364.8" cy="372.6" r="2.05"/><circle cx="396.2" cy="347.8" r="2.05"/><circle cx="412.7" cy="348.3" r="2.05"/><circle cx="366.7" cy="379.0" r="2.05"/><circle cx="417.6" cy="312.7" r="2.05"/><circle cx="397.6" cy="343.8" r="2.05"/><circle cx="401.9" cy="347.5" r="2.05"/><circle cx="352.9" cy="384.9" r="2.05"/><circle cx="404.0" cy="326.3" r="2.05"/><circle cx="429.7" cy="309.8" r="2.05"/><circle cx="428.2" cy="325.5" r="2.05"/><circle cx="425.9" cy="318.8" r="2.05"/><circle cx="449.1" cy="324.6" r="2.05"/><circle cx="383.4" cy="365.7" r="2.05"/><circle cx="364.0" cy="375.2" r="2.05"/><circle cx="371.0" cy="342.0" r="2.05"/><circle cx="447.6" cy="323.1" r="2.05"/><circle cx="390.9" cy="370.1" r="2.05"/><circle cx="383.9" cy="379.3" r="2.05"/><circle cx="379.2" cy="356.3" r="2.05"/><circle cx="383.6" cy="380.6" r="2.05"/><circle cx="401.8" cy="350.0" r="2.05"/><circle cx="417.6" cy="346.4" r="2.05"/><circle cx="392.9" cy="345.3" r="2.05"/><circle cx="406.5" cy="357.4" r="2.05"/><circle cx="423.3" cy="352.6" r="2.05"/><circle cx="421.6" cy="308.2" r="2.05"/><circle cx="369.5" cy="387.6" r="2.05"/><circle cx="405.2" cy="376.6" r="2.05"/><circle cx="423.3" cy="336.1" r="2.05"/><circle cx="353.4" cy="383.2" r="2.05"/><circle cx="388.5" cy="387.9" r="2.05"/><circle cx="373.8" cy="358.1" r="2.05"/><circle cx="400.8" cy="348.2" r="2.05"/><circle cx="365.5" cy="377.2" r="2.05"/><circle cx="439.1" cy="335.3" r="2.05"/><circle cx="448.3" cy="312.9" r="2.05"/><circle cx="431.3" cy="307.0" r="2.05"/><circle cx="387.6" cy="334.7" r="2.05"/><circle cx="383.4" cy="369.3" r="2.05"/><circle cx="422.2" cy="344.9" r="2.05"/><circle cx="369.8" cy="343.1" r="2.05"/><circle cx="376.0" cy="355.2" r="2.05"/><circle cx="370.3" cy="355.9" r="2.05"/><circle cx="449.1" cy="304.0" r="2.05"/><circle cx="390.5" cy="371.1" r="2.05"/><circle cx="415.0" cy="327.3" r="2.05"/><circle cx="364.2" cy="386.3" r="2.05"/><circle cx="430.5" cy="315.6" r="2.05"/><circle cx="444.1" cy="313.3" r="2.05"/><circle cx="377.0" cy="367.2" r="2.05"/><circle cx="388.4" cy="358.4" r="2.05"/><circle cx="427.9" cy="300.5" r="2.05"/><circle cx="426.2" cy="307.4" r="2.05"/><circle cx="454.4" cy="315.8" r="2.05"/><circle cx="400.5" cy="346.6" r="2.05"/><circle cx="443.5" cy="323.3" r="2.05"/><circle cx="411.4" cy="319.2" r="2.05"/><circle cx="410.7" cy="367.1" r="2.05"/><circle cx="390.7" cy="376.8" r="2.05"/><circle cx="397.7" cy="358.4" r="2.05"/><circle cx="385.4" cy="340.1" r="2.05"/><circle cx="401.5" cy="365.0" r="2.05"/><circle cx="371.9" cy="379.8" r="2.05"/><circle cx="418.1" cy="305.6" r="2.05"/><circle cx="388.2" cy="352.8" r="2.05"/><circle cx="422.0" cy="323.1" r="2.05"/><circle cx="432.1" cy="315.0" r="2.05"/><circle cx="367.2" cy="380.7" r="2.05"/><circle cx="409.2" cy="344.5" r="2.05"/><circle cx="435.0" cy="310.8" r="2.05"/><circle cx="347.8" cy="372.4" r="2.05"/><circle cx="391.7" cy="367.4" r="2.05"/><circle cx="419.3" cy="331.2" r="2.05"/><circle cx="384.8" cy="359.6" r="2.05"/><circle cx="448.9" cy="314.8" r="2.05"/><circle cx="359.9" cy="356.5" r="2.05"/><circle cx="389.0" cy="364.5" r="2.05"/><circle cx="407.9" cy="358.8" r="2.05"/><circle cx="431.8" cy="357.5" r="2.05"/><circle cx="394.4" cy="325.8" r="2.05"/><circle cx="484.0" cy="246.0" r="2.05"/><circle cx="464.0" cy="284.0" r="2.05"/><circle cx="470.0" cy="302.0" r="2.05"/><circle cx="442.0" cy="275.0" r="2.05"/><circle cx="455.0" cy="340.0" r="2.05"/><circle cx="311.0" cy="383.0" r="2.05"/><circle cx="448.0" cy="286.0" r="2.05"/><circle cx="434.0" cy="283.0" r="2.05"/>
</g>
<g fill="#d7111e" stroke="#c60012" stroke-width="0.5">
<circle cx="384.7" cy="328.8" r="2.3"/><circle cx="369.7" cy="337.8" r="2.3"/><circle cx="390.1" cy="323.9" r="2.3"/><circle cx="390.2" cy="323.3" r="2.3"/><circle cx="391.7" cy="323.8" r="2.3"/><circle cx="387.2" cy="332.2" r="2.3"/><circle cx="391.2" cy="319.7" r="2.3"/><circle cx="377.9" cy="333.7" r="2.3"/><circle cx="398.9" cy="321.8" r="2.3"/><circle cx="401.4" cy="313.6" r="2.3"/><circle cx="388.4" cy="322.7" r="2.3"/><circle cx="387.4" cy="323.2" r="2.3"/><circle cx="395.1" cy="320.6" r="2.3"/><circle cx="394.7" cy="322.0" r="2.3"/><circle cx="394.1" cy="320.7" r="2.3"/><circle cx="390.7" cy="324.0" r="2.3"/><circle cx="384.7" cy="326.6" r="2.3"/><circle cx="407.9" cy="321.7" r="2.3"/><circle cx="379.1" cy="338.5" r="2.3"/><circle cx="398.0" cy="314.2" r="2.3"/><circle cx="378.6" cy="330.9" r="2.3"/><circle cx="395.1" cy="323.9" r="2.3"/><circle cx="378.0" cy="332.2" r="2.3"/><circle cx="372.1" cy="337.0" r="2.3"/><circle cx="376.6" cy="332.1" r="2.3"/><circle cx="377.5" cy="331.9" r="2.3"/><circle cx="400.5" cy="313.0" r="2.3"/><circle cx="386.1" cy="335.2" r="2.3"/><circle cx="379.8" cy="329.3" r="2.3"/><circle cx="378.7" cy="333.7" r="2.3"/><circle cx="388.8" cy="326.8" r="2.3"/><circle cx="386.3" cy="323.5" r="2.3"/><circle cx="398.1" cy="326.2" r="2.3"/><circle cx="382.3" cy="332.3" r="2.3"/><circle cx="375.0" cy="333.8" r="2.3"/><circle cx="389.5" cy="328.5" r="2.3"/><circle cx="399.7" cy="321.9" r="2.3"/><circle cx="394.9" cy="318.5" r="2.3"/><circle cx="378.6" cy="333.9" r="2.3"/><circle cx="382.1" cy="328.1" r="2.3"/><circle cx="390.5" cy="321.5" r="2.3"/><circle cx="383.5" cy="331.6" r="2.3"/><circle cx="373.3" cy="335.9" r="2.3"/><circle cx="389.9" cy="323.6" r="2.3"/><circle cx="385.2" cy="329.0" r="2.3"/><circle cx="390.1" cy="321.8" r="2.3"/><circle cx="395.9" cy="317.6" r="2.3"/><circle cx="382.2" cy="328.2" r="2.3"/><circle cx="375.5" cy="333.0" r="2.3"/><circle cx="380.1" cy="331.0" r="2.3"/><circle cx="396.4" cy="319.8" r="2.3"/><circle cx="390.5" cy="326.3" r="2.3"/><circle cx="396.4" cy="319.7" r="2.3"/><circle cx="387.4" cy="331.6" r="2.3"/><circle cx="396.9" cy="321.1" r="2.3"/><circle cx="385.0" cy="331.3" r="2.3"/><circle cx="380.3" cy="328.7" r="2.3"/><circle cx="386.7" cy="323.6" r="2.3"/><circle cx="387.3" cy="326.8" r="2.3"/><circle cx="385.0" cy="326.3" r="2.3"/><circle cx="390.0" cy="326.5" r="2.3"/><circle cx="396.4" cy="316.0" r="2.3"/><circle cx="381.6" cy="331.0" r="2.3"/><circle cx="370.5" cy="339.2" r="2.3"/><circle cx="395.6" cy="326.1" r="2.3"/><circle cx="400.8" cy="312.9" r="2.3"/><circle cx="399.0" cy="317.1" r="2.3"/><circle cx="376.2" cy="334.8" r="2.3"/><circle cx="392.9" cy="321.8" r="2.3"/><circle cx="399.7" cy="316.8" r="2.3"/><circle cx="400.2" cy="321.8" r="2.3"/><circle cx="404.0" cy="316.9" r="2.3"/><circle cx="396.7" cy="318.4" r="2.3"/><circle cx="369.2" cy="341.1" r="2.3"/><circle cx="394.1" cy="320.7" r="2.3"/><circle cx="378.9" cy="329.4" r="2.3"/><circle cx="377.4" cy="330.8" r="2.3"/><circle cx="371.2" cy="339.3" r="2.3"/><circle cx="375.5" cy="335.8" r="2.3"/><circle cx="384.2" cy="327.8" r="2.3"/><circle cx="398.4" cy="315.4" r="2.3"/><circle cx="400.3" cy="316.8" r="2.3"/><circle cx="395.5" cy="320.7" r="2.3"/><circle cx="398.9" cy="313.2" r="2.3"/><circle cx="384.3" cy="328.6" r="2.3"/><circle cx="378.9" cy="331.0" r="2.3"/><circle cx="403.5" cy="316.2" r="2.3"/><circle cx="394.5" cy="323.5" r="2.3"/><circle cx="385.3" cy="328.8" r="2.3"/><circle cx="394.5" cy="317.6" r="2.3"/><circle cx="379.2" cy="329.3" r="2.3"/><circle cx="403.0" cy="315.7" r="2.3"/><circle cx="374.2" cy="334.7" r="2.3"/><circle cx="383.7" cy="330.7" r="2.3"/><circle cx="386.1" cy="326.4" r="2.3"/><circle cx="386.9" cy="327.7" r="2.3"/><circle cx="377.1" cy="337.1" r="2.3"/><circle cx="400.8" cy="323.2" r="2.3"/><circle cx="394.4" cy="320.1" r="2.3"/><circle cx="388.7" cy="324.6" r="2.3"/><circle cx="394.2" cy="320.7" r="2.3"/><circle cx="386.1" cy="332.0" r="2.3"/><circle cx="396.8" cy="315.9" r="2.3"/><circle cx="383.8" cy="331.4" r="2.3"/><circle cx="378.3" cy="334.8" r="2.3"/><circle cx="385.1" cy="324.8" r="2.3"/><circle cx="384.7" cy="324.7" r="2.3"/><circle cx="390.4" cy="320.5" r="2.3"/><circle cx="395.5" cy="320.2" r="2.3"/><circle cx="400.3" cy="312.2" r="2.3"/><circle cx="374.5" cy="335.2" r="2.3"/><circle cx="371.4" cy="336.8" r="2.3"/><circle cx="391.0" cy="322.4" r="2.3"/><circle cx="403.2" cy="316.5" r="2.3"/><circle cx="401.8" cy="320.4" r="2.3"/><circle cx="388.6" cy="327.3" r="2.3"/><circle cx="384.7" cy="325.1" r="2.3"/><circle cx="385.6" cy="327.3" r="2.3"/><circle cx="403.4" cy="316.2" r="2.3"/><circle cx="387.0" cy="327.1" r="2.3"/><circle cx="392.6" cy="323.2" r="2.3"/><circle cx="376.0" cy="334.3" r="2.3"/><circle cx="398.6" cy="318.3" r="2.3"/><circle cx="387.8" cy="326.5" r="2.3"/><circle cx="386.0" cy="326.9" r="2.3"/><circle cx="387.9" cy="329.9" r="2.3"/><circle cx="387.6" cy="326.0" r="2.3"/><circle cx="405.3" cy="318.4" r="2.3"/><circle cx="395.6" cy="320.8" r="2.3"/><circle cx="394.2" cy="317.9" r="2.3"/><circle cx="381.7" cy="331.4" r="2.3"/><circle cx="375.9" cy="337.6" r="2.3"/><circle cx="368.1" cy="339.7" r="2.3"/><circle cx="382.0" cy="328.3" r="2.3"/><circle cx="389.1" cy="321.6" r="2.3"/><circle cx="390.6" cy="322.3" r="2.3"/><circle cx="377.3" cy="340.2" r="2.3"/><circle cx="394.1" cy="317.9" r="2.3"/><circle cx="383.3" cy="329.3" r="2.3"/><circle cx="401.5" cy="317.2" r="2.3"/><circle cx="386.1" cy="326.5" r="2.3"/><circle cx="387.7" cy="322.4" r="2.3"/><circle cx="381.5" cy="330.4" r="2.3"/><circle cx="382.8" cy="331.1" r="2.3"/><circle cx="390.9" cy="326.4" r="2.3"/><circle cx="395.9" cy="321.6" r="2.3"/><circle cx="395.9" cy="318.6" r="2.3"/><circle cx="382.0" cy="330.5" r="2.3"/><circle cx="375.5" cy="333.3" r="2.3"/><circle cx="395.3" cy="324.0" r="2.3"/><circle cx="403.9" cy="317.1" r="2.3"/><circle cx="385.3" cy="330.2" r="2.3"/><circle cx="384.5" cy="327.9" r="2.3"/><circle cx="383.8" cy="327.3" r="2.3"/><circle cx="393.5" cy="323.4" r="2.3"/><circle cx="403.9" cy="323.8" r="2.3"/><circle cx="380.7" cy="333.4" r="2.3"/><circle cx="393.1" cy="320.9" r="2.3"/><circle cx="400.9" cy="313.0" r="2.3"/><circle cx="394.5" cy="319.3" r="2.3"/><circle cx="379.8" cy="328.8" r="2.3"/><circle cx="374.3" cy="335.9" r="2.3"/><circle cx="389.4" cy="324.2" r="2.3"/><circle cx="400.6" cy="312.6" r="2.3"/><circle cx="396.0" cy="316.9" r="2.3"/><circle cx="403.2" cy="315.9" r="2.3"/><circle cx="384.1" cy="325.7" r="2.3"/><circle cx="388.9" cy="322.9" r="2.3"/><circle cx="380.3" cy="330.0" r="2.3"/><circle cx="395.5" cy="321.2" r="2.3"/><circle cx="387.3" cy="326.1" r="2.3"/><circle cx="379.9" cy="328.9" r="2.3"/><circle cx="388.5" cy="331.4" r="2.3"/><circle cx="395.2" cy="320.4" r="2.3"/><circle cx="402.0" cy="322.4" r="2.3"/><circle cx="403.7" cy="326.4" r="2.3"/><circle cx="400.2" cy="312.1" r="2.3"/><circle cx="401.0" cy="323.6" r="2.3"/><circle cx="381.3" cy="333.0" r="2.3"/><circle cx="401.8" cy="317.9" r="2.3"/><circle cx="380.4" cy="330.5" r="2.3"/><circle cx="379.2" cy="334.0" r="2.3"/><circle cx="395.9" cy="317.7" r="2.3"/><circle cx="384.2" cy="329.7" r="2.3"/><circle cx="389.1" cy="323.7" r="2.3"/><circle cx="386.5" cy="330.9" r="2.3"/><circle cx="386.3" cy="324.1" r="2.3"/><circle cx="372.6" cy="338.5" r="2.3"/><circle cx="398.4" cy="317.1" r="2.3"/><circle cx="400.0" cy="312.5" r="2.3"/><circle cx="387.5" cy="326.6" r="2.3"/><circle cx="400.3" cy="312.3" r="2.3"/><circle cx="396.7" cy="315.7" r="2.3"/><circle cx="400.4" cy="313.4" r="2.3"/><circle cx="400.3" cy="312.2" r="2.3"/><circle cx="376.4" cy="332.6" r="2.3"/><circle cx="399.0" cy="319.3" r="2.3"/><circle cx="386.9" cy="323.7" r="2.3"/><circle cx="397.8" cy="318.9" r="2.3"/><circle cx="388.8" cy="328.4" r="2.3"/><circle cx="400.5" cy="312.5" r="2.3"/><circle cx="401.4" cy="313.6" r="2.3"/><circle cx="392.8" cy="328.2" r="2.3"/><circle cx="398.2" cy="325.7" r="2.3"/><circle cx="393.6" cy="324.3" r="2.3"/><circle cx="392.9" cy="322.9" r="2.3"/><circle cx="399.6" cy="317.5" r="2.3"/><circle cx="381.3" cy="333.2" r="2.3"/><circle cx="374.7" cy="334.2" r="2.3"/><circle cx="406.5" cy="322.2" r="2.3"/><circle cx="393.4" cy="321.5" r="2.3"/><circle cx="383.6" cy="325.6" r="2.3"/><circle cx="383.1" cy="329.5" r="2.3"/><circle cx="373.5" cy="333.9" r="2.3"/><circle cx="388.7" cy="328.5" r="2.3"/><circle cx="372.2" cy="337.2" r="2.3"/><circle cx="390.1" cy="321.7" r="2.3"/><circle cx="397.5" cy="328.1" r="2.3"/><circle cx="382.5" cy="328.9" r="2.3"/><circle cx="404.1" cy="321.6" r="2.3"/><circle cx="342.3" cy="334.6" r="2.3"/><circle cx="358.8" cy="339.4" r="2.3"/><circle cx="367.7" cy="316.5" r="2.3"/><circle cx="387.5" cy="311.9" r="2.3"/><circle cx="379.0" cy="320.0" r="2.3"/><circle cx="370.0" cy="328.0" r="2.3"/><circle cx="398.0" cy="307.5" r="2.3"/><circle cx="363.0" cy="337.0" r="2.3"/><circle cx="371.5" cy="333.0" r="2.3"/><circle cx="375.5" cy="329.5" r="2.3"/>
</g>
<g fill="#e7ecf7" stroke="#5878c2" stroke-width="0.8">
<circle cx="424.3" cy="354.3" r="2.4"/><circle cx="428.6" cy="353.0" r="2.4"/><circle cx="430.6" cy="355.0" r="2.4"/><circle cx="415.6" cy="354.6" r="2.4"/><circle cx="423.3" cy="356.1" r="2.4"/><circle cx="411.7" cy="354.9" r="2.4"/><circle cx="416.7" cy="353.1" r="2.4"/><circle cx="430.8" cy="352.3" r="2.4"/><circle cx="415.1" cy="352.7" r="2.4"/><circle cx="425.6" cy="338.4" r="2.4"/><circle cx="418.9" cy="353.0" r="2.4"/><circle cx="425.4" cy="357.8" r="2.4"/><circle cx="416.6" cy="350.1" r="2.4"/><circle cx="436.1" cy="349.8" r="2.4"/><circle cx="422.7" cy="350.6" r="2.4"/><circle cx="410.5" cy="350.1" r="2.4"/><circle cx="422.9" cy="350.8" r="2.4"/><circle cx="431.4" cy="337.4" r="2.4"/><circle cx="427.1" cy="356.5" r="2.4"/><circle cx="409.3" cy="356.1" r="2.4"/><circle cx="414.0" cy="357.9" r="2.4"/><circle cx="410.2" cy="357.6" r="2.4"/><circle cx="434.7" cy="339.9" r="2.4"/><circle cx="423.2" cy="350.1" r="2.4"/><circle cx="433.8" cy="353.5" r="2.4"/><circle cx="432.6" cy="352.1" r="2.4"/><circle cx="417.4" cy="352.7" r="2.4"/><circle cx="432.9" cy="344.4" r="2.4"/><circle cx="420.3" cy="352.9" r="2.4"/><circle cx="423.1" cy="345.7" r="2.4"/><circle cx="402.4" cy="362.0" r="2.4"/><circle cx="417.6" cy="346.3" r="2.4"/><circle cx="415.5" cy="351.6" r="2.4"/><circle cx="414.2" cy="360.0" r="2.4"/><circle cx="423.7" cy="351.8" r="2.4"/><circle cx="405.8" cy="356.1" r="2.4"/><circle cx="418.5" cy="354.7" r="2.4"/><circle cx="401.5" cy="359.8" r="2.4"/><circle cx="419.1" cy="355.0" r="2.4"/><circle cx="415.1" cy="360.7" r="2.4"/><circle cx="439.8" cy="344.5" r="2.4"/><circle cx="420.2" cy="344.9" r="2.4"/><circle cx="428.6" cy="351.8" r="2.4"/><circle cx="400.6" cy="357.6" r="2.4"/><circle cx="418.1" cy="359.8" r="2.4"/><circle cx="409.5" cy="362.6" r="2.4"/><circle cx="435.8" cy="346.6" r="2.4"/><circle cx="432.7" cy="350.3" r="2.4"/><circle cx="419.7" cy="346.3" r="2.4"/><circle cx="419.7" cy="344.9" r="2.4"/><circle cx="421.5" cy="351.1" r="2.4"/><circle cx="420.9" cy="354.7" r="2.4"/><circle cx="430.6" cy="355.6" r="2.4"/><circle cx="426.4" cy="347.4" r="2.4"/><circle cx="417.5" cy="349.9" r="2.4"/><circle cx="411.1" cy="352.9" r="2.4"/><circle cx="437.9" cy="342.2" r="2.4"/><circle cx="416.3" cy="355.8" r="2.4"/><circle cx="410.1" cy="350.5" r="2.4"/><circle cx="441.3" cy="348.2" r="2.4"/><circle cx="419.9" cy="347.0" r="2.4"/><circle cx="423.3" cy="363.1" r="2.4"/><circle cx="405.4" cy="358.9" r="2.4"/><circle cx="409.4" cy="358.3" r="2.4"/><circle cx="433.8" cy="339.4" r="2.4"/><circle cx="418.0" cy="355.7" r="2.4"/><circle cx="430.9" cy="339.4" r="2.4"/><circle cx="410.5" cy="361.5" r="2.4"/><circle cx="429.5" cy="346.2" r="2.4"/><circle cx="423.6" cy="353.1" r="2.4"/><circle cx="417.7" cy="356.9" r="2.4"/><circle cx="403.6" cy="364.9" r="2.4"/><circle cx="439.3" cy="351.9" r="2.4"/><circle cx="425.3" cy="356.7" r="2.4"/><circle cx="422.8" cy="355.9" r="2.4"/><circle cx="430.8" cy="345.8" r="2.4"/><circle cx="408.5" cy="352.7" r="2.4"/><circle cx="439.4" cy="348.9" r="2.4"/><circle cx="431.8" cy="350.1" r="2.4"/><circle cx="427.5" cy="347.7" r="2.4"/><circle cx="428.9" cy="349.4" r="2.4"/><circle cx="416.3" cy="359.6" r="2.4"/><circle cx="421.9" cy="357.1" r="2.4"/><circle cx="426.2" cy="347.8" r="2.4"/><circle cx="414.1" cy="349.4" r="2.4"/><circle cx="434.3" cy="338.0" r="2.4"/><circle cx="430.8" cy="346.6" r="2.4"/><circle cx="437.6" cy="344.5" r="2.4"/><circle cx="402.8" cy="354.1" r="2.4"/><circle cx="441.7" cy="349.5" r="2.4"/><circle cx="420.0" cy="362.7" r="2.4"/><circle cx="412.2" cy="352.9" r="2.4"/><circle cx="420.2" cy="356.9" r="2.4"/><circle cx="438.2" cy="345.2" r="2.4"/><circle cx="428.5" cy="352.7" r="2.4"/><circle cx="427.1" cy="351.3" r="2.4"/><circle cx="433.9" cy="347.2" r="2.4"/><circle cx="436.2" cy="351.2" r="2.4"/><circle cx="436.6" cy="349.9" r="2.4"/><circle cx="432.3" cy="346.2" r="2.4"/><circle cx="426.6" cy="353.0" r="2.4"/><circle cx="427.1" cy="347.5" r="2.4"/><circle cx="406.7" cy="358.8" r="2.4"/><circle cx="421.6" cy="355.8" r="2.4"/><circle cx="402.8" cy="363.0" r="2.4"/><circle cx="418.4" cy="346.5" r="2.4"/><circle cx="424.4" cy="354.5" r="2.4"/><circle cx="411.4" cy="351.2" r="2.4"/><circle cx="416.6" cy="356.0" r="2.4"/><circle cx="435.3" cy="350.5" r="2.4"/><circle cx="415.5" cy="348.0" r="2.4"/><circle cx="420.4" cy="348.0" r="2.4"/><circle cx="441.4" cy="348.4" r="2.4"/><circle cx="426.3" cy="352.4" r="2.4"/><circle cx="428.8" cy="339.6" r="2.4"/><circle cx="427.3" cy="368.1" r="2.4"/><circle cx="413.7" cy="373.0" r="2.4"/><circle cx="411.6" cy="368.9" r="2.4"/><circle cx="420.0" cy="372.9" r="2.4"/><circle cx="413.3" cy="373.5" r="2.4"/><circle cx="419.5" cy="370.5" r="2.4"/><circle cx="421.2" cy="370.4" r="2.4"/><circle cx="429.1" cy="371.6" r="2.4"/><circle cx="425.2" cy="372.0" r="2.4"/><circle cx="419.2" cy="374.6" r="2.4"/><circle cx="420.0" cy="370.5" r="2.4"/><circle cx="421.7" cy="370.7" r="2.4"/><circle cx="421.0" cy="374.2" r="2.4"/><circle cx="416.0" cy="368.0" r="2.4"/><circle cx="422.3" cy="371.7" r="2.4"/><circle cx="415.4" cy="368.3" r="2.4"/><circle cx="414.8" cy="371.3" r="2.4"/><circle cx="418.8" cy="370.2" r="2.4"/><circle cx="425.0" cy="373.7" r="2.4"/><circle cx="423.6" cy="373.8" r="2.4"/><circle cx="403.8" cy="375.0" r="2.4"/><circle cx="412.5" cy="373.3" r="2.4"/><circle cx="418.8" cy="376.0" r="2.4"/><circle cx="421.7" cy="380.8" r="2.4"/><circle cx="434.4" cy="360.6" r="2.4"/><circle cx="437.9" cy="359.4" r="2.4"/><circle cx="424.6" cy="340.4" r="2.4"/>
</g>
<g stroke="#231f20" stroke-width="0.6"><line x1="392.8" y1="305.4" x2="392.8" y2="318.5"/><line x1="376.9" y1="314.6" x2="383" y2="323"/><line x1="374.6" y1="327" x2="383.8" y2="331.2"/><line x1="357.7" y1="332.3" x2="364.6" y2="336"/></g>
<text x="379.5" y="302.3" font-size="8.4" font-style="italic" textLength="22.5" lengthAdjust="spacingAndGlyphs" >Ripk1</text>
<text x="356.9" y="311.5" font-size="8.4" font-style="italic" textLength="26.1" lengthAdjust="spacingAndGlyphs" >Ccnd3</text>
<text x="353" y="325" font-size="8.4" font-style="italic" textLength="21.3" lengthAdjust="spacingAndGlyphs" >Cdk6</text>
<text x="336.5" y="333" font-size="8.4" font-style="italic" textLength="22" lengthAdjust="spacingAndGlyphs" >Stat3</text>
<text x="0.9" y="210.2" font-size="13.1" font-weight="bold" fill="#000" textLength="8.7" lengthAdjust="spacingAndGlyphs" >B</text>
<text x="140.9" y="442.4" font-size="10.8" style="stroke-width:0.3px" textLength="45" lengthAdjust="spacingAndGlyphs">HPC7 STAT3</text>
<text x="186.9" y="439.0" font-size="7.6" style="stroke-width:0.25px" textLength="18.8" lengthAdjust="spacingAndGlyphs">Y640F</text>
<text x="207.3" y="442.4" font-size="10.8" style="stroke-width:0.3px" textLength="34" lengthAdjust="spacingAndGlyphs">(log<tspan font-size="7" dy="2.2">2</tspan><tspan dy="-2.2"> FC)</tspan></text>
<text x="380.1" y="442.4" font-size="10.8" style="stroke-width:0.3px" textLength="44.6" lengthAdjust="spacingAndGlyphs">HPC7 STAT3</text>
<text x="425.2" y="439.0" font-size="7.6" style="stroke-width:0.25px" textLength="20" lengthAdjust="spacingAndGlyphs">Y640F</text>
<text x="447.8" y="442.4" font-size="10.8" style="stroke-width:0.3px" textLength="58.4" lengthAdjust="spacingAndGlyphs">(norm. log<tspan font-size="7" dy="2.2">2</tspan><tspan dy="-2.2"> FC)</tspan></text>
<text transform="translate(24.2,371.6) rotate(-90)" x="0" y="0" font-size="10.8" style="stroke-width:0.3px" textLength="110" lengthAdjust="spacingAndGlyphs">HPC7 empty vector (log<tspan font-size="7" dy="2.2">2</tspan><tspan dy="-2.2"> FC)</tspan></text>
<text transform="translate(282.5,385.6) rotate(-90)" x="0" y="0" font-size="10.8" style="stroke-width:0.3px" textLength="135.6" lengthAdjust="spacingAndGlyphs">HPC7 empty vector (norm. log<tspan font-size="7" dy="2.2">2</tspan><tspan dy="-2.2"> FC)</tspan></text>
<circle cx="62.7" cy="463.1" r="2.8" fill="#e3e6e5" stroke="#b9c1be" stroke-width="0.8"/>
<circle cx="62.7" cy="477.5" r="2.8" fill="#555" stroke="#222" stroke-width="0.8"/>
<text x="69.8" y="466.3" font-size="8.7" >all genes</text>
<text x="69.8" y="480.7" font-size="8.7" >core-essential</text>
<circle cx="307.5" cy="463.2" r="2.8" fill="#d4101e" stroke="#b0000f" stroke-width="0.6"/>
<circle cx="307.5" cy="477" r="2.8" fill="#e6ebf5" stroke="#5d7fc4" stroke-width="0.8"/>
<text x="314" y="466.4" font-size="8.7" textLength="102.3" lengthAdjust="spacingAndGlyphs">HPC7 STAT3<tspan font-size="6.2" dy="-2.8">Y640F</tspan><tspan dy="2.8"> selective</tspan></text>
<text x="314" y="480.2" font-size="8.7" textLength="112" lengthAdjust="spacingAndGlyphs" >HPC7 empty vector selective</text>
<text x="81.3" y="521.2" font-size="12.8" font-weight="bold" fill="#000" >C</text>
<text transform="translate(187.7,606.6) rotate(-23)" x="0" y="0" font-size="7.6" textLength="175" lengthAdjust="spacingAndGlyphs">purine nucleoside biosynthetic process (GO:0009127)</text>
<text transform="translate(213.0,607.4) rotate(-23)" x="0" y="0" font-size="7.6" textLength="182" lengthAdjust="spacingAndGlyphs">purine ribonucleoside metabolic process (GO:0009167)</text>
<text transform="translate(239.5,607.2) rotate(-23)" x="0" y="0" font-size="7.6" textLength="187" lengthAdjust="spacingAndGlyphs">negative regulation of cellular senescence (GO:2000773)</text>
<text transform="translate(269.1,608.0) rotate(-23)" x="0" y="0" font-size="7.6" textLength="101" lengthAdjust="spacingAndGlyphs">gene expression (GO:0010467)</text>
<text transform="translate(296.0,606.0) rotate(-23)" x="0" y="0" font-size="7.6" textLength="104" lengthAdjust="spacingAndGlyphs">rRNA processing (GO:0006364)</text>
<text transform="translate(322.0,607.0) rotate(-23)" x="0" y="0" font-size="7.6" textLength="142" lengthAdjust="spacingAndGlyphs">mitochondrial ATP synthesis (GO:0042775)</text>
<text x="94.5" y="601.8" font-size="7.3" textLength="69.2" lengthAdjust="spacingAndGlyphs" >Gene ontology (GO):</text>
<text x="94.5" y="610.4" font-size="7.3" textLength="59.4" lengthAdjust="spacingAndGlyphs" >Biological Process</text>
<line x1="85.9" y1="613.8" x2="171" y2="613.8" stroke="#3a3a3a" stroke-width="1.2"/>
<text x="89" y="630" font-size="9.4" textLength="50.8" lengthAdjust="spacingAndGlyphs" >HPC7 STAT3</text>
<text x="140.4" y="625.8" font-size="6.9" textLength="19.4" lengthAdjust="spacingAndGlyphs" >Y640F</text>
<text x="89" y="654.8" font-size="9.4" textLength="81" lengthAdjust="spacingAndGlyphs" >HPC7 empty vector</text>
<rect x="175" y="613.6" width="162.8" height="52.9" fill="none" stroke="#1a1a1a" stroke-width="1.3"/>
<circle cx="187.7" cy="626.8" r="8.9" fill="#c8102e" stroke="#8e0c20" stroke-width="0.8"/>
<circle cx="215.2" cy="626.8" r="8.9" fill="#c8102e" stroke="#8e0c20" stroke-width="0.8"/>
<circle cx="242.4" cy="626.8" r="8.9" fill="#c8102e" stroke="#8e0c20" stroke-width="0.8"/>
<circle cx="270.7" cy="626.8" r="8.9" fill="#c8102e" stroke="#8e0c20" stroke-width="0.8"/>
<circle cx="296.7" cy="626.8" r="8.9" fill="#c8102e" stroke="#8e0c20" stroke-width="0.8"/>
<circle cx="323.9" cy="626.8" r="1.3" fill="#222"/>
<text x="190.5" y="652.3" font-size="8.8" text-anchor="middle" textLength="13" lengthAdjust="spacingAndGlyphs" >NA</text>
<text x="213.4" y="652.3" font-size="8.8" text-anchor="middle" textLength="13" lengthAdjust="spacingAndGlyphs" >NA</text>
<text x="240.4" y="652.3" font-size="8.8" text-anchor="middle" textLength="13" lengthAdjust="spacingAndGlyphs" >NA</text>
<circle cx="270.4" cy="651.1" r="4.5" fill="#1c4f8f" stroke="#133a6b" stroke-width="0.8"/>
<circle cx="296.9" cy="651.4" r="8.9" fill="#1c4f8f" stroke="#133a6b" stroke-width="0.8"/>
<circle cx="323.9" cy="651.4" r="8.9" fill="#1c4f8f" stroke="#133a6b" stroke-width="0.8"/>
<text x="350.8" y="619.2" font-size="8" textLength="70.4" lengthAdjust="spacingAndGlyphs"><tspan font-style="italic">P</tspan> value (adjusted):</text>
<circle cx="367.8" cy="632.7" r="8.7" fill="#c9c9cd" stroke="#4a4a4a" stroke-width="1"/>
<circle cx="367.9" cy="649.9" r="4.3" fill="#c9c9cd" stroke="#4a4a4a" stroke-width="1"/>
<circle cx="367.8" cy="663.8" r="1.3" fill="#777" stroke="#4a4a4a" stroke-width="0.6"/>
<text x="381.9" y="635.5" font-size="8.2" textLength="23.1" lengthAdjust="spacingAndGlyphs" >&lt; 0.01</text>
<text x="381.9" y="652.4" font-size="8.2" textLength="24.3" lengthAdjust="spacingAndGlyphs" >&lt; 0.05</text>
<text x="381.9" y="665.8" font-size="8.2" textLength="22.3" lengthAdjust="spacingAndGlyphs" >&gt;0.05</text>
</svg></body></html>
